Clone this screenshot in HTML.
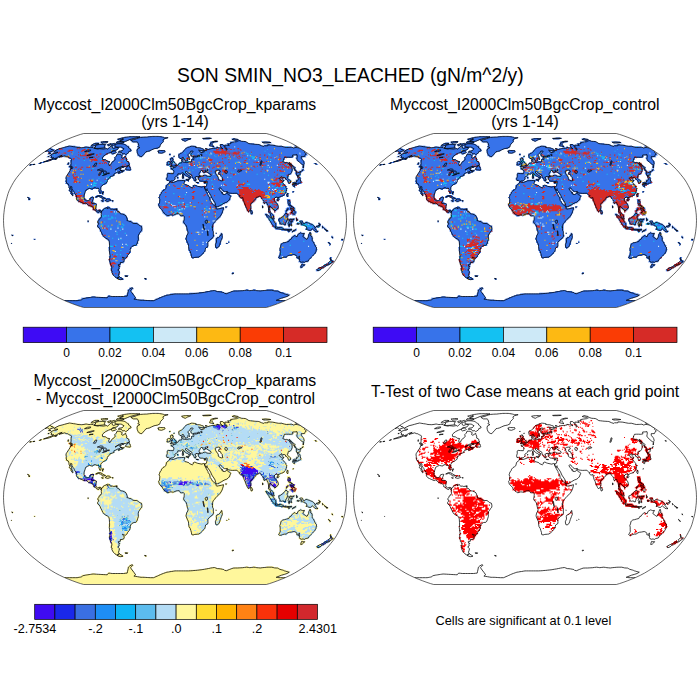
<!DOCTYPE html><html><head><meta charset="utf-8"><title>SON SMIN_NO3_LEACHED</title><style>html,body{margin:0;padding:0;background:#fff}svg{display:block}text{font-family:"Liberation Sans",Arial,Helvetica,sans-serif;fill:#000}.r{fill:none;stroke-width:1.12}</style></head><body>
<svg width="700" height="700" viewBox="0 0 700 700">
<rect width="700" height="700" fill="#fff"/>
<defs>
<path id="fr" d="M91.3 87L94.5 86.1L98.1 84.9L102.2 83.4L106.6 81.7L111.1 79.8L115.5 77.7L119.5 75.6L123.2 73.4L126.8 71.1L130.3 68.8L133.7 66.4L137 63.9L140.1 61.4L143.2 58.9L146.1 56.3L148.8 53.7L151.3 51.1L153.7 48.5L155.9 45.8L158.1 43.1L160 40.5L161.7 37.8L163.2 35.1L164.6 32.4L165.9 29.7L166.9 27L167.7 24.3L168.4 21.6L169.2 18.9L169.8 16.2L170.3 13.5L170.7 10.8L171 8.1L171.3 5.4L171.4 2.7L171.5 0L171.4 -2.7L171.3 -5.4L171 -8.1L170.7 -10.8L170.3 -13.5L169.8 -16.2L169.2 -18.9L168.4 -21.6L167.7 -24.3L166.9 -27L165.9 -29.7L164.6 -32.4L163.2 -35.1L161.7 -37.8L160 -40.5L158.1 -43.1L155.9 -45.8L153.7 -48.5L151.3 -51.1L148.8 -53.7L146.1 -56.3L143.2 -58.9L140.1 -61.4L137 -63.9L133.7 -66.4L130.3 -68.8L126.8 -71.1L123.2 -73.4L119.5 -75.6L115.5 -77.7L111.1 -79.8L106.6 -81.7L102.2 -83.4L98.1 -84.9L94.5 -86.1L91.3 -87L-91.3 -87L-94.5 -86.1L-98.1 -84.9L-102.2 -83.4L-106.6 -81.7L-111.1 -79.8L-115.5 -77.7L-119.5 -75.6L-123.2 -73.4L-126.8 -71.1L-130.3 -68.8L-133.7 -66.4L-137 -63.9L-140.1 -61.4L-143.2 -58.9L-146.1 -56.3L-148.8 -53.7L-151.3 -51.1L-153.7 -48.5L-155.9 -45.8L-158.1 -43.1L-160 -40.5L-161.7 -37.8L-163.2 -35.1L-164.6 -32.4L-165.9 -29.7L-166.9 -27L-167.7 -24.3L-168.4 -21.6L-169.2 -18.9L-169.8 -16.2L-170.3 -13.5L-170.7 -10.8L-171 -8.1L-171.3 -5.4L-171.4 -2.7L-171.5 0L-171.4 2.7L-171.3 5.4L-171 8.1L-170.7 10.8L-170.3 13.5L-169.8 16.2L-169.2 18.9L-168.4 21.6L-167.7 24.3L-166.9 27L-165.9 29.7L-164.6 32.4L-163.2 35.1L-161.7 37.8L-160 40.5L-158.1 43.1L-155.9 45.8L-153.7 48.5L-151.3 51.1L-148.8 53.7L-146.1 56.3L-143.2 58.9L-140.1 61.4L-137 63.9L-133.7 66.4L-130.3 68.8L-126.8 71.1L-123.2 73.4L-119.5 75.6L-115.5 77.7L-111.1 79.8L-106.6 81.7L-102.2 83.4L-98.1 84.9L-94.5 86.1L-91.3 87Z"/>
<clipPath id="cp"><use href="#fr"/></clipPath>
<path id="land" d="M-91.8 86.9H91.5L91 87H-91.3zM-93 86.5H92.7L91.5 86.9H-91.8zM-94.3 86.2H93.9L92.7 86.5H-93zM-95.6 85.8H95.3L93.9 86.2H-94.3zM-97 85.3H96.6L95.3 85.8H-95.6zM-98.4 84.8H98.1L96.6 85.3H-97zM-99.9 84.3H99.6L98.1 84.8H-98.4zM-101.5 83.7H101.1L99.6 84.3H-99.9zM-103.1 83.1H102.7L101.1 83.7H-101.5zM-104.7 82.5H104.3L102.7 83.1H-103.1zM-106.4 81.8H106L104.3 82.5H-104.7zM-108.1 81.1H107.7L106 81.8H-106.4zM-109.8 80.4H109.4L107.7 81.1H-108.1zM-111.5 79.6H111.1L109.4 80.4H-109.8zM-97.8 78.9H-31L-30.6 79.6H-96.4zM-20.8 78.9H104.1L102.6 79.6H-20.5zM-94.5 78.1H-38.7L-38.1 78.9H-93.1zM-19.5 78.1H105.6L104.1 78.9H-19.2zM-94.1 77.3H-39.2L-38.7 78.1H-92.9zM-17.4 77.3H108.7L107.2 78.1H-17.1zM-89.7 76.5H-39.7L-39.2 77.3H-88.5zM-16 76.5H110.9L109.5 77.3H-15.8zM-84.2 75.7H-80L-79 76.5H-83.1zM-68.4 75.7H-40.2L-39.7 76.5H-67.6zM-13.7 75.7H113.2L111.8 76.5H-13.5zM-67.5 74.8H-65L-64.3 75.7H-66.7zM-50.8 74.8H-40.7L-40.2 75.7H-50.2zM-11.3 74.8H114.5L113.2 75.7H-11.2zM-48.8 74H-41.2L-40.7 74.8H-48.2zM-8.9 74H115.9L114.5 74.8H-8.8zM-48.5 73.1H-41.6L-41.2 74H-48zM-4.7 73.1H113.7L112.5 74H-4.7zM-48.2 72.3H-42.1L-41.6 73.1H-47.6zM14.3 72.3H110.7L109.5 73.1H14.2zM-47.8 71.4H-43.4L-43 72.3H-47.3zM24.1 71.4H49.6L49 72.3H23.9zM54 71.4H109.2L108.1 72.3H53.4zM-47.4 70.6H-43.9L-43.4 71.4H-46.9zM30.6 70.6H47.4L46.9 71.4H30.3zM56.3 70.6H105.9L104.8 71.4H55.7zM-47.9 69.7H-43.4L-43 70.6H-47.4zM35.4 69.7H41.6L41.2 70.6H35zM58.7 69.7H104.3L103.3 70.6H58.1zM-47.5 68.8H-43L-42.5 69.7H-47zM71 68.8H73.7L73 69.7H70.3zM78.2 68.8H81L80.1 69.7H77.5zM91.8 68.8H99L98.1 69.7H90.9zM-46.1 67.9H-41.6L-41.2 68.8H-45.7zM-45.7 67H-42L-41.6 67.9H-45.2zM-57.3 58.5H-51.4L-51 59.5H-56.9zM-30.4 58.5H-28.4L-28.2 59.5H-30.2zM-58.8 57.6H-51.8L-51.4 58.5H-58.3zM-30.7 57.6H-28.6L-28.4 58.5H-30.4zM-60.2 56.6H-53.2L-52.8 57.6H-59.8zM-60.7 55.6H-55.6L-55.2 56.6H-60.2zM-50.5 55.6H-47.4L-47.1 56.6H-50.1zM-62.1 54.7H-56L-55.6 55.6H-61.7zM-50.8 54.7H-46.7L-46.4 55.6H-50.5zM-62.6 53.7H-55.3L-54.9 54.7H-62.1zM-63 52.7H-55.7L-55.3 53.7H-62.6zM56.7 52.7H58.8L58.4 53.7H56.4zM-63.4 51.7H-55L-54.6 52.7H-63zM57.1 51.7H59.2L58.8 52.7H56.7zM-63.7 50.7H-55.3L-55 51.7H-63.4zM-64.1 49.7H-55.6L-55.3 50.7H-63.7zM141.5 49.7H144.7L143.8 50.7H140.7zM-64.5 48.7H-56L-55.6 49.7H-64.1zM141.2 48.7H146.6L145.7 49.7H140.4zM-64.8 47.7H-55.2L-54.9 48.7H-64.5zM143.1 47.7H147.4L146.6 48.7H142.3zM-64.1 46.7H-55.5L-55.2 47.7H-63.8zM125.6 46.7H127.7L127 47.7H124.9zM143.9 46.7H149.3L148.5 47.7H143.1zM-64.5 45.7H-54.7L-54.4 46.7H-64.1zM125.1 45.7H128.4L127.7 46.7H124.5zM146.8 45.7H151.2L150.3 46.7H146zM-64.8 44.7H-55L-54.7 45.7H-64.5zM125.8 44.7H130.2L129.5 45.7H125.1zM148.7 44.7H153L152.2 45.7H147.9zM-65.1 43.7H-54.2L-53.9 44.7H-64.8zM126.4 43.7H130.8L130.2 44.7H125.8zM149.4 43.7H154.9L154.1 44.7H148.7zM-65.4 42.7H-54.4L-54.2 43.7H-65.1zM127 42.7H128.1L127.5 43.7H126.4zM151.2 42.7H156.7L156 43.7H150.5zM-65.7 41.7H-51.4L-51.1 42.7H-65.4zM125.4 41.7H129.8L129.2 42.7H124.8zM153 41.7H158.6L157.8 42.7H152.3zM-66 40.7H-50.5L-50.3 41.7H-65.7zM123.7 40.7H133.7L133.1 41.7H123.2zM154.8 40.7H159.3L158.6 41.7H154.1zM-66.3 39.6H-50.7L-50.5 40.7H-66zM124.3 39.6H134.3L133.7 40.7H123.7zM155.5 39.6H158.8L158.1 40.7H154.8zM-66.6 38.6H-49.8L-49.6 39.6H-66.3zM123.6 38.6H134.8L134.3 39.6H123.1zM155 38.6H157.2L156.6 39.6H154.4zM-65.7 37.6H-48.9L-48.7 38.6H-65.5zM17.4 37.6H18.5L18.5 38.6H17.3zM103.9 37.6H107.3L106.9 38.6H103.5zM121.9 37.6H136.5L136 38.6H121.4zM154.5 37.6H156.7L156.1 38.6H153.9zM-66 36.6H-47.9L-47.7 37.6H-65.7zM16.3 36.6H24.2L24.2 37.6H16.3zM103.2 36.6H112.2L111.8 37.6H102.8zM121.2 36.6H137L136.5 37.6H120.8zM155 36.6H157.3L156.7 37.6H154.5zM-66.2 35.6H-47L-46.8 36.6H-66zM16.4 35.6H25.5L25.4 36.6H16.3zM103.5 35.6H112.6L112.2 36.6H103.2zM121.6 35.6H137.5L137 36.6H121.2zM-65.3 34.6H-47.1L-47 35.6H-65.1zM15.3 34.6H26.7L26.6 35.6H15.3zM103.9 34.6H117.5L117.1 35.6H103.5zM119.8 34.6H139.1L138.6 35.6H119.4zM-65.5 33.6H-46.1L-46 34.6H-65.3zM15.4 33.6H27.9L27.8 34.6H15.3zM104.2 33.6H139.6L139.1 34.6H103.9zM-65.7 32.5H-45.1L-45 33.6H-65.5zM15.4 32.5H29.1L29 33.6H15.4zM104.6 32.5H141.1L140.7 33.6H104.2zM-65.9 31.5H-44.1L-44 32.5H-65.7zM14.3 31.5H29.2L29.1 32.5H14.3zM104.9 31.5H141.5L141.1 32.5H104.6zM-66.1 30.5H-44.2L-44.1 31.5H-65.9zM14.4 30.5H30.5L30.4 31.5H14.3zM105.2 30.5H141.9L141.5 31.5H104.9zM-66.3 29.5H-44.4L-44.2 30.5H-66.1zM13.3 29.5H30.5L30.5 30.5H13.2zM104.3 29.5H142.3L141.9 30.5H104zM-66.4 28.5H-44.5L-44.4 29.5H-66.3zM13.3 28.5H30.6L30.5 29.5H13.3zM104.5 28.5H142.6L142.3 29.5H104.3zM-66.6 27.5H-43.4L-43.3 28.5H-66.4zM13.3 27.5H30.7L30.6 28.5H13.3zM41.1 27.5H42.3L42.2 28.5H41zM104.8 27.5H141.8L141.5 28.5H104.5zM-66.7 26.4H-43.5L-43.4 27.5H-66.6zM13.3 26.4H33.1L33 27.5H13.3zM40 26.4H43.5L43.4 27.5H39.9zM105 26.4H142.1L141.8 27.5H104.8zM-65.7 25.4H-41.3L-41.2 26.4H-65.5zM13.4 25.4H33.1L33.1 26.4H13.3zM40.1 25.4H44.7L44.7 26.4H40zM105.2 25.4H141.2L140.9 26.4H105zM-65.8 24.4H-37.8L-37.8 25.4H-65.7zM13.4 24.4H33.2L33.1 25.4H13.4zM40.2 24.4H44.8L44.7 25.4H40.1zM105.4 24.4H141.5L141.2 25.4H105.2zM154.3 24.4H155.4L155.2 25.4H154zM-65.9 23.4H-37.9L-37.8 24.4H-65.8zM12.2 23.4H33.2L33.2 24.4H12.2zM40.2 23.4H46.1L46 24.4H40.2zM105.6 23.4H140.5L140.3 24.4H105.4zM154.5 23.4H155.7L155.4 24.4H154.3zM-164.1 22.4H-163L-162.7 23.4H-163.9zM-66 22.4H-36.8L-36.7 23.4H-65.9zM12.3 22.4H33.3L33.2 23.4H12.2zM40.3 22.4H46.1L46.1 23.4H40.2zM50.8 22.4H53.2L53.1 23.4H50.7zM105.7 22.4H139.6L139.4 23.4H105.6zM153.6 22.4H156L155.7 23.4H153.4zM-66.1 21.4H-36.9L-36.8 22.4H-66zM11.1 21.4H33.4L33.3 22.4H11.1zM40.4 21.4H46.2L46.1 22.4H40.3zM53.2 21.4H54.4L54.3 22.4H53.2zM108.2 21.4H139.8L139.6 22.4H108.1zM152.7 21.4H155.1L154.8 22.4H152.5zM-66.2 20.3H-36.9L-36.9 21.4H-66.1zM11.1 20.3H34.6L34.5 21.4H11.1zM40.4 20.3H46.3L46.2 21.4H40.4zM53.3 20.3H54.5L54.4 21.4H53.2zM111.9 20.3H138.9L138.7 21.4H111.8zM-67.5 19.3H-35.8L-35.7 20.3H-67.4zM11.2 19.3H35.8L35.7 20.3H11.1zM40.5 19.3H46.4L46.3 20.3H40.4zM113.3 19.3H137.9L137.7 20.3H113.1zM166.1 19.3H168.5L168.2 20.3H165.8zM-141.7 18.3H-139.3L-139.1 19.3H-141.5zM-68.8 18.3H-35.9L-35.8 19.3H-68.7zM10 18.3H37L37 19.3H10zM40.6 18.3H47.6L47.5 19.3H40.5zM114.6 18.3H138.1L137.9 19.3H114.5zM166.4 18.3H168.7L168.5 19.3H166.1zM-70.1 17.3H-35.9L-35.9 18.3H-70zM10 17.3H38.3L38.2 18.3H10zM40.6 17.3H47.7L47.6 18.3H40.6zM116 17.3H131.3L131.1 18.3H115.8zM132.5 17.3H138.3L138.1 18.3H132.3zM157.2 17.3H158.4L158.1 18.3H157zM-71.3 16.3H-36L-35.9 17.3H-71.2zM11.2 16.3H38.3L38.3 17.3H11.2zM41.9 16.3H47.7L47.7 17.3H41.8zM116.1 16.3H130.3L130.1 17.3H116zM132.6 16.3H137.3L137.2 17.3H132.5zM156.2 16.3H158.6L158.4 17.3H156zM-72.6 15.3H-36L-36 16.3H-72.5zM11.2 15.3H39.5L39.5 16.3H11.2zM44.3 15.3H47.8L47.7 16.3H44.2zM117.4 15.3H129.3L129.1 16.3H117.3zM132.8 15.3H137.5L137.3 16.3H132.6zM156.4 15.3H157.6L157.4 16.3H156.2zM-163.7 14.2H-161.3L-161.1 15.3H-163.5zM-72.7 14.2H-36L-36 15.3H-72.6zM11.2 14.2H39.6L39.5 15.3H11.2zM44.3 14.2H47.9L47.8 15.3H44.3zM118.8 14.2H121.1L121 15.3H118.6zM122.3 14.2H129.4L129.3 15.3H122.2zM132.9 14.2H136.5L136.3 15.3H132.8zM-73.9 13.2H-34.9L-34.9 14.2H-73.9zM12.4 13.2H38.4L38.4 14.2H12.4zM45.5 13.2H47.9L47.9 14.2H45.5zM122.4 13.2H129.5L129.4 14.2H122.3zM133.1 13.2H136.6L136.5 14.2H132.9zM-74 12.2H-34.9L-34.9 13.2H-73.9zM12.4 12.2H38.5L38.4 13.2H12.4zM40.9 12.2H42L42 13.2H40.8zM45.6 12.2H46.8L46.7 13.2H45.5zM123.7 12.2H129.7L129.5 13.2H123.6zM134.4 12.2H136.8L136.6 13.2H134.3zM-74.1 11.2H-33.8L-33.7 12.2H-74zM12.4 11.2H38.5L38.5 12.2H12.4zM113.2 11.2H114.4L114.3 12.2H113.1zM116.7 11.2H117.9L117.8 12.2H116.6zM125 11.2H126.2L126.1 12.2H124.9zM134.5 11.2H135.7L135.6 12.2H134.4zM140.4 11.2H142.8L142.7 12.2H140.3zM-75.3 10.2H-32.6L-32.6 11.2H-75.3zM12.5 10.2H38.5L38.5 11.2H12.4zM112.1 10.2H115.6L115.5 11.2H112zM116.8 10.2H120.4L120.3 11.2H116.7zM139.4 10.2H144.1L144 11.2H139.3zM151.2 10.2H153.6L153.5 11.2H151.1zM-75.4 9.2H-32.6L-32.6 10.2H-75.3zM11.3 9.2H38.6L38.5 10.2H11.3zM106.2 9.2H116.9L116.8 10.2H106.2zM118.1 9.2H121.7L121.6 10.2H118zM132.3 9.2H137.1L137 10.2H132.2zM138.3 9.2H141.8L141.7 10.2H138.2zM150.1 9.2H152.5L152.4 10.2H150zM-75.4 8.1H-32.7L-32.6 9.2H-75.4zM11.3 8.1H38.6L38.6 9.2H11.3zM100.4 8.1H117L116.9 9.2H100.3zM120.5 8.1H121.7L121.7 9.2H120.5zM130 8.1H141.9L141.8 9.2H130zM149.1 8.1H151.4L151.3 9.2H149zM-76.6 7.1H-32.7L-32.7 8.1H-76.6zM11.3 7.1H38.6L38.6 8.1H11.3zM99.2 7.1H108.7L108.7 8.1H99.2zM131.3 7.1H140.8L140.7 8.1H131.2zM146.8 7.1H150.3L150.2 8.1H146.7zM-77.9 6.1H-32.7L-32.7 7.1H-77.8zM11.3 6.1H38.6L38.6 7.1H11.3zM98.1 6.1H107.6L107.5 7.1H98zM113.5 6.1H114.7L114.7 7.1H113.5zM131.4 6.1H144.5L144.4 7.1H131.3zM146.8 6.1H149.2L149.1 7.1H146.8zM-77.9 5.1H-32.7L-32.7 6.1H-77.9zM10.1 5.1H38.7L38.6 6.1H10.1zM96.9 5.1H101.7L101.7 6.1H96.9zM113.6 5.1H114.8L114.7 6.1H113.5zM116 5.1H117.2L117.1 6.1H115.9zM129.1 5.1H139.8L139.7 6.1H129zM141 5.1H145.7L145.6 6.1H140.9zM146.9 5.1H148.1L148 6.1H146.8zM-77.9 4.1H-35.1L-35.1 5.1H-77.9zM10.1 4.1H38.7L38.7 5.1H10.1zM97 4.1H101.7L101.7 5.1H96.9zM108.9 4.1H111.3L111.2 5.1H108.8zM112.4 4.1H117.2L117.2 5.1H112.4zM125.5 4.1H138.6L138.6 5.1H125.5zM143.4 4.1H145.8L145.7 5.1H143.3zM-76.8 3.1H-36.3L-36.3 4.1H-76.7zM8.9 3.1H38.7L38.7 4.1H8.9zM95.8 3.1H101.8L101.7 4.1H95.8zM104.1 3.1H111.3L111.3 4.1H104.1zM112.5 3.1H117.2L117.2 4.1H112.4zM120.8 3.1H137.5L137.4 4.1H120.8zM143.4 3.1H145.8L145.8 4.1H143.4zM-78 2H-37.5L-37.5 3.1H-78zM7.7 2H39.9L39.9 3.1H7.7zM95.8 2H101.8L101.8 3.1H95.8zM104.2 2H111.3L111.3 3.1H104.1zM112.5 2H117.3L117.2 3.1H112.5zM122 2H124.4L124.4 3.1H122zM125.6 2H135.1L135.1 3.1H125.6zM143.5 2H144.7L144.6 3.1H143.4zM-87.5 1H-86.3L-86.3 2H-87.5zM-78 1H-42.3L-42.3 2H-78zM7.7 1H41.1L41.1 2H7.7zM94.7 1H100.6L100.6 2H94.7zM104.2 1H112.5L112.5 2H104.2zM113.7 1H118.5L118.5 2H113.7zM124.4 1H128L128 2H124.4zM130.4 1H132.8L132.7 2H130.4zM-87.5 0H-86.3L-86.3 1H-87.5zM-78 0H-43.5L-43.5 1H-78zM7.7 0H41.1L41.1 1H7.7zM94.7 0H99.4L99.4 1H94.7zM103 0H112.5L112.5 1H103zM113.7 0H118.5L118.5 1H113.7zM120.9 0H122.1L122.1 1H120.9zM124.5 0H128L128 1H124.4zM-76.8 -1H-47L-47 0H-76.8zM8.9 -1H42.3L42.3 0H8.9zM93.5 -1H99.4L99.4 0H93.5zM103 -1H119.7L119.7 0H103zM120.9 -1H123.2L123.3 0H120.9zM-76.8 -2H-47L-47 -1H-76.8zM8.9 -2H43.5L43.5 -1H8.9zM93.5 -2H99.4L99.4 -1H93.5zM103 -2H119.7L119.7 -1H103zM120.8 -2H123.2L123.2 -1H120.9zM-75.6 -3.1H-47L-47 -2H-75.6zM8.9 -3.1H44.6L44.6 -2H8.9zM92.2 -3.1H99.4L99.4 -2H92.3zM104.1 -3.1H112.5L112.5 -2H104.2zM120.8 -3.1H122L122 -2H120.8zM-74.4 -4.1H-48.2L-48.2 -3.1H-74.4zM8.9 -4.1H45.8L45.8 -3.1H8.9zM91 -4.1H99.4L99.4 -3.1H91.1zM106.5 -4.1H113.6L113.7 -3.1H106.5zM-74.3 -5.1H-48.2L-48.2 -4.1H-74.4zM-8.9 -5.1H-5.4L-5.4 -4.1H-8.9zM-3 -5.1H-1.8L-1.8 -4.1H-3zM5.4 -5.1H45.8L45.8 -4.1H5.4zM91 -5.1H99.3L99.4 -4.1H91zM107.6 -5.1H113.6L113.6 -4.1H107.7zM-74.3 -6.1H-49.3L-49.4 -5.1H-74.3zM-10.1 -6.1H0.6L0.6 -5.1H-10.1zM4.2 -6.1H47L47 -5.1H4.2zM89.8 -6.1H93.3L93.4 -5.1H89.8zM94.5 -6.1H99.3L99.3 -5.1H94.6zM108.8 -6.1H114.7L114.8 -5.1H108.8zM117.1 -6.1H120.7L120.7 -5.1H117.2zM-74.3 -7.1H-50.5L-50.5 -6.1H-74.3zM-11.3 -7.1H46.9L47 -6.1H-11.3zM75.5 -7.1H77.8L77.9 -6.1H75.5zM89.7 -7.1H92.1L92.1 -6.1H89.8zM94.5 -7.1H98L98.1 -6.1H94.5zM108.7 -7.1H113.5L113.5 -6.1H108.8zM114.7 -7.1H120.6L120.7 -6.1H114.7zM-77.8 -8.1H-75.4L-75.5 -7.1H-77.8zM-74.2 -8.1H-54L-54.1 -7.1H-74.3zM-12.5 -8.1H48.1L48.1 -7.1H-12.5zM75.4 -8.1H77.8L77.8 -7.1H75.5zM93.2 -8.1H96.8L96.8 -7.1H93.3zM109.9 -8.1H112.2L112.3 -7.1H109.9zM114.6 -8.1H121.7L121.8 -7.1H114.7zM-78.9 -9.2H-55.2L-55.2 -8.1H-79zM-12.5 -9.2H48.1L48.1 -8.1H-12.5zM73 -9.2H74.2L74.2 -8.1H73zM75.4 -9.2H77.7L77.8 -8.1H75.4zM93.2 -9.2H95.5L95.6 -8.1H93.2zM99.1 -9.2H100.3L100.4 -8.1H99.2zM109.8 -9.2H112.2L112.2 -8.1H109.9zM115.7 -9.2H121.7L121.7 -8.1H115.8zM-80.1 -10.2H-56.3L-56.4 -9.2H-80.1zM-13.6 -10.2H48L48.1 -9.2H-13.6zM71.8 -10.2H77.7L77.7 -9.2H71.8zM93.1 -10.2H95.5L95.5 -9.2H93.2zM99 -10.2H101.4L101.5 -9.2H99.1zM109.7 -10.2H113.3L113.3 -9.2H109.8zM115.6 -10.2H120.4L120.5 -9.2H115.7zM-82.4 -11.2H-77.6L-77.7 -10.2H-82.4zM-76.4 -11.2H-74.1L-74.1 -10.2H-76.5zM-72.9 -11.2H-57.5L-57.5 -10.2H-72.9zM-13.6 -11.2H49.2L49.2 -10.2H-13.6zM71.7 -11.2H76.4L76.5 -10.2H71.8zM93 -11.2H95.4L95.5 -10.2H93.1zM97.8 -11.2H102.5L102.6 -10.2H97.8zM110.8 -11.2H120.3L120.4 -10.2H110.9zM-82.3 -12.2H-78.7L-78.8 -11.2H-82.4zM-71.6 -12.2H-57.4L-57.5 -11.2H-71.7zM-14.8 -12.2H49.1L49.2 -11.2H-14.8zM71.6 -12.2H76.4L76.4 -11.2H71.7zM93 -12.2H95.3L95.4 -11.2H93zM96.5 -12.2H103.6L103.7 -11.2H96.6zM110.7 -12.2H120.2L120.3 -11.2H110.8zM-82.2 -13.2H-78.7L-78.7 -12.2H-82.3zM-70.4 -13.2H-64.5L-64.5 -12.2H-70.5zM-16 -13.2H42L42 -12.2H-16zM45.5 -13.2H49.1L49.1 -12.2H45.6zM50.3 -13.2H51.5L51.5 -12.2H50.3zM70.4 -13.2H76.3L76.4 -12.2H70.5zM86.9 -13.2H88.1L88.2 -12.2H87zM92.9 -13.2H103.5L103.6 -12.2H93zM111.8 -13.2H120.1L120.2 -12.2H111.9zM-84.5 -14.2H-78.6L-78.7 -13.2H-84.6zM-68 -14.2H-65.6L-65.7 -13.2H-68zM-16 -14.2H44.3L44.4 -13.2H-16zM50.2 -14.2H52.6L52.6 -13.2H50.3zM70.3 -14.2H76.2L76.3 -13.2H70.4zM86.9 -14.2H88L88.1 -13.2H86.9zM92.8 -14.2H103.4L103.5 -13.2H92.9zM114 -14.2H118.8L118.9 -13.2H114.2zM-86.8 -15.3H-78.5L-78.6 -14.2H-86.9zM-17.1 -15.3H46.6L46.7 -14.2H-17.1zM70.2 -15.3H76.1L76.2 -14.2H70.3zM86.8 -15.3H87.9L88 -14.2H86.9zM92.7 -15.3H103.3L103.4 -14.2H92.8zM112.7 -15.3H117.4L117.6 -14.2H112.9zM-87.8 -16.3H-78.4L-78.5 -15.3H-87.9zM-17.1 -16.3H47.7L47.8 -15.3H-17.1zM69 -16.3H76L76.1 -15.3H69.1zM91.4 -16.3H103.2L103.3 -15.3H91.5zM112.6 -16.3H116.1L116.3 -15.3H112.7zM-92.4 -17.3H-78.3L-78.4 -16.3H-92.5zM-17.1 -17.3H38.3L38.3 -16.3H-17.1zM39.4 -17.3H50L50.1 -16.3H39.5zM68.9 -17.3H77.1L77.2 -16.3H69zM88.9 -17.3H90.1L90.2 -16.3H89zM91.2 -17.3H103L103.2 -16.3H91.4zM112.4 -17.3H116L116.1 -16.3H112.6zM-94.6 -18.3H-80.5L-80.6 -17.3H-94.8zM-15.9 -18.3H37L37.1 -17.3H-15.9zM39.4 -18.3H52.3L52.4 -17.3H39.4zM68.8 -18.3H78.2L78.3 -17.3H68.9zM87.6 -18.3H101.7L101.8 -17.3H87.7zM112.3 -18.3H115.8L116 -17.3H112.4zM-96.8 -19.3H-81.6L-81.7 -18.3H-97zM-73.4 -19.3H-71L-71.1 -18.3H-73.5zM-68.7 -19.3H-66.3L-66.4 -18.3H-68.8zM-62.8 -19.3H-61.6L-61.7 -18.3H-62.9zM-15.8 -19.3H37L37 -18.3H-15.9zM38.2 -19.3H53.4L53.5 -18.3H38.2zM68.7 -19.3H79.2L79.4 -18.3H68.8zM88.6 -19.3H101.5L101.7 -18.3H88.8zM112.1 -19.3H115.6L115.8 -18.3H112.3zM-97.9 -20.3H-81.5L-81.6 -19.3H-98zM-74.4 -20.3H-61.5L-61.6 -19.3H-74.5zM-15.8 -20.3H35.7L35.8 -19.3H-15.8zM38.1 -20.3H54.5L54.6 -19.3H38.2zM67.4 -20.3H80.3L80.4 -19.3H67.5zM87.3 -20.3H100.2L100.4 -19.3H87.5zM101.4 -20.3H103.7L103.9 -19.3H101.5zM111.9 -20.3H115.4L115.6 -19.3H112.1zM-146.9 -21.4H-144.5L-144.7 -20.3H-147.1zM-98.9 -21.4H-88.3L-88.5 -20.3H-99zM-86 -21.4H-81.3L-81.5 -20.3H-86.1zM-73.1 -21.4H-70.8L-70.9 -20.3H-73.3zM-69.6 -21.4H-63.8L-63.9 -20.3H-69.7zM-15.8 -21.4H35.7L35.7 -20.3H-15.8zM36.9 -21.4H55.6L55.7 -20.3H36.9zM67.3 -21.4H81.3L81.5 -20.3H67.4zM87.2 -21.4H100.1L100.2 -20.3H87.3zM101.2 -21.4H104.7L104.9 -20.3H101.4zM111.8 -21.4H115.3L115.4 -20.3H111.9zM-146.6 -22.4H-144.3L-144.5 -21.4H-146.9zM-98.7 -22.4H-89.4L-89.5 -21.4H-98.9zM-85.9 -22.4H-81.2L-81.3 -21.4H-86zM-73 -22.4H-64.8L-64.9 -21.4H-73.1zM-15.8 -22.4H35.6L35.7 -21.4H-15.8zM36.8 -22.4H55.5L55.6 -21.4H36.9zM66 -22.4H81.2L81.3 -21.4H66.1zM85.9 -22.4H99.9L100.1 -21.4H86zM102.2 -22.4H104.6L104.7 -21.4H102.4zM-147.5 -23.4H-145.2L-145.5 -22.4H-147.8zM-98.6 -23.4H-90.4L-90.5 -22.4H-98.7zM-84.6 -23.4H-81.1L-81.2 -22.4H-84.7zM-79.9 -23.4H-77.6L-77.7 -22.4H-80zM-75.2 -23.4H-69.4L-69.5 -22.4H-75.4zM-16.9 -23.4H55.4L55.5 -22.4H-16.9zM64.7 -23.4H83.4L83.5 -22.4H64.8zM85.7 -23.4H105.6L105.7 -22.4H85.9zM-99.6 -24.4H-90.2L-90.4 -23.4H-99.7zM-83.3 -24.4H-82.1L-82.2 -23.4H-83.4zM-79.8 -24.4H-71.6L-71.7 -23.4H-79.9zM-15.7 -24.4H34.3L34.4 -23.4H-15.7zM35.5 -24.4H56.5L56.6 -23.4H35.6zM63.5 -24.4H107.7L107.9 -23.4H63.6zM111.2 -24.4H113.5L113.7 -23.4H111.4zM-102.9 -25.4H-101.7L-101.9 -24.4H-103zM-99.4 -25.4H-90.1L-90.2 -24.4H-99.6zM-78.5 -25.4H-72.6L-72.8 -24.4H-78.6zM-15.7 -25.4H34.3L34.3 -24.4H-15.7zM35.5 -25.4H56.4L56.5 -24.4H35.5zM63.3 -25.4H109.8L110 -24.4H63.5zM111 -25.4H113.3L113.5 -24.4H111.2zM-103.8 -26.4H-101.5L-101.7 -25.4H-104zM-100.3 -26.4H-89.9L-90.1 -25.4H-100.5zM-72.5 -26.4H-71.3L-71.5 -25.4H-72.6zM-15.7 -26.4H33.1L33.1 -25.4H-15.7zM34.2 -26.4H55.1L55.2 -25.4H34.3zM62.1 -26.4H109.6L109.8 -25.4H62.2zM110.8 -26.4H113.1L113.3 -25.4H111zM-104.8 -27.5H-89.7L-89.9 -26.4H-105zM-75.8 -27.5H-71.2L-71.3 -26.4H-76zM-14.5 -27.5H33L33.1 -26.4H-14.5zM34.2 -27.5H48L48.1 -26.4H34.2zM50.4 -27.5H110.6L110.8 -26.4H50.5zM111.7 -27.5H114L114.3 -26.4H111.9zM-104.5 -28.5H-102.2L-102.5 -27.5H-104.8zM-101.1 -28.5H-89.5L-89.7 -27.5H-101.3zM-75.7 -28.5H-71L-71.2 -27.5H-75.8zM-14.4 -28.5H47.9L48 -27.5H-14.5zM51.4 -28.5H111.5L111.7 -27.5H51.5zM117.2 -28.5H118.4L118.7 -27.5H117.5zM-105.4 -29.5H-89.3L-89.5 -28.5H-105.7zM-76.6 -29.5H-70.9L-71 -28.5H-76.8zM-13.3 -29.5H31.7L31.8 -28.5H-13.3zM32.8 -29.5H46.7L46.8 -28.5H32.9zM47.8 -29.5H111.2L111.5 -28.5H47.9zM117 -29.5H119.3L119.5 -28.5H117.2zM-106.3 -30.5H-87.9L-88.1 -29.5H-106.6zM-76.4 -30.5H-73L-73.2 -29.5H-76.6zM-13.2 -30.5H45.4L45.5 -29.5H-13.3zM46.5 -30.5H112.1L112.3 -29.5H46.7zM-106 -31.5H-86.5L-86.8 -30.5H-106.3zM-84.2 -31.5H-81.9L-82.2 -30.5H-84.5zM-76.2 -31.5H-73.9L-74.1 -30.5H-76.4zM-12 -31.5H45.3L45.4 -30.5H-12.1zM46.4 -31.5H111.7L112.1 -30.5H46.5zM-105.7 -32.5H-73.7L-73.9 -31.5H-106zM-9.7 -32.5H112.6L112.9 -31.5H-9.7zM-106.5 -33.6H-73.5L-73.7 -32.5H-106.8zM-9.7 -33.6H111.1L111.4 -32.5H-9.7zM119 -33.6H120.2L120.6 -32.5H119.4zM-106.2 -34.6H-73.2L-73.5 -33.6H-106.5zM-9.7 -34.6H15.3L15.4 -33.6H-9.7zM17.6 -34.6H111.8L112.2 -33.6H17.7zM117.5 -34.6H119.8L120.2 -33.6H117.9zM-106.9 -35.6H-71.9L-72.1 -34.6H-107.3zM-9.6 -35.6H14.1L14.2 -34.6H-9.7zM17.5 -35.6H22.1L22.1 -34.6H17.6zM31.1 -35.6H110.3L110.7 -34.6H31.2zM117.1 -35.6H121.6L122.1 -34.6H117.5zM-107.7 -36.6H-69.3L-69.6 -35.6H-108.1zM-8.5 -36.6H11.8L11.9 -35.6H-8.5zM31 -36.6H109.9L110.3 -35.6H31.1zM116.7 -36.6H123.5L123.9 -35.6H117.1zM-109.5 -37.6H-68L-68.2 -36.6H-109.9zM-7.3 -37.6H9.5L9.6 -36.6H-7.3zM21.9 -37.6H24.2L24.2 -36.6H22zM28.6 -37.6H108.4L108.8 -36.6H28.8zM112.9 -37.6H115.1L115.6 -36.6H113.3zM117.4 -37.6H126.4L126.8 -36.6H117.8zM-109.1 -38.6H-67.7L-68 -37.6H-109.5zM-6.2 -38.6H9.5L9.5 -37.6H-6.2zM20.7 -38.6H24.1L24.2 -37.6H20.8zM28.5 -38.6H108L108.4 -37.6H28.6zM112.5 -38.6H115.8L116.3 -37.6H112.9zM116.9 -38.6H127L127.5 -37.6H117.4zM-109.8 -39.6H-67.4L-67.7 -38.6H-110.2zM-6.1 -39.6H-1.7L-1.7 -38.6H-6.2zM-0.6 -39.6H10.6L10.6 -38.6H-0.6zM12.8 -39.6H13.9L14 -38.6H12.9zM19.5 -39.6H20.6L20.7 -38.6H19.6zM24 -39.6H108.7L109.1 -38.6H24.1zM112 -39.6H116.5L116.9 -38.6H112.5zM120.9 -39.6H126.5L127 -38.6H121.4zM-109.3 -40.7H-67.1L-67.4 -39.6H-109.8zM-8.3 -40.7H-0.6L-0.6 -39.6H-8.4zM1.7 -40.7H13.9L13.9 -39.6H1.7zM18.3 -40.7H21.6L21.7 -39.6H18.4zM23.9 -40.7H109.3L109.8 -39.6H24zM111.5 -40.7H116L116.5 -39.6H112zM120.4 -40.7H126L126.5 -39.6H120.9zM-108.8 -41.7H-65.7L-66 -40.7H-109.3zM-9.4 -41.7H0.6L0.6 -40.7H-9.4zM10.5 -41.7H14.9L15 -40.7H10.5zM18.2 -41.7H21.5L21.6 -40.7H18.3zM22.7 -41.7H44.8L44.9 -40.7H22.8zM47 -41.7H105.5L106 -40.7H47.2zM106.6 -41.7H107.7L108.2 -40.7H107.1zM109.9 -41.7H114.4L114.9 -40.7H110.4zM122.1 -41.7H125.4L126 -40.7H122.6zM-109.4 -42.7H-64.3L-64.6 -41.7H-109.9zM-9.3 -42.7H0.5L0.6 -41.7H-9.4zM1.6 -42.7H3.8L3.9 -41.7H1.7zM7.1 -42.7H9.3L9.4 -41.7H7.2zM13.7 -42.7H15.9L16 -41.7H13.8zM17 -42.7H21.4L21.5 -41.7H17.1zM22.5 -42.7H43.4L43.6 -41.7H22.7zM46.7 -42.7H108.3L108.8 -41.7H47zM109.4 -42.7H112.7L113.3 -41.7H109.9zM122.6 -42.7H125.9L126.5 -41.7H123.2zM-108.9 -43.7H-64L-64.3 -42.7H-109.4zM-8.2 -43.7H0.5L0.5 -42.7H-8.2zM1.6 -43.7H3.8L3.8 -42.7H1.6zM7.1 -43.7H9.3L9.3 -42.7H7.1zM12.6 -43.7H21.3L21.4 -42.7H12.6zM22.4 -43.7H43.2L43.4 -42.7H22.5zM46.5 -43.7H113.3L113.8 -42.7H46.7zM122.1 -43.7H125.3L125.9 -42.7H122.6zM-108.4 -44.7H-61.5L-61.8 -43.7H-108.9zM-8.2 -44.7H2.7L2.7 -43.7H-8.2zM7.1 -44.7H9.3L9.3 -43.7H7.1zM10.3 -44.7H15.8L15.9 -43.7H10.4zM16.9 -44.7H43L43.2 -43.7H17zM45.2 -44.7H113.8L114.4 -43.7H45.4zM121.4 -44.7H123.6L124.2 -43.7H122.1zM-107.8 -45.7H-60.1L-60.4 -44.7H-108.4zM-8.1 -45.7H3.8L3.8 -44.7H-8.2zM7 -45.7H14.6L14.7 -44.7H7.1zM15.7 -45.7H25.5L25.6 -44.7H15.8zM27.6 -45.7H32L32.1 -44.7H27.8zM35.2 -45.7H42.8L43 -44.7H35.4zM45 -45.7H113.2L113.8 -44.7H45.2zM120.8 -45.7H125.1L125.8 -44.7H121.4zM-107.2 -46.7H-59.8L-60.1 -45.7H-107.8zM-8.1 -46.7H5.9L6 -45.7H-8.1zM7 -46.7H12.4L12.5 -45.7H7zM13.5 -46.7H24.2L24.4 -45.7H13.5zM33.9 -46.7H41.5L41.7 -45.7H34.1zM42.6 -46.7H115.9L116.5 -45.7H42.8zM120.2 -46.7H125.6L126.2 -45.7H120.8zM-106.6 -47.7H-58.4L-58.7 -46.7H-107.2zM-57.3 -47.7H-54.1L-54.4 -46.7H-57.7zM-8 -47.7H25.2L25.3 -46.7H-8.1zM28.4 -47.7H29.5L29.6 -46.7H28.6zM32.7 -47.7H41.3L41.5 -46.7H32.9zM43.4 -47.7H116.3L116.9 -46.7H43.6zM119.5 -47.7H124.9L125.6 -46.7H120.2zM-106.1 -48.7H-51.7L-52 -47.7H-106.6zM-1.6 -48.7H11.2L11.3 -47.7H-1.6zM12.3 -48.7H26.1L26.3 -47.7H12.3zM27.2 -48.7H41L41.3 -47.7H27.3zM43.2 -48.7H116.7L117.4 -47.7H43.4zM119.9 -48.7H126.3L127 -47.7H120.6zM-105.4 -49.7H-50.3L-50.6 -48.7H-106.1zM-1.6 -49.7H26L26.1 -48.7H-1.6zM27 -49.7H41.9L42.1 -48.7H27.2zM44 -49.7H117.1L117.8 -48.7H44.2zM120.3 -49.7H121.3L122 -48.7H121zM123.5 -49.7H127.7L128.4 -48.7H124.2zM-104.8 -50.7H-50L-50.3 -49.7H-105.4zM-49 -50.7H-43.7L-44 -49.7H-49.3zM-2.6 -50.7H117.5L118.2 -49.7H-2.6zM118.5 -50.7H121.7L122.4 -49.7H119.2zM125.9 -50.7H129.1L129.8 -49.7H126.6zM-105.2 -51.7H-53.9L-54.3 -50.7H-105.9zM-49.7 -51.7H-43.5L-43.7 -50.7H-50zM-4.7 -51.7H117.8L118.5 -50.7H-4.7zM118.9 -51.7H119.9L120.6 -50.7H119.6zM126.2 -51.7H128.3L129.1 -50.7H127zM-104.6 -52.7H-53.6L-53.9 -51.7H-105.2zM-49.4 -52.7H-44.2L-44.5 -51.7H-49.7zM-4.7 -52.7H117.1L117.8 -51.7H-4.7zM118.1 -52.7H120.2L121 -51.7H118.9zM127.5 -52.7H128.5L129.3 -51.7H128.3zM-106 -53.7H-50.2L-50.5 -52.7H-106.7zM-49.1 -53.7H-43.9L-44.2 -52.7H-49.4zM-4.7 -53.7H-3.6L-3.6 -52.7H-4.7zM-1.6 -53.7H116.3L117.1 -52.7H-1.6zM117.4 -53.7H120.5L121.2 -52.7H118.1zM126.7 -53.7H128.7L129.6 -52.7H127.5zM-106.3 -54.7H-44.7L-45 -53.7H-107zM-5.6 -54.7H118.6L119.4 -53.7H-5.7zM126.8 -54.7H128.9L129.8 -53.7H127.7zM-145.3 -55.6H-143.3L-144.3 -54.7H-146.4zM-104.5 -55.6H-45.4L-45.7 -54.7H-105.3zM-8.7 -55.6H-5.6L-5.6 -54.7H-8.7zM-4.6 -55.6H117.8L118.6 -54.7H-4.6zM127 -55.6H129L129.9 -54.7H127.9zM-144.3 -56.6H-139.2L-140.2 -55.6H-145.3zM-107.8 -56.6H-105.8L-106.6 -55.6H-108.6zM-104.8 -56.6H-65.3L-65.8 -55.6H-105.6zM-64.3 -56.6H-45.1L-45.4 -55.6H-64.8zM-8.6 -56.6H1.5L1.5 -55.6H-8.7zM2.5 -56.6H116.9L117.8 -55.6H2.5zM126.1 -56.6H129.1L130 -55.6H127zM140.2 -56.6H142.3L143.3 -55.6H141.3zM-136.2 -57.6H-133.2L-134.2 -56.6H-137.2zM-107 -57.6H-105L-105.8 -56.6H-107.8zM-104 -57.6H-65.8L-66.3 -56.6H-104.8zM-63.8 -57.6H-44.7L-45.1 -56.6H-64.3zM-8.5 -57.6H1.5L1.5 -56.6H-8.6zM3.5 -57.6H116.1L116.9 -56.6H3.5zM125.1 -57.6H129.1L130.1 -56.6H126.1zM138.2 -57.6H141.2L142.3 -56.6H139.2zM-134.1 -58.5H-130.1L-131.2 -57.6H-135.2zM-106.2 -58.5H-105.2L-106 -57.6H-107zM-104.2 -58.5H-65.3L-65.8 -57.6H-105zM-63.3 -58.5H-45.4L-45.7 -57.6H-63.8zM-8.5 -58.5H0.5L0.5 -57.6H-8.5zM4.5 -58.5H112.2L113.1 -57.6H4.5zM113.2 -58.5H114.2L115.1 -57.6H114.1zM124.2 -58.5H129.1L130.1 -57.6H125.1zM-131.1 -59.5H-126.2L-127.2 -58.5H-132.1zM-104.4 -59.5H-64.8L-65.3 -58.5H-105.2zM-62.8 -59.5H-46L-46.4 -58.5H-63.3zM-7.4 -59.5H-0.5L-0.5 -58.5H-7.5zM6.4 -59.5H8.4L8.5 -58.5H6.5zM9.4 -59.5H108.3L109.2 -58.5H9.5zM122.2 -59.5H129.1L130.1 -58.5H123.2zM-128.1 -60.5H-123.2L-124.2 -59.5H-129.1zM-104.5 -60.5H-67.2L-67.8 -59.5H-105.4zM-61.3 -60.5H-47.6L-48 -59.5H-61.8zM-4.4 -60.5H-1.5L-1.5 -59.5H-4.5zM6.4 -60.5H8.3L8.4 -59.5H6.4zM9.3 -60.5H13.2L13.4 -59.5H9.4zM16.2 -60.5H108.4L109.3 -59.5H16.3zM121.2 -60.5H128.1L129.1 -59.5H122.2zM-126 -61.4H-118.3L-119.2 -60.5H-127.1zM-103.7 -61.4H-68.6L-69.2 -60.5H-104.5zM-60.8 -61.4H-47.2L-47.6 -60.5H-61.3zM-5.4 -61.4H-1.5L-1.5 -60.5H-5.4zM6.3 -61.4H8.3L8.3 -60.5H6.4zM9.2 -61.4H13.1L13.2 -60.5H9.3zM14.1 -61.4H15.1L15.2 -60.5H14.2zM16.1 -61.4H109.5L110.4 -60.5H16.2zM121.2 -61.4H127L128.1 -60.5H122.2zM-123 -62.4H-117.3L-118.3 -61.4H-124.1zM-105.7 -62.4H-71.9L-72.5 -61.4H-106.6zM-60.3 -62.4H-47.8L-48.2 -61.4H-60.8zM-5.3 -62.4H-1.4L-1.5 -61.4H-5.4zM4.3 -62.4H15L15.1 -61.4H4.4zM16.9 -62.4H109.5L110.5 -61.4H17zM120.2 -62.4H126.9L128 -61.4H121.2zM-124.9 -63.3H-115.3L-116.3 -62.4H-125.9zM-106.7 -63.3H-71.3L-71.9 -62.4H-107.6zM-60.8 -63.3H-48.3L-48.7 -62.4H-61.3zM-4.3 -63.3H-1.4L-1.4 -62.4H-4.3zM3.3 -63.3H14.8L15 -62.4H3.4zM17.7 -63.3H117.2L118.2 -62.4H17.9zM120.1 -63.3H126.8L127.9 -62.4H121.1zM-127.5 -64.2H-125.6L-126.8 -63.3H-128.7zM-123.8 -64.2H-111.4L-112.4 -63.3H-124.9zM-110.5 -64.2H-70.6L-71.3 -63.3H-111.5zM-59.3 -64.2H-52.6L-53.1 -63.3H-59.8zM-50.7 -64.2H-48.8L-49.3 -63.3H-51.2zM-35.6 -64.2H-32.7L-33 -63.3H-35.9zM-1.4 -64.2H-0.5L-0.5 -63.3H-1.4zM3.3 -64.2H14.7L14.8 -63.3H3.3zM16.6 -64.2H118.1L119.1 -63.3H16.7zM120.9 -64.2H130.4L131.6 -63.3H122zM-125.5 -65.1H-70L-70.6 -64.2H-126.6zM-58.7 -65.1H-52.2L-52.6 -64.2H-59.3zM-49.3 -65.1H-48.4L-48.8 -64.2H-49.8zM-37.1 -65.1H-31.5L-31.8 -64.2H-37.5zM-1.4 -65.1H-0.5L-0.5 -64.2H-1.4zM3.3 -65.1H13.6L13.8 -64.2H3.3zM15.5 -65.1H117.9L119 -64.2H15.6zM120.8 -65.1H130.2L131.3 -64.2H121.9zM-124.3 -66.1H-68.4L-69.1 -65.1H-125.5zM-58.2 -66.1H-51.7L-52.2 -65.1H-58.7zM-49.8 -66.1H-47.9L-48.4 -65.1H-50.3zM-37.7 -66.1H-31.2L-31.5 -65.1H-38.1zM-6.1 -66.1H-4.2L-4.2 -65.1H-6.1zM3.3 -66.1H13.5L13.6 -65.1H3.3zM15.4 -66.1H131.7L133 -65.1H15.5zM-126.8 -67H-124L-125.2 -66.1H-128zM-123.1 -67H-66.9L-67.5 -66.1H-124.3zM-63.2 -67H-60.4L-61 -66.1H-63.8zM-57.6 -67H-54L-54.5 -66.1H-58.2zM-53 -67H-47.5L-47.9 -66.1H-53.5zM-37.4 -67H-30L-30.3 -66.1H-37.7zM-6 -67H-4.2L-4.2 -66.1H-6.1zM3.2 -67H14.3L14.4 -66.1H3.3zM15.2 -67H131.4L132.7 -66.1H15.4zM-125.6 -67.9H-122.9L-124 -67H-126.8zM-121 -67.9H-58.9L-59.5 -67H-122.2zM-57.1 -67.9H-56.2L-56.7 -67H-57.6zM-54.4 -67.9H-46.1L-46.6 -67H-54.9zM-37.9 -67.9H-29.7L-30 -67H-38.3zM-16.9 -67.9H-11.4L-11.5 -67H-17.1zM5 -67.9H130.2L131.4 -67H5.1zM-130.3 -68.8H-129.8L-131.1 -67.9H-131.5zM-126.2 -68.8H-123.5L-124.7 -67.9H-127.4zM-121.7 -68.8H-57.4L-58 -67.9H-122.9zM-56.5 -68.8H-45.7L-46.1 -67.9H-57.1zM-38.4 -68.8H-27.6L-27.9 -67.9H-38.8zM-16.7 -68.8H-9.5L-9.6 -67.9H-16.9zM6.8 -68.8H15.8L16 -67.9H6.9zM16.7 -68.8H129.8L131.1 -67.9H16.9zM-129 -69.7H-121.3L-122.6 -68.8H-130.3zM-120.4 -69.7H-58.7L-59.2 -68.8H-121.7zM-56 -69.7H-43.4L-43.9 -68.8H-56.5zM-38.1 -69.7H-24.6L-24.9 -68.8H-38.4zM-17.5 -69.7H-9.4L-9.5 -68.8H-17.6zM7.6 -69.7H25.5L25.8 -68.8H7.7zM26.4 -69.7H128.5L129.8 -68.8H26.7zM-127.6 -70.6H-120.1L-121.3 -69.7H-129zM-119.2 -70.6H-58.1L-58.7 -69.7H-120.4zM-53.6 -70.6H-43L-43.4 -69.7H-54.2zM-38.6 -70.6H-23.5L-23.7 -69.7H-39zM-16.4 -70.6H-10.2L-10.3 -69.7H-16.6zM8.4 -70.6H127.2L128.5 -69.7H8.5zM-126.3 -71.4H-119.7L-121 -70.6H-127.6zM-118 -71.4H-56.6L-57.2 -70.6H-119.2zM-52.2 -71.4H-43.4L-43.9 -70.6H-52.7zM-38.2 -71.4H-21.5L-21.7 -70.6H-38.6zM9.2 -71.4H29.4L29.7 -70.6H9.3zM30.3 -71.4H125.9L127.2 -70.6H30.6zM-125 -72.3H-121.9L-123.3 -71.4H-126.3zM-115.9 -72.3H-56L-56.6 -71.4H-117.1zM-52.5 -72.3H-43.8L-44.3 -71.4H-53.1zM-37.8 -72.3H-16.9L-17.1 -71.4H-38.2zM10 -72.3H28.2L28.5 -71.4H10.1zM29.9 -72.3H32.5L32.9 -71.4H30.3zM33.4 -72.3H124.5L125.9 -71.4H33.8zM-123.6 -73.1H-123.2L-124.5 -72.3H-125zM-112.9 -73.1H-69.1L-69.9 -72.3H-114.1zM-66.5 -73.1H-55.4L-56 -72.3H-67.3zM-53.7 -73.1H-45.1L-45.6 -72.3H-54.2zM-36.5 -73.1H-15.9L-16.1 -72.3H-36.9zM10.7 -73.1H26.2L26.5 -72.3H10.8zM38.2 -73.1H123.2L124.5 -72.3H38.6zM-109.9 -74H-94.7L-95.7 -73.1H-111.2zM-90.4 -74H-85.3L-86.3 -73.1H-91.4zM-84.5 -74H-81.1L-82 -73.1H-85.4zM-80.2 -74H-69.2L-70 -73.1H-81.1zM-64.9 -74H-61.5L-62.2 -73.1H-65.7zM-60.7 -74H-45.4L-45.9 -73.1H-61.4zM-37.8 -74H-14.9L-15 -73.1H-38.2zM12.3 -74H21.6L21.9 -73.1H12.4zM36.9 -74H39.5L39.9 -73.1H37.3zM41.2 -74H42.9L43.4 -73.1H41.6zM45.4 -74H115.9L117.2 -73.1H45.9zM118.4 -74H120.1L121.5 -73.1H119.8zM-107 -74.8H-99.4L-100.6 -74H-108.2zM-84.3 -74.8H-81L-81.9 -74H-85.3zM-80.1 -74.8H-69.2L-70 -74H-81.1zM-66.7 -74.8H-65.9L-66.6 -74H-67.5zM-64.2 -74.8H-61.7L-62.4 -74H-64.9zM-60.8 -74.8H-45.7L-46.3 -74H-61.5zM-37.3 -74.8H-14.7L-14.9 -74H-37.8zM14.7 -74.8H20.6L20.8 -74H14.9zM34 -74.8H39L39.5 -74H34.4zM44.9 -74.8H107L108.2 -74H45.4zM119.6 -74.8H120.4L121.8 -74H121zM-83.3 -75.7H-69.2L-70.1 -74.8H-84.3zM-67.6 -75.7H-64.3L-65 -74.8H-68.4zM-63.4 -75.7H-47.7L-48.2 -74.8H-64.2zM-36.9 -75.7H-14.5L-14.7 -74.8H-37.3zM33.6 -75.7H37.7L38.2 -74.8H34zM44.4 -75.7H85.8L86.8 -74.8H44.9zM88.3 -75.7H99.9L101.1 -74.8H89.4zM118.1 -75.7H119L120.4 -74.8H119.6zM-82.3 -76.5H-68.4L-69.2 -75.7H-83.3zM-67.6 -76.5H-48.7L-49.3 -75.7H-68.4zM-37.3 -76.5H-13.5L-13.7 -75.7H-37.7zM34 -76.5H37.3L37.7 -75.7H34.4zM44.6 -76.5H47.9L48.5 -75.7H45.2zM52 -76.5H83.9L85 -75.7H52.6zM91.3 -76.5H94.6L95.8 -75.7H92.4zM-81.2 -77.3H-75.6L-76.6 -76.5H-82.3zM-73.1 -77.3H-71.5L-72.5 -76.5H-74.1zM-65.1 -77.3H-50.5L-51.2 -76.5H-65.9zM-36.8 -77.3H-13.3L-13.5 -76.5H-37.3zM34.3 -77.3H37.6L38.1 -76.5H34.8zM51.3 -77.3H78.8L79.8 -76.5H52zM-79.3 -78.1H-75.3L-76.4 -77.3H-80.4zM-73.7 -78.1H-67.4L-68.3 -77.3H-74.8zM-58.6 -78.1H-50.6L-51.3 -77.3H-59.4zM-37.9 -78.1H-12.4L-12.5 -77.3H-38.4zM34.7 -78.1H38.7L39.2 -77.3H35.2zM54.6 -78.1H72.9L73.9 -77.3H55.4zM87.3 -78.1H96.1L97.4 -77.3H88.5zM-74.2 -78.9H-66.4L-67.4 -78.1H-75.3zM-58.5 -78.9H-49.9L-50.6 -78.1H-59.4zM-42.8 -78.9H-11.4L-11.6 -78.1H-43.4zM35 -78.9H42L42.6 -78.1H35.5zM54.6 -78.9H71.1L72.1 -78.1H55.4zM86 -78.9H94.7L96.1 -78.1H87.3zM-71.6 -79.6H-66.2L-67.2 -78.9H-72.7zM-56.9 -79.6H-47.6L-48.3 -78.9H-57.7zM-43.7 -79.6H-11.2L-11.4 -78.9H-44.4zM8.9 -79.6H11.2L11.4 -78.9H9zM36.8 -79.6H43L43.6 -78.9H37.3zM59.2 -79.6H70.1L71.1 -78.9H60.1zM-56 -80.4H-55.3L-56.1 -79.6H-56.9zM-54.5 -80.4H-46.1L-46.8 -79.6H-55.3zM-44.6 -80.4H-11.1L-11.2 -79.6H-45.3zM7.2 -80.4H12.6L12.8 -79.6H7.4zM59.1 -80.4H65.2L66.2 -79.6H60zM-57.4 -81.1H-43.9L-44.6 -80.4H-58.3zM-43.1 -81.1H-10.9L-11.1 -80.4H-43.8zM6.4 -81.1H15.4L15.6 -80.4H6.5zM56.7 -81.1H63.4L64.4 -80.4H57.5zM-57.2 -81.8H-41.7L-42.4 -81.1H-58.2zM-40.3 -81.8H-10L-10.1 -81.1H-40.9zM6.3 -81.8H15.9L16.1 -81.1H6.4zM27.7 -81.8H34.3L34.9 -81.1H28.1zM55.8 -81.8H62.4L63.4 -81.1H56.7zM-55.6 -82.5H-38.9L-39.5 -81.8H-56.5zM-38.2 -82.5H-7.6L-7.8 -81.8H-38.8zM8.4 -82.5H16.4L16.6 -81.8H8.5zM27.3 -82.5H36.7L37.3 -81.8H27.7zM57.1 -82.5H59.3L60.2 -81.8H58zM-53.3 -83.1H-6.8L-6.9 -82.5H-54.2zM30.4 -83.1H34.7L35.3 -82.5H30.9zM-50.4 -83.7H-34.9L-35.4 -83.1H-51.2zM-34.2 -83.7H-10.9L-11.1 -83.1H-34.7zM-45.4 -84.3H-34.3L-34.9 -83.7H-46.2zM-26.7 -84.3H-12.8L-13 -83.7H-27.1z"/>
<path id="coast" d="M-120.8 -69.3L-115.9 -71.8L-112.9 -72.5L-110.4 -73.2L-107.9 -73.9L-105.5 -74.5L-104.3 -74.3L-103.1 -74.1L-101.4 -73.8L-99.7 -73.6L-98.4 -73.3L-97 -73L-95.1 -72.9L-93.2 -72.8L-91 -73.1L-88.9 -73.5L-87.5 -73.2L-86.1 -72.9L-84.6 -73.1L-83 -73.2L-81.6 -72.6L-80.1 -72L-78.7 -71.7L-77.2 -71.4L-75.4 -71.8L-73.6 -71.6L-71.6 -71.4L-69.9 -71.7L-68.3 -72L-67.6 -71.1L-65.8 -72.9L-63.9 -74.7L-62.6 -73.8L-62.8 -72.8L-61.3 -72L-59.2 -72.9L-58.3 -73.2L-56.5 -72.9L-57.1 -71.6L-58.1 -70.6L-60.3 -70L-61.8 -70L-64 -68.3L-66.5 -67.3L-69.4 -65.9L-71.9 -63.9L-72.7 -62.7L-72.3 -60.9L-71 -60.8L-69.7 -60.7L-68.6 -60L-67.5 -59.2L-65.4 -59L-66.3 -56.8L-65.9 -55.1L-64.6 -55.3L-63.4 -57.9L-60.7 -59.9L-59.7 -61.4L-60.4 -62.7L-58.7 -64.4L-58 -66.3L-56.5 -66.2L-55.1 -66.2L-53.9 -65.5L-52.8 -64.9L-53.4 -62.9L-52.2 -62.2L-49.3 -64.2L-49.3 -63.4L-48.3 -61.4L-48.3 -59.4L-46.3 -58.4L-46.1 -56.8L-45.4 -55.8L-46.7 -55.2L-49.5 -53.9L-51.2 -54L-52.8 -54L-55.6 -53.2L-58.3 -51.6L-60 -50.4L-56.8 -52.2L-55.3 -52.4L-53.7 -52.7L-54.1 -51.6L-55.3 -51.6L-54.8 -50.6L-54.3 -49.7L-52.3 -49.3L-50.8 -50.1L-52 -48.8L-54.4 -48L-56.4 -46.9L-56.8 -47.6L-55 -48.8L-57.2 -48.5L-59.3 -47.4L-60.8 -46.7L-61.4 -45.6L-60.9 -45.1L-62.3 -44.6L-64.8 -43.8L-65.3 -42.6L-66.8 -41.5L-67.7 -39.9L-67.9 -38.3L-69.8 -36.9L-72 -35.6L-73.6 -34.3L-74.3 -32.9L-74.1 -30.2L-73.9 -28.6L-74.5 -27.2L-75.2 -27.3L-75.7 -28.9L-76.2 -30.2L-75.9 -31.3L-76.8 -32.4L-78.3 -32.1L-79.5 -32.8L-81.3 -32.7L-82.1 -31.5L-83.4 -31.6L-85.6 -32.1L-87.1 -31.5L-89.3 -30.2L-90 -28L-90.9 -25.4L-91 -23.2L-90.4 -21L-89.1 -20.2L-88.2 -19.6L-86.3 -20.1L-85.3 -20.5L-84.5 -22.7L-82.6 -23.2L-81.2 -23.1L-82 -21L-82.6 -19.4L-83.6 -17.3L-82.9 -17L-81 -17.2L-79.2 -16.8L-78.5 -16.2L-79 -14L-79.3 -11.9L-78.6 -10.4L-77.4 -9.6L-75.9 -10L-75 -10.2L-73.6 -9.4L-73.5 -9.3L-74 -7.8L-74.6 -8.8L-75.5 -9.5L-76.3 -7.9L-77.4 -8.2L-78.8 -9L-79.7 -10.2L-81.3 -10.8L-81.3 -11.9L-82.7 -14L-84.6 -14.5L-86.4 -15.1L-88.1 -16.7L-89.3 -17.5L-90.9 -16.9L-93.2 -17.9L-95.4 -18.9L-97.1 -19.7L-98.7 -21.6L-98.2 -23.5L-99 -25.4L-100.5 -27.3L-101.1 -28.9L-102.1 -30.2L-103.1 -31.8L-103.1 -33.7L-104.3 -34.2L-104.5 -34L-104.3 -32.1L-103.5 -30.2L-103.1 -28L-102.4 -26.1L-101.9 -25L-102.4 -24.7L-103.9 -26.8L-103.8 -28.3L-105.3 -29.3L-105.8 -30.2L-105 -31L-105.8 -32.7L-106.1 -34.3L-106.2 -35.3L-106.9 -36.7L-108.4 -37.2L-108.8 -39.5L-108.7 -40.8L-109 -42.6L-108.9 -43.7L-107.9 -45.3L-106.2 -47.9L-105 -49.8L-104.2 -52.1L-102.9 -52L-102 -52.7L-102.5 -53.7L-104.3 -54.8L-103.9 -56.3L-103.9 -58.4L-103.8 -59.4L-103.5 -61.4L-104.5 -62.4L-105.6 -62.5L-106.7 -63.6L-107.7 -63.8L-108.8 -63.9L-110.2 -64.7L-113 -63.9L-116 -63.2L-112.8 -65.1L-115.5 -64.4L-118.5 -62.7L-122.1 -61.2L-125.6 -59.7L-128.9 -58.9L-131.5 -58.5L-127.8 -59.9L-125.6 -60.7L-123.4 -61.4L-121.2 -62.7L-123.1 -62.7L-124.1 -63.2L-123 -64.1L-124.4 -64.9L-123.9 -65.9L-121.9 -66.8L-120.3 -67.1L-118.7 -67.3L-117.1 -68.3L-119 -68.3L-120.8 -68.6ZM-38.2 -82.1L-36.2 -82.6L-34.3 -83.1L-32.9 -83.2L-31.4 -83.3L-29.9 -83.4L-28.4 -83.4L-26.9 -83.6L-25.3 -83.8L-23.8 -83.9L-22.3 -84.1L-20.9 -84.1L-19.5 -84.1L-18.2 -84.1L-16.8 -84.1L-15.3 -83.9L-13.9 -83.7L-12.5 -83.4L-11.4 -83.1L-10.4 -82.8L-8.7 -82.8L-6.9 -82.8L-8.8 -82.3L-10.7 -81.7L-12.1 -80.6L-11.6 -79L-12.8 -77.7L-14.5 -76L-14.8 -74.7L-15 -73.7L-17.3 -72.5L-19.1 -72.1L-21 -71.7L-23.4 -70.6L-25.8 -69.5L-27.4 -69.1L-29 -68.8L-30.1 -67.3L-31.9 -65.4L-33.1 -63.9L-34.2 -63.9L-36.2 -64.9L-37.1 -66.4L-37.7 -67.8L-38 -69.7L-37.5 -71.6L-35.1 -72.9L-36.1 -73.4L-37.1 -73.8L-36.1 -75.2L-36.7 -76.5L-36.9 -77.7L-37.9 -78.6L-39.8 -78.6L-41.7 -78.6L-42.9 -79.4L-44.1 -80.2L-42.5 -80.6L-40.9 -81L-38.5 -81.7ZM-52.9 -76.6L-51.5 -76.3L-50.1 -76L-49.3 -75.4L-48.4 -74.7L-47.4 -74.1L-46.4 -73.6L-46.4 -72.5L-45.2 -71.6L-43.9 -70.6L-44 -69.7L-46.3 -68.8L-46.4 -67.8L-48.3 -66.4L-49.3 -65.9L-50.2 -66.8L-52.6 -66.6L-52.9 -67.3L-53.8 -68.3L-55.2 -68.2L-56.5 -68.1L-56.2 -69.2L-54.6 -69.5L-53 -69.7L-51.4 -71.1L-51 -71.8L-52.6 -72.5L-53.4 -73.4L-54.8 -73.4L-56.1 -73.4L-58.2 -73.4L-59.9 -73.8L-60.1 -75.2L-58.1 -76.6L-56.8 -76.7L-55.5 -76.7L-54.2 -76.7ZM-50.3 -78.8L-47.8 -79.8L-45.1 -81L-43.1 -81.5L-41.1 -82.1L-38.8 -82.6L-36.6 -83.1L-35 -83.6L-36.5 -83.7L-37.9 -83.8L-39.4 -83.8L-40.8 -83.8L-42.2 -83.8L-43.6 -83.8L-45 -83.8L-46.8 -83.6L-48.6 -83.3L-50.4 -83.1L-53 -82.4L-52.2 -82.1L-51.5 -81.7L-52.2 -80.6L-54.9 -79.8L-55.2 -79L-53.6 -78.9L-51.9 -78.9ZM-50.9 -78.2L-52.9 -77.4L-54.8 -77.4L-56.7 -77.5L-58.6 -77.5L-57.9 -78.8L-56.6 -78.8L-55.3 -78.8L-53.9 -78.6L-52.4 -78.4ZM-57.3 -81.4L-56.4 -80.9L-55.4 -80.4L-53.8 -80.8L-52.2 -81.1L-52.9 -81.8L-53.6 -82.4L-55.4 -81.9ZM-72.7 -72.5L-71.3 -72.7L-69.9 -72.9L-70.7 -74.3L-69.4 -75.9L-71 -75.9L-72.5 -76L-73.9 -76.1L-75.3 -76.2L-78.2 -75.4L-79.7 -74.7L-79.4 -73.4L-81 -72.5L-79.9 -72.3L-78.7 -72L-76.9 -72.1L-75.1 -72.2ZM-83.8 -75.2L-83.3 -74.5L-81.4 -74.7L-78.5 -76L-76.1 -76.9L-77.1 -77.1L-78.7 -77.1L-80.3 -77.1ZM-73.9 -78.6L-73.5 -78L-73 -77.3L-70.8 -77.5L-68.6 -77.7L-67 -78.6L-68 -78.8L-69 -79L-70.6 -78.9L-72.3 -78.7ZM-67.3 -76L-66.6 -74.7L-64.4 -75.6L-63.8 -76.9L-65.5 -76.5ZM-62.6 -76.7L-63.5 -75.2L-61.5 -75.2L-59.3 -76.5L-60.3 -77.1ZM-62.3 -69.2L-60.4 -69.4L-59.5 -68.8L-58.7 -68.1L-59.5 -67.3L-61.1 -67L-62.6 -66.6L-63.8 -67.6ZM-49.8 -51.2L-48.5 -50.9L-47.2 -50.6L-44.8 -50.3L-44.3 -51.2L-44.7 -52.2L-44.8 -53.2L-45.9 -53.7L-45.8 -55.3L-46.8 -54.8L-48.1 -53.2ZM-105.6 -54.5L-103.6 -53.9L-103.2 -52.2L-104.3 -52.4L-104.9 -53.4ZM-120.4 -61.3L-118.9 -61.1L-117.6 -62.2ZM-79.3 -23.5L-76.8 -24.8L-74.5 -24.8L-71.9 -23.2L-70.1 -22.2L-69.4 -21.8L-71 -21.6L-72.5 -21.5L-72.9 -22.3L-74.6 -23.4L-76.4 -24.1L-78.4 -23.5ZM-69.8 -19.8L-67.9 -21.5L-65.5 -21.4L-64.2 -20.1L-65.7 -19.6L-67.2 -19.1ZM-73.5 -19.8L-71.6 -19.5L-72.3 -19.2ZM-63 -20L-61.7 -19.7L-62.5 -19.3ZM-73.5 -9.3L-72.1 -10L-71.6 -11.4L-70.6 -11.9L-69.1 -12.4L-67.7 -13.4L-67.8 -11.9L-66.3 -12.4L-66.1 -13.2L-64.9 -12.1L-64.5 -11.3L-62.6 -11.4L-61.2 -11L-58.8 -11.5L-58.6 -10.8L-57.7 -9.3L-56 -8.6L-54.7 -6.8L-52.3 -6.4L-50 -5.4L-49 -4.6L-48.1 -2.2L-47.6 -0.5L-48.1 0L-46.2 0.5L-45.7 1.1L-43.8 1.1L-42.4 2.7L-40 3L-38.1 3L-36.6 4L-35.2 5.2L-33.6 5.7L-33.1 7.8L-33.2 9.7L-34.6 11.3L-35.5 12.9L-36.4 14L-36.8 16.2L-36.6 18.9L-37.4 21.4L-38.2 23.7L-39.1 24.8L-41.4 25L-43.2 26.1L-44.4 27.5L-44.8 29.1L-44.8 30.7L-45.7 32.9L-47.2 34.7L-48.2 36.7L-49.4 37.7L-50.8 37.5L-52.6 36.7L-52.6 37.2L-51.4 38.3L-50.7 39.4L-51.1 41.2L-53 42L-54.7 42L-54.6 43.7L-56.8 44.2L-56.3 45.8L-55.1 45.8L-56 46.9L-55.9 48.5L-57.3 49.5L-55.5 51.1L-56 53.2L-56.6 54.8L-55.6 56.1L-57.1 56.6L-57 57.7L-58.4 57.4L-60.1 56.3L-61.6 54.8L-63.1 52.2L-62.8 50.6L-63.9 50.1L-63.1 47.4L-63.4 45.3L-64.5 44.2L-64.7 42.6L-65.4 40.1L-65.3 38.3L-64.9 35.6L-65.4 32.4L-65.7 30.2L-65.4 27.5L-65.5 24.8L-65.7 21.6L-66.1 19.7L-67.2 18.7L-69.2 17.6L-70.9 16.5L-72.1 14.9L-73.1 12.9L-74.2 10.8L-75 8.8L-75.9 7.3L-77.2 6.5L-77.4 4.9L-76.4 3.7L-76.2 2.7L-77.1 2.4L-77.1 1.1L-76.3 0L-76.2 -0.9L-75.1 -1.5L-74.8 -2.7L-73.8 -3L-73.5 -4.2L-73.7 -5.9L-73.6 -7.6L-74 -7.8ZM-55.6 56.4L-53.8 57.5L-52 58.6L-52.9 59L-54.8 59.2L-57.1 58.4L-57.8 57.9L-56.8 57.4ZM-49.9 55.3L-47.4 55.3L-47.6 56L-49.7 55.8ZM-5.3 -38.6L-3.5 -38.3L-1.8 -38L0 -38.6L2.7 -39.7L4.5 -39.8L6.2 -39.9L8.9 -40.1L9.8 -39.9L9.4 -38.3L9 -36.9L10.1 -35.8L11.8 -35.5L13.8 -34.8L14.6 -33.8L17.4 -32.7L18.2 -33.4L18.3 -34.8L19.9 -35.5L21.3 -34.7L22.7 -34.2L25.1 -33.7L26.9 -33.3L28.2 -34L29.4 -33.7L29.7 -32.3L30.3 -30.7L31.4 -28.6L33 -25.9L33.2 -24.8L34.5 -23.2L34.9 -21.6L35.2 -20L36.5 -18.3L37.2 -16.7L38.7 -15.6L40.2 -14L41 -13.5L41 -12.4L41.7 -11.3L43.6 -11.7L46.4 -12.2L48.5 -12.8L48.3 -11.3L47.5 -8.6L46.6 -6.5L45.2 -4.3L43.8 -2.7L41.9 -1.1L40.5 0.5L39.5 1.9L38.4 2.9L37.6 4.9L37.1 6.5L37.5 8.1L37.5 9.7L38.4 11.3L38.3 13.5L38.5 15.6L37.7 17.5L35.7 18.7L34.2 20.3L32.8 21.6L32.9 23.7L33 25.9L30.6 27.5L30.3 29.1L29.9 30.7L28.4 32.4L27.3 33.8L25.5 35.4L23.9 36.5L22.5 36.7L19.8 36.9L18 37.5L16.6 36.9L16.5 35.1L15.8 32.9L15.2 30.9L14 29.1L13.5 25.9L13.5 24.3L12.5 22.1L11.3 19.4L11.1 17.8L11.8 15.1L12.8 13.5L13.1 11.9L12.3 9.7L11.7 6.7L11.4 5.4L10.5 4.1L9 2.7L8.6 1.1L9.1 -0.5L9.2 -2.2L9.3 -3.8L8.4 -4.9L6.7 -4.7L5.7 -4.6L4.8 -5.9L4.3 -6.8L2.4 -6.8L1 -6.5L-1 -5.6L-1.9 -5.2L-2.9 -5.5L-4.3 -5.6L-5.7 -5.2L-7.1 -4.7L-8.6 -5.4L-10 -6.8L-10.9 -7.4L-12.3 -9.2L-12.6 -10.2L-13.7 -11.3L-14.2 -11.9L-15.8 -13.4L-15.9 -14.6L-16.5 -15.9L-15.5 -17.3L-15.3 -19.4L-15.2 -21L-15.9 -22.7L-15.4 -24.3L-14.9 -25.6L-13.8 -27L-13.4 -28.3L-12 -29.9L-10.6 -30.7L-9.2 -31.8L-8.8 -33.4L-8.4 -35.1L-6.8 -36.4L-5.8 -37.2ZM46.7 12.9L47 14.8L47.4 16.7L46.5 18.9L45.3 22.1L44.7 24L44.1 25.9L42.1 27.5L40.8 27L40.3 24.3L41.5 21.6L41.3 18.9L41.9 17.5L43.6 16.9L45.1 15.6ZM-8 -39.9L-8.4 -41.7L-7.7 -44.2L-7.9 -46.3L-6.9 -47.1L-4.3 -46.9L-1.7 -46.8L-1.3 -47.9L-1 -49.5L-2.1 -50.9L-3.8 -51.5L-3.9 -52.2L-2.5 -52.5L-1.3 -52.4L-1.5 -53.4L-0.8 -53.1L0.2 -53.2L1.2 -53.9L1.4 -54.8L2.9 -55.3L3.7 -56.3L4 -57.2L5.6 -57.5L6.8 -57.7L6.9 -58.9L6.4 -60.4L6.4 -60.9L8.2 -61.6L8.1 -60.4L7.9 -59.4L7.8 -58.7L8.8 -58.2L10 -58.3L11.4 -57.9L13.2 -58.4L14.8 -58.6L15.8 -58.3L16.7 -59.1L16.5 -60.7L17.1 -61.5L18.4 -60.9L19 -61.2L18.8 -62.2L18 -63.1L19.5 -63.4L21.4 -63.5L22.8 -63.9L21.6 -64.4L19.7 -64.3L17.5 -63.8L16.3 -64.4L15.9 -65.7L15.9 -66.8L17.5 -68.3L18.3 -68.9L17.4 -69.5L15.8 -69.4L15.5 -68.3L14 -67L13.1 -65.9L13 -64.6L14.1 -63.9L14.5 -63.6L13.8 -62.9L12.9 -61.9L13 -60.4L12.5 -60L11.3 -59.4L10.3 -59.3L10.1 -60.1L9.2 -61.4L8.6 -62.7L8 -63.4L7.3 -62.9L6.2 -62L5 -62L4.2 -62.9L3.8 -64.4L3.7 -65.9L5.2 -66.8L6.6 -67.5L7.6 -68.3L9 -69.7L9.9 -71.1L10.8 -72L12.4 -72.9L14.4 -73.5L16.2 -74.3L17.6 -74.3L19.3 -74.1L21.1 -73.7L20.6 -73.1L22.8 -72.8L24.9 -72.7L26.4 -72.1L28 -71.6L29.3 -70.6L29.3 -70L27.2 -69.8L25.9 -70L24.6 -70.2L23.5 -70.4L24.8 -69.2L25.3 -68.3L27.4 -67.8L27.6 -68.6L29.1 -68.4L29.1 -69.4L30 -70.1L31.4 -69.9L31 -71.6L30.3 -72L32.2 -71.7L32.9 -70.6L33.8 -71.2L35.4 -71.6L36.9 -72L38.3 -72.1L39.7 -72.1L40.8 -72.3L41.9 -72.5L41.9 -73.2L43.2 -72.9L44.6 -72.7L46.5 -72.3L47.9 -71.7L46.1 -72.9L45.2 -74.5L45.5 -76L47.6 -75.9L48.9 -74.7L49.9 -72.9L51.1 -71.6L51.3 -70.2L52.1 -71.1L51.6 -72.5L49.7 -74.3L49.9 -75.4L52 -75.3L54.3 -75L52.7 -76.5L54.4 -76.7L56 -76.9L55.6 -77.9L57 -78.2L58.3 -78.4L60 -78.6L61.6 -78.8L62.5 -79.2L63.3 -79.6L64.1 -80L66.8 -79.2L68.5 -79.1L70.2 -79L71.9 -78.2L73.8 -76.9L75.6 -76.7L77.3 -76.5L79.1 -76.3L80.9 -76.2L82.3 -76.1L83.8 -76L86.7 -74.7L88.8 -74.1L89.4 -74.7L91.1 -74.7L92.8 -74.7L92.9 -75.6L95.1 -75.5L97.2 -75.4L99 -75.1L100.8 -74.7L103.6 -74.2L104.9 -74.2L106.2 -74.3L109.5 -73.4L111.4 -73L113.1 -73.1L114.7 -73.1L115.8 -73.2L116.9 -73.3L118.5 -72.5L119.7 -72.8L120.9 -73.1L122.9 -72.8L124.8 -72.4L127.5 -70.7L130 -68.9L129.5 -68.3L131.4 -66.4L130.1 -65.7L129.8 -64.8L129.4 -63.9L127.8 -63.9L126.3 -63.9L126.2 -62.4L126.6 -61.7L128 -60.1L128.7 -58.9L129.2 -57L128.7 -56.3L128.7 -54.8L126.1 -56.8L122.7 -59.9L121.8 -61.4L122.1 -62.9L122.3 -64.4L122 -65.9L120.9 -65.7L119.8 -65.6L117.6 -65.5L117.9 -63.6L116.8 -63.4L115.7 -63.2L113.6 -63.3L111.6 -63.3L109.5 -63.2L108.9 -61.9L108.4 -60.4L107.8 -58.9L110.3 -57.9L111.7 -58.1L114 -57L114.9 -55.3L117 -52.7L117.2 -50.1L116.5 -47.9L115 -46.1L113.6 -46.3L113.2 -45.6L113.1 -44.5L112.4 -43.1L112.3 -42.4L113.8 -41.3L115.2 -39.9L115.9 -38.3L115 -37.7L113.9 -37.1L113.2 -38.3L112.9 -39.7L111.8 -40.8L110.8 -41L110.3 -42.6L109.2 -43L107.7 -42.8L107.1 -42L106.6 -43.9L105.2 -42.6L104 -42.1L105.2 -40.8L106.2 -40.1L107.5 -40.6L109.1 -40.1L108 -39.4L107.2 -38.1L108.5 -36.7L109.7 -35.1L110.9 -34L111 -32.9L111.6 -32.3L111.6 -30.7L111.2 -29.1L110.7 -27.5L109.5 -26.4L108.7 -25.1L106.7 -24.3L105.6 -24.1L104.1 -23.2L103 -22.9L102.9 -21.9L102.4 -23.2L101.2 -23.4L100 -22.7L99.2 -21.4L99.2 -20.3L100.1 -18.9L101.5 -17.5L102.9 -15.6L103.4 -13.5L103.2 -12.4L101.9 -11.3L101.2 -10.5L99.7 -9.4L99.4 -10.8L98.1 -11.3L96.8 -12.9L95.5 -13.7L95 -14.6L94.6 -13.5L94.1 -11.7L94.7 -10L95.5 -8.1L96.5 -7.3L97.8 -5.9L98.4 -4.9L98.6 -3L99.3 -1.5L98.6 -1.4L97.1 -2.5L96.5 -3.2L95.6 -4.9L95.4 -6.5L94.6 -7.9L93.4 -8.6L93.5 -10.2L93.5 -12.4L93.1 -14.6L92.1 -16.7L91.7 -18.1L90.4 -17.8L89.8 -17L88.8 -17.3L88.8 -19.2L87.9 -20.8L86.4 -22.4L85.6 -24.1L84.3 -24.3L83 -23.5L81.2 -23.2L80.9 -21.6L79.6 -20.8L78.4 -19.4L77.4 -17.9L75.8 -17L75.7 -15.1L76 -13.5L75.6 -11.3L75 -10L74.2 -9.5L73.6 -8.6L72.4 -10.2L71.5 -12.4L70.7 -14L70.1 -16.2L69.2 -17.8L68.5 -20L68.1 -21.6L67.7 -23.2L67.3 -22.7L65.9 -22.4L64.3 -23.9L65.2 -24.8L63.7 -25.4L62.5 -26.4L61.8 -27.3L59.8 -27.2L57.5 -27.1L55.6 -27.3L53.2 -27.6L52.4 -29.1L50.8 -28.8L49.4 -28.9L47.9 -29.9L46.6 -31.3L45.7 -32.6L44.6 -32.7L44 -31.8L44.7 -30.4L45.6 -29.5L46.4 -28.4L47.1 -27L47.4 -28L47.8 -27L47.8 -26.2L49.2 -26L50.6 -26.2L51.8 -27.7L52.1 -28.4L52.4 -26.8L53.4 -25.7L54.6 -25.4L55.7 -24.3L55 -22.4L54.2 -20.5L53.1 -19.4L51.7 -18.3L49.4 -17.5L46.7 -15.9L44.4 -14.6L42.6 -13.8L41.1 -13.7L40.6 -15.1L40.2 -17.3L39 -19.4L37.4 -21.6L36.4 -23.5L35.5 -25.7L34.3 -27.5L32.7 -29.7L31.9 -31.1L32.1 -31.8L31.6 -30.2L31.5 -30L30.5 -31.1L29.8 -32.3L29.5 -33.7L31 -33.8L31.5 -34.5L31.7 -35.6L32.2 -37.8L32.1 -39.4L31.2 -39.5L30 -38.9L28.6 -39.1L27.2 -39.4L25.9 -39.3L24.5 -39.9L23.4 -41.5L23.3 -42.6L23 -43.3L24.1 -43.6L25.4 -43.7L25.3 -44.3L27.5 -44.4L29.1 -45.3L30.4 -45.3L31.8 -44.5L33.6 -44.2L35.4 -44.2L36.2 -44.8L36 -45.8L34.5 -46.9L33 -47.7L32 -48.5L31.5 -48.8L32.3 -49.5L32.9 -50.8L31.6 -50.6L30 -50.1L29.7 -49.3L31.1 -48.8L30.2 -48.4L28.9 -47.8L27.7 -48.9L28.4 -49.6L27.1 -49.8L26.1 -50.1L25.4 -49L24.7 -47.9L24.1 -46.7L24.1 -45.8L24.6 -44.7L25.3 -44.5L24 -44.2L23.1 -43.5L22.7 -44L21 -44L20.6 -43.3L20 -43.6L20.1 -42.4L21.3 -41L20.6 -40.9L20.5 -39.4L19.6 -39.6L19.1 -40.5L18.8 -41.3L18.1 -42.4L17.1 -43.7L17 -45.1L16 -45.8L14.7 -46.6L13.3 -47.4L12.4 -48.7L11.7 -49.1L10.5 -48.8L10.5 -47.7L11.7 -46.9L12.6 -45.6L13.9 -45.1L16.2 -43.3L15.8 -43.1L14.9 -43.7L14.6 -42.6L15.1 -42.1L14.6 -41.5L13.9 -41L14.1 -42L13.8 -43.1L12.7 -43.9L11.3 -44.5L10.2 -45.5L9.1 -46.3L8.6 -47.4L7.5 -47.8L6.4 -47.2L5.2 -46.4L3.9 -46.8L2.8 -46.6L2.8 -45.5L1.7 -44.5L0.4 -43.8L-0.3 -42.6L0.1 -41.8L-0.6 -40.8L-1.8 -39.7L-4 -39.6L-4.9 -38.9L-5.6 -39.6L-6.4 -40.1ZM-124.8 -72.4L-124.4 -71.7L-124 -71.1L-122.9 -70.9L-121.9 -70.6L-121.4 -69.8L-125.5 -68.3L-126.3 -69L-127.5 -69.7L-130 -68.9L-127.5 -70.7ZM-4.7 -53.7L-2.9 -54L-1.2 -54.5L1.1 -55L1.4 -56.5L0.2 -56.8L0 -57.6L-1 -58.5L-1.6 -59.7L-2.4 -59.9L-1.6 -61.4L-2.7 -61.6L-2.3 -62.5L-3.9 -62.5L-4.5 -61.4L-4.3 -59.9L-3.8 -59.4L-4 -58.7L-2.8 -58.8L-2.4 -57.9L-2.4 -57.3L-3.6 -57.2L-3.4 -56.3L-4.2 -55.6L-2.6 -55.2L-3.7 -54.8ZM-8.2 -55.6L-6.7 -55.5L-5.1 -56L-4.8 -57.4L-4.5 -58.4L-5.2 -59.1L-6.5 -59.1L-8 -58.1L-7.7 -57ZM-17.3 -69.2L-15.7 -70.1L-14.3 -70L-12.9 -69.9L-11.7 -69.9L-10.5 -70L-9.9 -68.8L-11.3 -68L-13.6 -67.2L-15.8 -67.6L-16.6 -67.8L-16 -68.6ZM6.6 -81.4L7.7 -81.5L8.9 -81.7L10.3 -81.8L11.8 -81.9L13.2 -81.9L14.5 -81.9L15.9 -81.9L14.4 -81L12.7 -80.6L11.4 -79.8L10.3 -79.2L8.6 -79.8L6.9 -80.8ZM34.6 -74.7L36.1 -74.4L37.7 -74L39 -74L37.2 -75.6L36.8 -76.9L37.5 -77.5L38.2 -78.2L39.8 -78.6L41.4 -79L42.7 -79.2L41.6 -79.3L40.4 -79.4L39.1 -79.1L37.7 -78.8L36.8 -78.4L35.8 -78L35.4 -76.5L34.7 -75.3ZM57.2 -81L58.1 -81.4L59 -81.9L61.1 -81.4L63.2 -81L62.4 -80.2L61 -80.3L59.7 -80.4ZM87.2 -78.2L88.8 -78.4L90.4 -78.6L92.2 -78.4L94 -78.2L95.8 -78L94.5 -77.8L93.3 -77.6L91.8 -77.5L90.4 -77.5L88.9 -77.5ZM120.4 -49.5L121 -50.3L119.4 -51.6L120.2 -52.9L117.1 -55.3L115.9 -56.8L114.3 -58.2L114.4 -57.4L116 -55.3L118.3 -52.7ZM122 -44.7L122.8 -45.1L124.5 -45.3L125.5 -46.7L124.5 -47.7L122.7 -48.4L120.9 -49L121.9 -46.9L121.1 -46.6ZM123.4 -44.5L125 -42.6L125.3 -40.5L126.1 -38.5L125.6 -37.8L124.8 -37.4L123.2 -37.3L122.7 -36.1L121.5 -37.3L119.8 -37L118.1 -36.7L117.9 -37.2L118.9 -38.3L121.4 -38.4L121.7 -40.2L122.4 -39.7L123.1 -40.3L123.4 -41.5L122.9 -43.1L122.4 -44.4ZM117.5 -36.1L118.9 -36.4L119.7 -34L119.1 -33.6L118.2 -34.7L117.5 -35.6ZM119.5 -36.7L121.3 -36.9L121.3 -35.9L120.5 -35.4ZM112.1 -27.2L113 -27L113 -25L112.7 -23.7L111.8 -24.8ZM101.9 -20.7L103.4 -21.7L103.9 -21.1L103.2 -19.7L102 -20.1ZM75.7 -10.5L77.1 -9.2L77.7 -7.6L77 -6.6L76.2 -6.5L75.7 -8.6ZM113.1 -20L114.7 -19.8L115.1 -17.8L114.5 -16.7L115.2 -15.3L117.3 -14L117.3 -13.5L115.8 -14.6L114.3 -14.8L113.8 -15.6L113 -17.3ZM116 -7.6L117.3 -9.2L119.1 -10.5L120.2 -8.6L120 -7L119.4 -6.1L117.9 -6.8L117.3 -8.1ZM118.3 -13.4L119.1 -11.9L118.5 -11L117.9 -12.1ZM115.5 -12.7L116.7 -12.4L117.2 -10.8L116.7 -9.9L116.1 -10.6L115.7 -11.3ZM111.4 -9.1L113.3 -11.5L113 -12.2L111.2 -9.6ZM103.8 -1.6L105.1 -1.9L106 -2.7L107.6 -3.5L108.5 -4.9L109.9 -5.9L111 -7.6L111.9 -6.5L113.4 -5.6L112.3 -4.6L112.1 -3.2L112.4 -2.2L113.4 -1.1L112.2 -0.9L111.9 0.9L111 1.6L110.6 3.2L110.4 4.3L109.1 4.3L109 3.7L107.6 3.5L106.3 3.8L104.9 3.1L104.8 1.6L104 0.5ZM90.6 -6L92.8 -5.6L94.2 -4L95.7 -2.5L96.7 -2.2L98.1 -0.9L98.9 0.3L99.5 1.9L100.9 3.2L100.7 6.3L99.4 6.3L98 5.2L96.6 3.2L95.5 1.1L94.3 -0.5L93.8 -1.9L92.4 -3.6ZM100 7.3L101.3 6.5L103.2 7L105.3 6.9L107.1 7.4L108.8 8.4L108.5 9.3L106.4 9L103.5 8.4L101.2 8ZM109.2 8.8L111.1 8.8L113 9L114.9 9.1L116.8 8.8L116.8 9.5L113.9 9.7L111.1 9.7L109.2 9.5ZM117.1 11.1L118.6 9.9L120.9 9.1L119.6 10.1L117.6 11.2ZM112.9 10.2L114.6 10.7L113.8 11.1ZM113.6 3.8L113.7 5.9L114.5 5.9L114.6 3.2L115.6 4.9L116.8 5.2L116.4 3.6L115.7 2.2L117.5 1.1L115.6 1.1L114.6 0L115.3 -0.6L118.1 -0.4L119.3 -1.7L117.2 -1.2L115.1 -1.4L114.1 -0.5L113.8 1.6L113.1 3ZM121.4 -2.2L122.4 -1.1L121.9 0.5L121.5 -0.5ZM121.9 3.2L124.5 3.2L123.3 3.9ZM124.8 0.9L126.2 0.4L127.7 0.9L128.1 2.7L129 3.6L131 1.8L132.4 2.2L134.3 2.8L136.1 3.6L137.6 4.1L138.7 5.4L140.3 6.5L140.5 7.3L139.5 7.6L140.6 8.6L141.8 10.2L143 11.1L141.7 11.2L139.9 10.8L138.6 9.3L137.3 8.3L136.3 9L135.7 9.9L133.8 9.8L132.5 8.7L131.1 9L131.9 7.6L131.3 5.9L129.4 5L127.6 4.2L126.4 4.3L125.7 3.1L127.1 2.6L125.7 2.2L124.8 1.4ZM141.2 6L142.7 5.4L144.7 4.5L144.9 5.4L143.1 6.7ZM143.6 2.8L145.5 4.1L145 4.5ZM147.4 5.9L148.3 7.3L147.6 7.3ZM149.2 8.1L150.9 9.2L152.6 10.2L151.8 10.6ZM153.4 21.8L155.5 23.8L155 24.2ZM157.1 16.2L157.7 17.6L157.2 16.9ZM166.6 18.9L167.9 19L167.1 19.6ZM155.5 37.1L156.1 38.8L156.4 39.7L156.3 40.6L158.1 40.6L157.8 41.5L155.8 42.6L154.9 43.7L152.6 44.8L152.4 44.5L153.8 43.1L153.1 42.4L154.4 41.5L155.6 39.9L155.4 37.8ZM151.3 43.7L152.1 44.4L150.1 46.1L148.6 47.2L146.9 47.7L145.1 49.4L142.9 50.2L142 49.7L141.6 49.2L144.1 47.6L147.3 46.3L149.2 45ZM106.4 23.5L107.9 22.4L109.4 22.2L111.4 21.6L113.8 21L114.9 18.9L116.1 18.7L116.7 17.6L118.5 15.6L119.9 15.1L120.8 16L122.2 16.1L122.9 14L124 13.2L125.5 12.4L126.4 12.7L127.8 13.2L129.5 12.9L128.5 14.6L127.8 16L129.1 17L130.7 18.2L132 18.9L133.5 16.2L134 13.8L135.1 11.7L135.8 13.5L135.7 15.5L137.1 16.2L137.2 18.9L137.2 20.4L138.5 21.6L139.4 23.7L140.2 25.4L141.6 27.3L141.2 29.7L140.9 31.1L139.5 33.4L137.7 35.4L136.3 36.7L134.3 38.8L133.3 40.5L130.8 41L129.1 42.1L128.1 41.3L126.8 41.8L124.9 41.2L124.4 40.1L124.7 38.6L123.9 38.4L124.5 37.4L123.7 38L124.6 35.6L122.3 37.5L121.9 37.4L121.8 35.6L120.8 34.6L119.2 34L116.7 34.5L114.4 34.8L112.2 35.6L111.4 36.6L109.2 36.6L107.6 37.1L106 37.8L104.2 37.7L103.6 37L104.6 35.6L105.3 34L105.2 32.4L105.2 29.7L104.8 28L105.5 26.4L105.9 24.3ZM126.6 43.9L127.9 44.3L129.6 44.1L128.6 45.5L127.3 46.6L125.7 47L125.9 45.8ZM-145.9 -21.8L-145.1 -21.4L-145.9 -20.5L-146.1 -21.1ZM-110.2 80.2L-108.6 80.2L-107.1 80.2L-105.6 80.2L-104 80.2L-102.5 80.2L-101 80.2L-99.5 80.2L-97.9 80.2L-96.8 80L-95.6 79.8L-94.5 79.6L-93.3 79.4L-92.8 78.8L-92.3 78.2L-91.1 78L-89.8 77.7L-88.5 77.5L-87.2 77.3L-85.9 77.1L-84.6 76.9L-83.2 76.7L-81.9 76.5L-80.1 76.6L-78.3 76.7L-76.6 76.8L-74.8 76.9L-73.1 77L-71.3 77.1L-69.6 77.2L-67.8 77.3L-67.1 76.5L-66.4 75.6L-64.5 75.8L-62.7 76L-61 76L-59.4 76L-57.7 76L-56.1 76L-54.5 76L-53 76L-51.4 76L-49.6 75.8L-47.8 75.6L-47.5 74.1L-47.1 72.5L-46.6 69.7L-45.1 68.3L-43.9 67.7L-42.7 67.1L-42.1 67.8L-43.4 68.8L-44.5 70.2L-42.9 72.5L-40.8 75.2L-39.4 77.3L-40.3 78L-41.1 78.6L-39.3 78.9L-37.5 79.2L-35.7 79.5L-33.9 79.8L-32.4 79.8L-30.9 79.8L-29.2 79.9L-27.7 80L-26.1 80.1L-24.5 80.2L-23 80.2L-21.4 80.2L-20.2 79.7L-19 79.1L-17.7 78.6L-16.2 77.9L-14.7 77.2L-13.1 76.5L-11.5 75.9L-9.8 75.3L-8.1 74.7L-6.5 74.5L-5 74.2L-3.4 74L-1.7 73.7L0 73.4L1.7 73.4L3.4 73.4L5.1 73.4L6.8 73.4L8.6 73.4L10.3 73.4L12 73.4L13.7 73.4L15.4 73.3L17.2 73.2L18.9 73L20.7 72.9L22.4 72.7L24.2 72.5L26.1 72.3L27.9 72L29.7 71.7L31.6 71.4L33.5 71L35.4 70.6L37.3 70.3L39.3 70L40.8 70.5L42.3 71.1L44 71.2L45.6 71.4L47.2 71.7L48.8 72L49.6 72.9L51.5 73.2L54.3 72L56.2 71.3L58.1 70.6L60.3 70.5L62.5 70.5L64.2 70.4L65.9 70.3L67.7 70.2L69.6 69.9L71.6 69.7L73.2 69.9L74.8 70.2L76.8 69.9L78.8 69.7L80.4 69.9L81.9 70.2L83.6 70.3L85.2 70.5L87.2 70.2L89.2 70L91.2 69.8L93.1 69.7L94.9 69.7L96.7 69.7L98.1 70L99.5 70.4L101.1 70.5L102.7 70.6L103.7 71.2L104.7 71.8L106.1 72.2L107.4 72.5L108.5 72.9L109.5 73.4L110.7 73.7L111.9 74.1L113.1 74.4L114.3 74.7L112.1 76L109.3 76.9L106.5 77.7L101.2 79.8L102.6 80L104 80.2L105.6 80.2L107.1 80.2L108.6 80.2L110.2 80.2M-135.6 -57L-133.5 -57.7L-133.6 -57.9L-135.5 -57.4ZM-142.2 -55.8L-140.2 -56.1L-140.1 -56.3L-142.1 -56ZM-145.5 -55.4L-143.6 -55.6L-143.5 -55.8L-145.2 -55.7ZM140.1 -56.6L141.5 -56.4L141.1 -56.7L139.9 -56.8ZM-126.5 -67.1L-124.9 -66.8L-124.2 -67.2L-125.8 -67.5ZM-127.1 -63.9L-126.3 -63.7L-125.7 -64.3ZM-106.7 -57.9L-106.5 -56.8L-106.8 -56L-107.1 -56.8ZM-53.4 -53.5L-51.6 -52.9L-51.3 -53.1L-53.2 -53.7ZM-54.3 -50.3L-52.5 -49.8L-52.8 -49.6L-54.4 -49.9ZM7.4 -46.2L8.2 -46.2L8.2 -44.6L7.6 -44.8ZM7.2 -44.1L8.5 -44.2L8.5 -42.3L7.4 -42.1ZM11.1 -41L13.7 -41.2L13.5 -39.6L11.1 -40.6ZM21.1 -38.3L23.5 -38L23.5 -37.8L21.2 -38ZM29 -37.8L30.9 -38.4L30.6 -37.5L29.2 -37.4ZM2.1 -42.8L3 -43L2.8 -42.4ZM-5.4 -66.1L-4.8 -66.2L-5.1 -65.5ZM-1.2 -64.4L-0.7 -64.5L-1 -63.8ZM14.1 -61.8L14.8 -61.7L14.4 -60.9ZM27.6 -82.1L29 -82.2L30.4 -82.3L31.9 -82.3L33.4 -82.4L34.9 -82.4L36.3 -82.2L35.1 -82L33.8 -81.9L32.5 -81.8L31.1 -81.8L29.7 -81.8L28.4 -81.8ZM120.6 -74.4L121.8 -74.3L121 -74.7L120.3 -74.7ZM125 -47.9L126.4 -49L126 -49.2L124.7 -48.4ZM127.3 -49.5L128.2 -50.8L127.9 -51L127.1 -49.8ZM128.4 -52.5L128.5 -54.3L128.2 -54.4L128.1 -52.8ZM50.5 -13.6L51.6 -13.6L51.4 -13.3L50.6 -13.4ZM37.3 6.3L37.7 6.5L37.5 7ZM40.9 12.4L41.3 12.6L41 12.9ZM51.6 22.7L52.1 22.8L51.8 23.1ZM53.7 21.6L54.1 21.8L53.8 22.1ZM57.3 52.7L58.7 52.8L58 53.4L57.2 53.3ZM87.6 -14.6L87.9 -14.5L87.9 -12.5L87.6 -12.7ZM118.1 -28.2L118.4 -28.9L118.2 -29ZM151.4 10L152.6 10.2L152.2 10.7ZM-163.9 22.7L-163.5 22.8L-163.6 23.1ZM-163.3 14.6L-162 15L-162.4 15.2ZM-140.6 18.9L-140.2 19L-140.3 19.3ZM-87.2 0.3L-86.5 0.4L-86.9 1.1ZM-30.5 57.9L-28.8 58.2L-28.8 58.7L-30.2 58.3ZM-58.7 -11.7L-57.8 -11.7L-57.8 -10.9L-58.7 -10.9ZM-72.3 -28.7L-71.6 -28.8L-71.4 -27.9L-72.3 -27.2L-72.2 -26.1L-72.6 -26.4ZM-147.4 -23.2L-146.2 -22.5L-146.1 -22.2L-147.5 -23ZM40 -49L41.5 -50.1L43.5 -50.4L44.8 -50.1L45.3 -48.5L43.7 -47.9L43.6 -46.3L45.5 -45.8L46.1 -44.2L47.2 -43.1L47.3 -41.5L47.9 -39.9L46.4 -39.6L44.5 -40.2L43.4 -41.3L43.2 -43.5L41.7 -45.3L40.7 -46.9ZM-77.7 -50.4L-74.6 -51.6L-72.6 -51.4L-71.5 -50.4L-73.6 -50.1L-75 -50.2L-76.5 -50.3ZM-76.3 -45.3L-75.2 -45.3L-73.7 -47.9L-72.2 -49.3L-74.1 -49L-75.6 -47.4ZM-71.7 -49.5L-69.2 -49.5L-68.4 -48.1L-70.8 -46.4L-71.7 -47.4L-71.2 -48.8ZM-72.5 -45L-70.4 -45.5L-68.3 -46.1L-68.7 -46.3L-70.3 -45.9L-71.9 -45.5ZM-68.7 -46.7L-67.2 -46.8L-65.7 -47L-65.6 -47.6L-68.2 -47.2ZM-90.5 -68.8L-89 -68.8L-87.6 -68.8L-84.5 -69.7L-84.3 -70.6L-86 -70.4L-87.6 -70.2ZM-88.2 -64.9L-86.6 -65L-85 -65.1L-82.8 -65.9L-80.7 -66.6L-82.1 -66.7L-84 -66.3L-85.8 -65.9ZM-81.6 -54.3L-79.5 -54.3L-78.1 -57.4L-79.7 -57.4ZM-85.9 -62.6L-83.9 -62.9L-82 -63.1L-81.7 -63.5L-83.4 -63.3L-85.1 -63.1ZM30.2 0.5L31 -0.3L32.4 -0.2L32.4 2.2L30.9 3L30.2 1.6ZM27.8 3.8L28.4 3.8L28.9 6.5L29.4 9.2L29 9.2L28.4 6.5ZM32.3 10.2L32.8 10.6L33 12.8L33.2 15.1L32.7 15.1L32.5 12.7ZM84.8 -55.3L85.9 -55.3L86.6 -57.4L87.1 -59.4L86.1 -59.7L85.6 -57.5ZM22.7 -64.4L24.7 -64.1L24.7 -65.1L22.9 -65.4ZM26 -64.9L27.1 -64.9L26.7 -66.4L25.7 -66.2ZM50.2 -47.4L51.7 -46.9L52.5 -48.5L51.6 -50.1L50.3 -50.1L49.8 -49ZM62.6 -49L63.6 -48.5L65.3 -49.2L66.9 -49.8L66.3 -50.4L64.8 -50.4L63.3 -50.4Z" fill="none" stroke="#000" stroke-width="0.75" stroke-linejoin="round"/>
</defs>
<g transform="translate(175 220.5)">
<g clip-path="url(#cp)">
<use href="#land" fill="#3773EA"/>
<path class="r" stroke="#14C1F2" d="M144 49.2h2.1M149 44.2h1.1M154.9 42.2h1.1M154.5 41.2h1.1M-52.1 38.1h1.1M-58.6 34.1h1.2m2.2 0h1.2M105.5 33h1.2M-54.7 30h1.2M-65.6 25.9h3.5M-59.9 24.9h1.2m10.4 0h1.2m7 0h1.1m153.6 0h1.2M128.2 20.8h1.2M-54.6 18.8h1.1m172.7 0h1.2M-62.9 17.8h1.1m4.7 0h1.2M-58.5 13.7h1.2M-50.3 12.7h1.2M-58.6 11.7h1.1M-55.2 9.7h1.2M-64.7 7.6h1.1m169.9 0h1.2m23.8 0h1.2M-54.1 6.6h2.4m86.8 0h1.2m64.1 0h1.2m33.3 0h2.4m5.9 0h1.2M-67.2 5.6h1.2m8.3 0h1.2m186.7 0h4.8M-74.4 4.6h2.4m20.2 0h1.2m177.3 0h4.8m5.9 0h1.2M-56.5 3.6h1.2m2.3 0h1.2m179.7 0h3.6m2.4 0h1.2M104.2 2.5h1.2m1.1 0h2.4m3.6 0h1.2m8.3 0h2.4m1.2 0h1.2m5.9 0h1.2M-70.8 1.5h1.1m176.3 0h1.2M124.4 .5h1.2M94.7 -.5h2.4M-67.3 -1.5h3.6m157.2 0h2.4M-63.7 -2.5h2.4m1.2 0h1.2M-72 -3.6h1.2m7.1 0h1.2M-73.2 -4.6h1.2m1.2 0h2.4m1.2 0h1.2M-60 -6.6h1.2m58.2 0h1.2M-58.8 -7.6h1.2m54.6 0h1.2m1.2 0h2.4m1.2 0h1.2M-.6 -8.6h1.2m1.2 0h1.2M3 -9.7h1.2m27.2 0h1.2M-70.5 -10.7h1.1m71.2 0h2.3m1.2 0h2.4m23.7 0h1.2m66.4 0h1.2M30.2 -11.7h1.2m67.5 0h1.2m19 0h1.1M1.8 -12.7h1.2M-79.8 -13.7h1.2m89.8 0h2.4m17.7 0h1.2M-12.4 -14.7h1.2M11.2 -15.8h2.4m81.4 0h1.1M-4.1 -16.8h1.2m48.3 0h2.3m48.3 0h1.2m1.2 0h1.2m1.1 0h1.2M-81.8 -17.8h1.2m73 0h1.1m9.4 0h2.4m1.2 0h1.1M-97.8 -20.8h1.2m186.2 0h1.2M-97.6 -21.9h1.1m2.4 0h1.1m1.2 0h1.2m184.7 0h1.2M97.3 -23.9h1.2M9.9 -25.9h1.1M-1.7 -26.9h1.1m93.9 0h1.1m1.2 0h1.2M93.1 -28h1.1m12.8 0h1.1m2.3 0h1.2M96.3 -29h1.2m6.9 0h1.2m3.4 0h1.2M-97.2 -30h1.1m197.9 0h1.2m1.1 0h1.2M108.5 -31h1.1m1.2 0h1.1M100.1 -32h1.2M-85 -33h1.1m184.9 0h2.3m5.7 0h1.1M-87 -34.1h1.1m3.4 0h1.2m119.4 0h1.1m58 0h1.2m6.8 0h1.1M-82.2 -35.1h3.4m184.8 0h1.1M-81.9 -36.1h1.1m117.5 0h1.1m33.9 0h3.4M-81.6 -37.1h3.4m5.6 0h1.1m102.4 0h1.2m74.3 0h2.2M-81.3 -38.1h1.1m5.6 0h1.2m176 0h1.1M-68.7 -39.1h1.1m116.2 0h1.1m7.8 0h1.1m39.1 0h1.1m15.7 0h1.1M-69.5 -40.2h1.1m104.5 0h1.2m71.1 0h1.1M-82.5 -41.2h1.1M-76.6 -42.2h1.1m9.9 0h1.1M-67.5 -43.2h3.3m96.6 0h3.3m19.7 0h1.1m56 0h1.1M109.7 -44.2h1.1M-99.4 -45.2h1.1m191.2 0h1.1m30.4 0h1.1M-72.9 -46.2h2.1m108.1 0h1.1m43.2 0h1.1m22.7 0h1m1.1 0h1.1M62.9 -47.2h1.1m24.7 0h1M9.1 -48.2h1.1m45.9 0h1.1m1.1 0h1M14.3 -49.2h1.1M17.4 -50.2h1.1M-2.6 -51.2h1m6.3 0h1.1m8.4 0h1M-83 -52.2h2.1m88.7 0h1.1m11.5 0h1m21.9 0h1.1m14.6 0h1M7.8 -53.2h1m1.1 0h1m11.4 0h1m4.2 0h1m1.1 0h1m20.8 0h1m39.4 0h1M-87.1 -54.2h1m80.4 0h2.1M-99.8 -55.1h1m210.9 0h2M3.6 -56.1h2m105.7 0h1M-6.6 -57.1h1.1m23.2 0h1M-2.5 -58.1h2m6 0h1m54.1 0h2m46 0h1M-49.2 -59h1m58.6 0h2m1 0h1M-91.2 -60h1m39.4 0h1m156.7 0h1M-73.8 -60.9h1m146.6 0h1m6.8 0h2m11.7 0h1M9.2 -61.9h1m11.6 0h1m1.9 0h2m26.1 0h1m23.3 0h1.9M9.1 -62.8h1m67.3 0h2.8M23.3 -63.8h1.9m15.3 0h.9m34.3 0h2.9m.9 0h1M34.5 -64.7h.9m3.8 0h.9m10.4 0h.9m22.7 0h.9M-121.1 -65.6h.9m26.2 0h.9m109.5 0h.9m76.7 0h1.9M15.3 -66.5h.9m17.6 0h1.9m.9 0h.9m34.3 0h1.9m19.4 0h1M-90.4 -67.4h.9m99.1 0h1m20.1 0h1m39.4 0h1m3.6 0h.9M-102.3 -68.3h.9m29.1 0h.9m140.9 0h.9M89.6 -69.2h.9M-63.1 -71h.9m154.4 0h.8M-88.6 -71.9h.9M111.4 -73.6h.9"/>
<path class="r" stroke="#CDE9F7" d="M-56.4 56.1h1M-59.5 40.2h1.1M106.7 36.1h1.2M-60.3 31h1.2M-45.5 30h1.2m65.6 0h1.1M-52.7 26.9h1.1M133 25.9h1.1M-53 23.9h1.1m2.4 0h1.1m75.8 0h1.2M27.5 21.9h1.1m2.4 0h1.2M-57 18.8h1.2M-54.7 17.8h1.2M-49 14.7h1.2M23.1 13.7h1.1M21.9 11.7h2.4m2.4 0h1.1M-59.9 10.7h1.2M30.3 9.7h1.1m1.2 0h1.2M-64.7 8.6h1.2m10.7 0h1.2m78.3 0h2.4M-70.7 7.6h1.2m11.9 0h1.2M29.1 6.6h1.2M129 5.6h1.2M123.2 3.6h2.4m7.1 0h1.2M37.5 .5h3.6M29.2 -3.6h1.1M-74.3 -6.6h1.2m71.3 0h1.2m3.6 0h2.3M4.2 -7.6h2.3m23.8 0h1.2M-61.1 -8.6h1.1m1.2 0h1.2m86.7 0h1.2M4.1 -10.7h1.2M6.5 -11.7h1.2m1.2 0h1.2m23.7 0h1.1m2.4 0h1.2M-.6 -12.7h1.2M10.1 -13.7h1.1M-3 -14.7h3.6M-4.1 -15.8h1.2M-6.5 -17.8h1.2m12.9 0h1.2m5.9 0h1.2M-10 -18.8h1.2m44.6 0h1.2M87.2 -20.8h1.2M11 -28h1.1M98.4 -30h1.1M93.5 -31h1.2m2.3 0h1.1m1.2 0h2.3M37.2 -32h1.1M93.8 -34.1h1.2M45.9 -35.1h1.1m1.2 0h1.1m12.5 0h1.1M-84.2 -36.1h1.2M92.8 -37.1h1.2M92.5 -38.1h2.2M-78.4 -40.2h1.1m184.6 0h1.1M39.3 -41.2h1.1m48.7 0h1.2M-68.9 -42.2h1.1M52.1 -43.2h1.1M45.3 -44.2h1.1M38.4 -46.2h1M13.4 -48.2h1M-59 -49.2h1.1m128.6 0h1M91.4 -50.2h2.1M31 -51.2h1M32.9 -52.2h1m15.7 0h1m9.4 0h1.1m10.4 0h1.1M23.3 -53.2h4.2m4.1 0h1.1m61.2 0h1M13.8 -55.1h1m4.1 0h1.1m72.6 0h1.1m8.1 0h1.1M-2.5 -57.1h1m1 0h2M-56.6 -58.1h1m119.2 0h1M82.9 -59h1m11 0h1M31.8 -60.9h.9m47 0h.9M33.4 -61.9h1M25.5 -62.8h.9m1 0h.9m52.9 0h1m17.3 0h.9M25 -64.7h1m46.2 0h1M22.7 -66.5h.9m12.1 0h.9m8.3 0h1m78.7 0h1M35.3 -67.4h1m88.1 0h.9M59.3 -73.6h.9M59 -78.5h.8"/>
<path class="r" stroke="#FDB913" d="M-57.1 59h1M-58.4 40.2h1.1M-62.2 38.1h2.2M107.5 37.1h1.1M114.7 33h2.3M-61.4 31h1.1M-62.7 30h2.3M-53.9 26.9h1.2m159.9 0h1.2M21.5 24.9h1.2M19.4 19.8h1.1M-66.7 15.8h1.2M24.2 13.7h1.2m110 0h1.2M20.7 11.7h1.2M-73.1 7.6h1.2M-74.3 5.6h1.2M-63.6 4.6h1.1m178.5 0h1.2M-55.3 3.6h1.2M-74.4 2.5h1.2M-78 1.5h1.2m2.4 0h1.2m16.6 0h2.4m85.8 0h3.5m64.3 0h1.2M-58.9 .5h1.1m165.6 0h1.2M112.5 -.5h1.2M110.1 -1.5h2.4M94.6 -2.5h1.2m9.6 0h1.1m2.4 0h1.2m1.2 0h1.2M31.5 -3.6h1.2m7.2 0h1.2m55.9 0h1.2m8.3 0h1.2m1.2 0h1.2M5.3 -6.6h2.4m32.1 0h1.2M-56.4 -8.6h1.2m51 0h1.2m35.7 0h2.3M30.3 -9.7h1.1M-81.1 -11.7h1.1m109 0h1.2m4.7 0h1.2m2.4 0h1.2m56.8 0h2.4M-81.1 -12.7h2.4M-84.5 -13.7h1.1m2.4 0h1.2m98.1 0h2.4M-80.9 -14.7h2.4m93.3 0h2.3M7.7 -15.8h1.1M-92.1 -19.8h1.2m122 0h1.2M-99 -20.8h1.2m11.7 0h1.2M-98.8 -21.9h1.2m1.1 0h1.2m2.3 0h1.2M-94 -22.9h1.2m1.2 0h1.1m182.1 0h3.5M4.1 -23.9h1.1m84 0h1.1m2.3 0h2.4M90.2 -24.9h3.5M-95.4 -28h1.2m189.6 0h1.2m1.1 0h1.2m4.6 0h1.2m1.1 0h1.2m1.1 0h1.2M100.9 -29h1.2m4.6 0h1.2M105.3 -30h1.1m1.2 0h1.2M93 -33h2.3M6.3 -34.1h1.1m98.9 0h1.2M-87.9 -35.1h1.2m80.5 0h1.1M7.3 -36.1h1.2M68.1 -37.1h1.1m48.4 0h1.1M-100.3 -38.1h1.1m213 0h1.1M-97.7 -39.1h1.1m212.2 0h1.1M-86.2 -40.2h1.1m1.1 0h2.3m179 0h1.1M22.7 -41.2h1.1m5.5 0h1.2m65.3 0h2.2M-94.3 -42.2h1.1M-97.1 -43.2h1.1m201.9 0h1.1M-107.6 -44.2h1.1m132.2 0h2.1M41.8 -45.2h1.1m80.4 0h1.1M-94.6 -46.2h1.1m1.1 0h1.1m151.3 0h1.1M-102.6 -47.2h1m97.8 0h1.1m49.5 0h1M-103.1 -48.2h2.1m24.6 0h1m89.8 0h1.1m55.6 0h1M32.4 -49.2h1.1m7.4 0h1.1m49.9 0h1.1m15.9 0h1.1M-102 -50.2h1.1m1 0h1.1m4.2 0h2.1M48.8 -51.2h1.1m23.1 0h1.1M47.5 -52.2h1m3.2 0h1m19.9 0h2m33.5 0h1m3.1 0h1.1M30.6 -53.2h1m10.4 0h2.1m5.2 0h1m45.7 0h1M-86.1 -54.2h1.1m117.5 0h1m42.2 0h1.1m10.3 0h1M22 -55.1h1M23.9 -56.1h1M13.6 -57.1h1m21.2 0h1m5.1 0h1m17.1 0h1m4.1 0h1m5 0h2m41.4 0h1M-55.6 -58.1h1m69.1 0h1m8 0h1m38.1 0h1M18.4 -59h1m14.9 0h1m57.6 0h1M-85.2 -60h.9m14.8 0h1M103.1 -60.9h1M13.1 -61.9h1.9m39.8 0h.9m29.1 0h1m5.8 0h1M29.3 -62.8h1m2.9 0h.9M-110 -63.8h2.8m1 0h.9m159.1 0h1m3.8 0h.9m21 0h.9m20 0h1M-107.1 -64.7h.9m123.7 0h.9m4.7 0h1m18.9 0h.9m31.1 0h1M-103.3 -66.5h.9M-88.6 -67.4h1.9m153.2 0h1m38.5 0h.9M68.6 -68.3h.9M-63.7 -70.1h.9m92.6 0h.9M99 -71.9h.9M-97.1 -72.7h.9m31.9 0h.9"/>
<path class="r" stroke="#FA3C05" d="M5.3 -15.8h1.2M-95.3 -21.9h1.2M62.2 -33h1.1M69.2 -37.1h1.1M28.6 -38.1h1.1m1.1 0h1.2m31.3 0h1.2M63.1 -39.1h1.1M32.7 -41.2h1.1M123.4 -43.2h1.1M24.6 -44.2h1.1M-108.1 -45.2h1.1M47 -46.2h1.1m54 0h1.1M-105.3 -48.2h1.1m132.5 0h1.1M-100.9 -50.2h1m127.9 0h1.1m43.3 0h1M68.8 -51.2h1.1M29.8 -52.2h1m39.7 0h1M85.6 -53.2h1M81.9 -54.2h1.1M1.5 -55.1h1.1m40.9 0h1m5.1 0h1.1m38.9 0h1M115.5 -57.1h1M18.5 -58.1h1m9 0h1M34 -60h1M32.7 -60.9h1m70.4 0h1M-96.4 -61.9h.9m129.9 0h1m35.8 0h1m32 0h1M80.2 -62.8h1M-107.2 -63.8h1M-114.7 -64.7h.9M-113.5 -66.5h.9m22.2 0h1.9m150.1 0h1M-111.5 -67.4h.9m21.1 0h.9m156.1 0h.9M-87.7 -71h1.7"/>
<path class="r" stroke="#D62B27" d="M-62.8 53.2h1.1m2 0h1.1m2.1 0h1M-63.9 50.2h1M144.8 48.2h1.1M143.5 47.2h5.4M-62.1 46.2h1M-64.6 45.2h1m1.1 0h1.1m5.5 0h1m203.2 0h2.2M-65 44.2h2.2m214 0h1.1M-65.3 43.2h6.6m210.7 0h1.1m2.2 0h1.1M-63.4 42.2h3.3M156.7 41.2h2.2M-66.4 39.1h1.1m1.1 0h1.1m10.1 0h1.1M-65.6 38.1h1.1m1.2 0h1.1M-52.3 37.1h1.1m2.2 0h1.2M-61.6 36.1h3.4M-60.6 35.1h1.1M-63.1 34.1h1.1M-48.5 33h2.3M123 32h2.3M124.5 31h1.2M15.6 29h1.1M-61 25.9h1.2M-71.5 14.7h2.4M16 12.7h1.2M-68.3 8.6h1.2M-71.9 7.6h1.2m1.2 0h1.2M-70.8 5.6h1.2m107.1 0h1.1m58.3 0h1.2M105.4 2.5h1.1m2.4 0h1.2M-73.2 1.5h1.2m179.8 0h1.1M116.1 -.5h1.2m4.8 0h1.2M112.5 -1.5h1.2m7.2 0h1.1M120.8 -2.5h1.2M13.7 -3.6h1.2m83.3 0h1.2M38.7 -4.6h1.2M26.8 -5.6h1.1m83.3 0h1.2M-3 -6.6h1.2m114.1 0h1.2m1.2 0h1.2m1.2 0h1.2M-1.8 -7.6h1.2m2.4 0h1.2m26.1 0h1.2m84.3 0h2.4M-64.7 -8.6h2.4m4.7 0h1.2m49.9 0h1.2m35.6 0h1.2m7.1 0h2.4m32 0h1.2m19 0h2.4m3.5 0h1.2m15.5 0h2.3M-80.1 -9.7h1.2m105.6 0h1.2m43.9 0h2.4m41.5 0h2.4M-82.4 -10.7h2.4m3.5 0h1.2m147 0h2.4m20.2 0h1.1m2.4 0h1.2m19 0h1.2M-82.3 -11.7h1.2m1.1 0h1.2m66.4 0h1.1m30.8 0h1.2m19 0h1.2m30.8 0h4.7m26.1 0h1.2m11.8 0h3.6M-82.3 -12.7h1.2m69.9 0h4.7m15.4 0h1.2m24.8 0h1.2m35.5 0h3.6m18.9 0h1.2m1.2 0h1.1m1.2 0h2.4M-83.4 -13.7h2.4m66.2 0h1.2m1.2 0h4.7m5.9 0h3.6m4.7 0h3.6m24.8 0h1.2m2.3 0h1.2m30.8 0h4.7m17.7 0h2.4m3.5 0h1.2m16.6 0h1.1M-86.8 -14.7h4.7m78 0h1.1m6 0h1.1m66.2 0h5.9m17.7 0h1.2m5.9 0h1.2M-87.9 -15.8h1.2m1.2 0h2.3m77.9 0h1.2m12.9 0h1.2m59 0h7.1m22.4 0h3.5M-92.5 -16.8h1.2m1.2 0h1.1m2.4 0h2.4m1.1 0h2.4m71.9 0h1.1m16.5 0h1.2m16.5 0h1.2m7.1 0h2.3m31.8 0h7.1m21.2 0h1.2M-93.5 -17.8h9.4m1.2 0h1.1m97.7 0h1.2m5.8 0h1.2m44.7 0h8.3m11.7 0h1.2m3.5 0h4.7m1.2 0h1.2M-96.9 -18.8h5.9m3.5 0h3.5m77.5 0h1.2m74 0h3.5m1.2 0h5.9m16.4 0h4.7M-95.6 -19.8h3.5m159.5 0h10.6m1.2 0h1.1m9.4 0h2.4m2.3 0h2.4m2.3 0h1.2m2.3 0h1.2m10.6 0h1.1M-96.6 -20.8h4.7m1.1 0h1.2m4.7 0h1.2m151 0h12.9m16.4 0h3.5M5.3 -21.9h1.1m1.2 0h1.2m8.2 0h2.3m47.9 0h11.7m7 0h1.2m10.5 0h2.4M-96.3 -22.9h1.2m113.2 0h1.2m45.5 0h17.5m4.7 0h4.6M-99.6 -23.9h5.8m83.9 0h1.2m11.6 0h1.2m12.8 0h2.3m45.5 0h19.8m1.2 0h3.5M-99.5 -24.9h7m121 0h1.2m9.3 0h1.1m24.5 0h25.6M29.6 -25.9h1.2m32.5 0h4.6m1.2 0h20.9m7 0h1.1M-99.1 -26.9h1.2m162.2 0h23.2m1.2 0h1.1m4.6 0h1.2m1.2 0h3.4m4.7 0h3.5M-96.6 -28h1.2m85.6 0h1.1m25.5 0h2.3m45.1 0h12.7m1.2 0h11.5m4.6 0h1.2M17.9 -29h2.3m43.8 0h15m1.2 0h8.1m2.3 0h1.1m3.5 0h1.1m1.2 0h1.1m1.2 0h1.1M63.9 -30h13.8m1.1 0h6.9m13.8 0h2.3m4.6 0h1.2M36.2 -31h2.2m24.2 0h12.6m1.1 0h1.2m2.3 0h1.1m2.3 0h1.2m8 0h1.1m8.1 0h1.1M1.7 -32h3.5m3.4 0h1.1m6.9 0h1.1m50.4 0h5.7m1.2 0h1.1m17.2 0h1.1M18.8 -33h1.2m41 0h1.2m4.5 0h6.9M-.6 -34.1h1.2m10.2 0h2.3m15.9 0h1.1m6.9 0h1.1m23.9 0h1.1m1.2 0h1.1m35.3 0h1.1m1.1 0h2.3M-1.7 -35.1h1.1m51 0h1.2m11.3 0h2.3m2.2 0h1.2m32.9 0h3.4m2.2 0h3.4m10.2 0h1.2M49.1 -36.1h1.2m13.5 0h5.7m23.7 0h1.1m3.4 0h2.3m1.1 0h4.5m11.3 0h1.1M96.2 -37.1h7.9M-101.5 -38.1h1.2m1.1 0h1.1m2.2 0h1.2m90.8 0h1.1m32.5 0h1.1m70.7 0h1.1m1.1 0h3.4m7.8 0h1.1m10.1 0h1.2M-101.1 -39.1h3.4m13.4 0h2.2m154.1 0h1.1m31.3 0h3.4M-100.7 -40.2h1.2m14.4 0h1.1m126.8 0h1.1m3.4 0h2.2m48.9 0h3.4m2.2 0h3.3M-100.2 -41.2h2.2m27.7 0h1.1m96.3 0h1.1m3.4 0h1.1m5.5 0h1.1m1.1 0h1.1m5.6 0h2.2m50.9 0h2.2M-102 -42.2h3.3m3.3 0h1.1m195.2 0h3.3m1.1 0h1.1m1.1 0h1.1m1.1 0h1.1M-101.5 -43.2h4.4m120.7 0h1.1m74.6 0h1.1m4.4 0h1.1m1.1 0h1.1m14.2 0h1.1M-106.5 -44.2h1.1m3.3 0h1.1m2.2 0h1.1m125.5 0h1.1M-102.7 -45.2h1.1m25 0h1.1m91.3 0h1m41.3 0h1.1m42.4 0h1.1m8.7 0h2.1M-102.1 -46.2h1.1m1 0h1.1m135.1 0h1.1m20.5 0h2.2M43.5 -47.2h2.2m9.7 0h1M-101 -48.2h2.1m23.5 0h1.1m104.8 0h1m17.1 0h3.2m11.8 0h1.1m34.2 0h1m22.5 0h1.1M27.1 -49.2h1.1m7.4 0h1.1m10.6 0h5.3m33 0h1m18.1 0h4.2m11.7 0h1.1M-84 -50.2h1.1m123.6 0h1m5.3 0h3.2m14.8 0h1m7.4 0h1.1m2.1 0h1.1m12.6 0h1.1m10.6 0h1m1.1 0h2.1M-104.5 -51.2h1m6.3 0h1.1m1 0h2.1m99.8 0h1.1m17.8 0h1.1m35.7 0h1.1m2.1 0h3.1m6.3 0h1.1m10.5 0h1M-95.5 -52.2h1m30.3 0h1m67.9 0h1m7.4 0h1m12.5 0h2.1m8.4 0h1m19.8 0h1.1m48 0h1.1m5.2 0h1m1.1 0h1M-100.1 -53.2h2.1m4.1 0h2.1m3.1 0h4.2m2 0h1.1m87.1 0h2.1m25.9 0h1.1m3.1 0h2m32.2 0h1m6.3 0h1m22.8 0h2.1m1 0h1.1m1 0h1m1.1 0h4.1m1.1 0h1M-83 -54.2h1.1m3.1 0h1m13.4 0h1m12.4 0h3.1m2 0h1.1m48.4 0h1m18.6 0h1m4.1 0h1.1m4.1 0h1m6.2 0h5.2m19.5 0h2.1m10.3 0h2.1m26.8 0h1m2.1 0h2m1 0h1.1m2 0h1.1M-66 -55.1h1m12.3 0h1m47.1 0h1m4.1 0h1m14.4 0h2m10.2 0h1.1m12.3 0h1m44 0h2m20.5 0h1m4.1 0h3.1M-50.3 -56.1h1m64 0h2.1m2 0h1m6.1 0h1m76.2 0h1.1m1 0h1m1 0h2m3.1 0h3M-76.2 -57.1h2.1m1 0h1m1 0h1m1 0h1m83.7 0h2.1m17.1 0h1m3 0h1m8.1 0h1m60.6 0h2m2 0h1M-70.6 -58.1h2m15 0h1m47.1 0h1m32 0h1m1 0h1m6 0h1m6.1 0h2m1 0h1m6 0h1m14 0h2m8 0h1m1 0h3m1 0h1m2 0h2m15 0h3M-83.9 -59h1m10.9 0h1m22.8 0h2m62.6 0h1m29.8 0h1m42.7 0h1M-125.6 -60h.9m41.4 0h1m1 0h3.9m4 0h2.9m2 0h1m77.8 0h1m23.7 0h2m32.5 0h1.9M-125.6 -60.9h1m22.5 0h.9m16.7 0h6.8m23.5 0h.9m1 0h1m85 0h3.9m15.7 0h.9m30.3 0h1M-102.3 -61.9h2m8.7 0h1m10.6 0h1m26.2 0h.9m2 0h1.9m59.1 0h2m33.9 0h1m15.5 0h1m35.8 0h1m3.9 0h.9M-107.1 -62.8h.9m8.7 0h.9m7.7 0h1.9m5.8 0h1m1.9 0h.9m84.6 0h1m3.8 0h1m36.5 0h1.9m10.6 0h.9m2 0h.9m1 0h.9m16.4 0h1.9m5.8 0h.9m2.9 0h1m14.4 0h.9M-113.8 -63.8h.9m13.4 0h.9m11.4 0h1.9m3.9 0h.9m3.8 0h1m24.7 0h1m104.8 0h.9m5.7 0h1m.9 0h1.9m16.2 0h1m9.5 0h1m11.4 0h1m3.8 0h1.9M-113.8 -64.7h1m17.9 0h7.6m8.5 0h.9m93.5 0h.9m1.9 0h1m38.7 0h.9m4.7 0h1m2.8 0h.9m1 0h.9m18.9 0h1M-96.8 -65.6h.9m1 0h.9m3.7 0h1m1.8 0h3.8m4.7 0h1.8m120.7 0h1.9m.9 0h.9m2.8 0h1m2.8 0h.9m1.9 0h.9m3.8 0h.9m22.5 0h.9m3.7 0h1m14 0h.9M-88.5 -66.5h.9m2.8 0h1.9m7.4 0h1.8m4.7 0h1.8m115.9 0h.9m.9 0h.9m2.8 0h.9m2.8 0h3.7m1 0h1.8M-121.6 -67.4h.9m3.7 0h.9m5.5 0h1.8m143.2 0h.9m4.6 0h14.7m.9 0h1m.9 0h6.4m33 0h1M-126.8 -68.3h.9m10 0h.9m10.9 0h.9m6.4 0h.9m6.4 0h.9m127.2 0h12.8m7.2 0h2.8m1.8 0h1.8m10.9 0h.9M-107.6 -69.2h2.7m10.8 0h1.8m3.6 0h.9m.9 0h.9m124.3 0h6.3m.9 0h7.2m.9 0h.9m8.1 0h.9M-106.5 -70.1h4.5m8.9 0h2.7m121.1 0h.9m9.8 0h.9m4.5 0h1.8m2.6 0h.9m13.4 0h.9M-116 -71h1.8m.9 0h.9m21.1 0h1.8m120.8 0h.9m8.8 0h2.7m1.7 0h2.7m7 0h1.8m1.7 0h.9m5.3 0h.9M-115.6 -71.9h.9m.8 0h.9m14.8 0h.9m.9 0h.9m138.7 0h.9m5.2 0h1.7m2.7 0h.8m7.9 0h1.7M-95.4 -72.7h.9M45.7 -73.6h.8"/>
<use href="#coast"/>
</g>
<use href="#fr" fill="none" stroke="#000" stroke-width="0.6"/>
</g>
<g transform="translate(525 220.5)">
<g clip-path="url(#cp)">
<use href="#land" fill="#3773EA"/>
<path class="r" stroke="#14C1F2" d="M-63.9 50.2h1M-58.6 47.2h1.1M148.3 45.2h1.1M-55.3 39.1h1.1M-54.4 38.1h1.1M-65.8 37.1h2.2M-63.3 33h1.1m167.7 0h1.2M-52.1 32h1.2M-56.1 28h2.3M-53.9 26.9h1.2M-65.6 25.9h3.5M-40.1 24.9h1.1m153.6 0h1.2M128.2 20.8h1.2M-54.6 18.8h1.1m15.3 0h1.2m156.2 0h1.2M-62.9 17.8h1.1m4.7 0h1.2M-58.5 13.7h1.2M-50.3 12.7h1.2M-58.6 11.7h1.1m170.6 0h1.2M-44.5 10.7h2.4M-55.2 9.7h1.2m186.3 0h1.2M-50.5 8.6h2.4m187.6 0h1.2M-64.7 7.6h1.1m162.8 0h1.2m32.1 0h1.2m1.1 0h1.2m2.4 0h1.2M-58.8 6.6h2.3m1.2 0h2.4m88 0h1.2m95 0h4.8M-67.2 5.6h1.2m8.3 0h1.2m4.8 0h1.2m185.5 0h2.4M-74.4 4.6h2.4m20.2 0h1.2m180.9 0h1.2M-62.5 3.6h1.2m1.2 0h1.2m2.4 0h1.2m2.3 0h1.2m165.5 0h1.1m1.2 0h1.2m3.6 0h3.6m5.9 0h2.4M-74.4 2.5h1.2m179.7 0h3.6m13.1 0h1.2m3.6 0h2.4m1.1 0h2.4M-70.8 1.5h1.1m187 0h1.2M116.1 .5h1.2M-50.6 -.5h2.4m154.8 0h1.2m2.4 0h1.1m10.8 0h1.2M-67.3 -1.5h3.6m176.2 0h1.2m1.2 0h1.2M-63.7 -2.5h2.4m1.2 0h1.2M-72 -3.6h1.2m7.1 0h1.2M-74.4 -4.6h6m1.2 0h1.2m7.1 0h1.2m1.2 0h1.2M-62.4 -5.6h1.2M-60 -6.6h1.2m58.2 0h1.2m109.3 0h1.2M-67.1 -7.6h1.2m7.1 0h1.2m65.3 0h1.2m2.4 0h2.4M1.8 -8.6h1.2m2.3 0h1.2m3.6 0h2.4m9.5 0h1.2M-70.6 -9.7h2.4m58.1 0h1.2M-70.5 -10.7h1.1m61.7 0h4.7m36.8 0h1.2m66.4 0h1.2M-14.8 -11.7h2.4m131.5 0h1.1M-16 -12.7h2.4m15.4 0h1.2M-1.8 -13.7h1.2M-5.3 -14.7h1.2m2.3 0h1.2M-87.9 -15.8h1.2m70.8 0h1.2m3.5 0h2.4m1.1 0h1.2m11.8 0h2.4m3.5 0h2.4M-91.3 -16.8h1.2m3.5 0h1.2m69.5 0h2.4m18.8 0h1.2m3.5 0h2.4m31.8 0h3.5M6.5 -19.8h1.1M96.6 -20.8h2.4M89 -24.9h1.2M9.9 -25.9h1.1m97.6 0h1.1M-1.7 -26.9h1.1m110.1 0h1.2M96.6 -28h1.1m8.1 0h5.8M98.6 -29h1.2M-97.2 -30h1.1m191 0h1.2m1.1 0h3.5M93.5 -31h1.2M93.3 -32h1.1m1.2 0h1.1M94.1 -33h1.2M38.1 -34.1h1.1M-79.9 -35.1h1.1m176.9 0h1.1M-81.9 -36.1h1.1m117.5 0h1.1m33.9 0h3.4m29.4 0h2.2m2.3 0h1.1M-81.6 -37.1h3.4m5.6 0h1.1m102.4 0h1.2m70.9 0h2.2M-81.3 -38.1h1.1m5.6 0h1.2m174.9 0h1.1m1.1 0h1.1m2.3 0h1.1M48.6 -39.1h1.1m7.8 0h1.1m55.9 0h1.1M-90.6 -40.2h1.1m125.6 0h1.2M106.9 -41.2h1.1M-76.6 -42.2h1.1m9.9 0h1.1M-87.2 -43.2h1.1m17.5 0h4.4m96.6 0h3.3m19.7 0h1.1M-94.5 -44.2h1.1m3.3 0h1.1m96.1 0h1.1m96.1 0h1.1M-99.4 -45.2h1.1m9.8 0h1m89.1 0h1.1m4.4 0h3.2m9.8 0h1.1m71.7 0h1.1m11.9 0h1.1m17.4 0h1.1M-83.8 -46.2h1.1m5.4 0h1.1m2.2 0h3.2m72.4 0h1.1m2.2 0h1m1.1 0h1.1m1.1 0h1.1m27 0h1.1m43.2 0h1.1m22.7 0h1m1.1 0h1.1M-68.3 -47.2h1.1m1.1 0h1.1m89.2 0h1.1m37.6 0h1.1m24.7 0h1M-86 -48.2h1m16.1 0h1m77 0h1.1m2.1 0h1.1m42.7 0h1.1m1.1 0h1M14.3 -49.2h1.1m9.6 0h1M17.4 -50.2h1.1m7.4 0h3.2m85.6 0h2.1M7.9 -51.2h1m6.3 0h1.1m7.3 0h1.1m84 0h1.1m2.1 0h1m1.1 0h2.1M-83 -52.2h2.1m76.2 0h1m14.7 0h1m3.1 0h1.1m6.2 0h1.1m1 0h1.1m17.7 0h1.1m14.6 0h1m48.1 0h1m3.1 0h1.1M11.9 -53.2h1.1m3.1 0h2.1m4.1 0h1m4.2 0h1m1.1 0h1m20.8 0h1m39.4 0h1M-87.1 -54.2h1m96.9 0h1.1m10.3 0h2m83.5 0h1M-99.8 -55.1h1m94.2 0h1m7.2 0h7.1m11.3 0h2.1m84.9 0h1m2.1 0h2M-2.5 -56.1h1m11.2 0h1m96.5 0h1m3.1 0h2M15.6 -57.1h1M-3.5 -58.1h1m2 0h1m60.1 0h2m46 0h1M-49.2 -59h1m43.7 0h4M-91.2 -60h1m39.4 0h1m47.3 0h1m108.4 0h1M-73.8 -60.9h1m68.4 0h1m23.4 0h1m2 0h.9m1 0h1m47.9 0h1m6.8 0h2m11.7 0h1M26.7 -61.9h.9m25.2 0h1m23.3 0h1.9M77.4 -62.8h2.8M-1.4 -63.8h.9m4.8 0h.9m1 0h1.9m8.6 0h.9m5.7 0h1.9m15.3 0h.9m34.3 0h2.9m.9 0h1M20.3 -64.7h.9m13.3 0h.9m3.8 0h.9m10.4 0h.9m22.7 0h.9M-121.1 -65.6h.9m26.2 0h.9m187.1 0h1.9M15.3 -66.5h.9m17.6 0h1.9m.9 0h.9m34.3 0h1.9m19.4 0h1M-90.4 -67.4h.9m99.1 0h1m20.1 0h1m39.4 0h1m3.6 0h.9M-102.3 -68.3h.9m29.1 0h.9m140.9 0h.9M89.6 -69.2h.9M-63.1 -71h.9m154.4 0h.8M-88.6 -71.9h.9M111.4 -73.6h.9"/>
<path class="r" stroke="#CDE9F7" d="M-56.4 56.1h1M-57.6 43.2h1.1M-54.2 39.1h2.3M-55.5 38.1h1.1M106.7 36.1h1.2M-49.9 31h1.1M-45.5 30h1.2m65.6 0h1.1M-58.4 28h1.2m3.4 0h1.2M-52.7 26.9h1.1M-61 25.9h1.2m192.8 0h1.1M-48.3 24.9h1.2M27.4 23.9h1.2M-57.8 22.9h2.4M27.5 21.9h1.1m2.4 0h1.2M-54.7 17.8h1.2M-49 14.7h1.2M23.1 13.7h1.1M21.9 11.7h2.4m2.4 0h1.1M-59.9 10.7h1.2M-64.7 8.6h1.2m10.7 0h1.2M-70.7 7.6h1.2m11.9 0h1.2M17.2 5.6h2.4M8.9 3.6h1.2m2.4 0h1.2m3.6 0h1.1M11.3 2.5h1.2m2.4 0h1.2m10.7 0h3.6M26.8 -.5h1.2M12.5 -2.5h4.8M8.9 -3.6h1.2m7.2 0h1.1M-3 -4.6h1.2M-3 -5.6h1.2m8.3 0h3.6M-74.3 -6.6h1.2M8.9 -7.6h2.4M-61.1 -8.6h1.1m1.2 0h1.2m52.3 0h1.1m25 0h1.2m1.2 0h1.1M-11.3 -9.7h1.2m8.3 0h1.2m22.6 0h1.1M16 -11.7h1.2M-4.1 -12.7h1.1m17.8 0h1.2M-13.6 -13.7h1.2m14.2 0h1.2M-10 -16.8h1.2m15.3 0h1.2M13.5 -17.8h1.2M87.2 -20.8h1.2M11 -28h1.1M37.2 -32h1.1M93.8 -34.1h1.2M45.9 -35.1h1.1m1.2 0h1.1m12.5 0h1.1m44.2 0h1.2M-84.2 -36.1h1.2M105.2 -37.1h3.4M104.8 -38.1h2.3M-92.1 -39.1h1.1m20.1 0h1.1m1.1 0h1.1M-89.5 -40.2h3.3m16.7 0h1.1M-82.5 -41.2h1.1m120.7 0h1.1m48.7 0h1.2M-68.9 -42.2h1.1M52.1 -43.2h1.1M45.3 -44.2h1.1M.5 -45.2h1.1m1.1 0h1.1M-78.3 -46.2h1m115.7 0h1M-88.7 -47.2h1.1m1.1 0h1.1m89.2 0h1M-85 -48.2h1.1m87.6 0h1.1m8.6 0h1M-59 -49.2h1.1m59.5 0h1.1m2.1 0h1m64.9 0h1M1.6 -50.2h1m10.6 0h2.1m1.1 0h1m74 0h2.1M2.6 -51.2h2.1m9.5 0h1m15.8 0h1M32.9 -52.2h1m15.7 0h1m9.4 0h1.1m10.4 0h1.1M23.3 -53.2h4.2m4.1 0h1.1m61.2 0h1M21.1 -54.2h1.1M-1.5 -55.1h1m17.4 0h1m1 0h1.1m72.6 0h1.1m8.1 0h1.1M.5 -56.1h1m2.1 0h1m3 0h2.1M-2.5 -57.1h1m1 0h1m9.1 0h1M-56.6 -58.1h1m48.1 0h1m12 0h3m55.1 0h1M82.9 -59h1m11 0h1M31.8 -60.9h.9m47 0h.9M-4.4 -61.9h1m25.2 0h1.9m9.7 0h1M25.5 -62.8h.9m1 0h.9m52.9 0h1m17.3 0h.9M9 -63.8h2m2.8 0h1M9.9 -64.7h1m61.3 0h1M22.7 -66.5h.9m12.1 0h.9m8.3 0h1m78.7 0h1M35.3 -67.4h1m88.1 0h.9M59.3 -73.6h.9M59 -78.5h.8"/>
<path class="r" stroke="#FDB913" d="M-57.1 59h1M-62.8 53.2h1.1M-62.9 50.2h1.1M-64.3 49.2h1.1M-61.8 47.2h1.1M-63.9 44.2h1.1M-65.3 43.2h1.1M-57.5 39.1h1.1m4.5 0h1.1M-52.1 38.1h1.1M-63.6 37.1h1.1m170 0h1.1M-65.4 34.1h1.1M-50.8 33h1.2m3.4 0h1.1m159.8 0h2.3M-62.4 32h1.2m10.3 0h1.1M-53.4 31h1.2M-48.9 30h1.1M-52.6 28h2.3M107.2 26.9h1.2M-57.6 24.9h1.2m77.9 0h1.2M-45.1 20.8h1.2M19.4 19.8h1.1M-37 18.8h1.2M-38.2 17.8h1.1M-66.7 15.8h1.2M-39.6 14.7h1.2M-36.1 13.7h1.2m59.1 0h1.2m110 0h1.2M-40.9 10.7h2.4M-70.6 8.6h1.1m28.5 0h1.2m53.5 0h1.1M-73.1 7.6h1.2m30.9 0h1.2m4.8 0h1.1M-67.2 6.6h1.2m13.1 0h1.2m83.2 0h1.2m67.7 0h1.2M-74.3 5.6h1.2M-63.6 4.6h1.1m11.9 0h1.2m163 0h1.2M-61.3 3.6h1.2m1.2 0h1.2m2.4 0h1.2m166.6 0h1.2m1.1 0h1.2M20.8 2.5h1.2m91.7 0h1.2m1.2 0h1.2M-78 1.5h1.2m2.4 0h1.2m16.6 0h2.4M-64.9 .5h1.2m4.8 0h1.1m165.6 0h1.2m2.3 0h1.2M24.4 -.5h1.2m2.4 0h1.2m76.2 0h1.2m4.7 0h1.2m1.2 0h1.2M-75.6 -2.5h1.2m23.8 0h1.2M110.1 -3.6h1.2M22 -4.6h1.2M-64.8 -5.6h1.2m61.8 0h2.4m9.5 0h1.2m20.2 0h3.6M.6 -6.6h1.2m8.3 0h1.2m22.6 0h1.2m82 0h3.5M4.2 -7.6h1.1m111.7 0h4.8M-56.4 -8.6h1.2m42.7 0h1.2m28.5 0h1.2m15.4 0h1.2m85.5 0h1.2M-4.2 -9.7h1.2M-3 -10.7h2.4m98.4 0h2.4M36.1 -12.7h1.2M-5.3 -13.7h1.2m1.1 0h1.2m2.4 0h1.2m113.5 0h3.5M-6.5 -14.7h1.2m5.9 0h1.2m13 0h1.1m98.1 0h1.2M-.6 -15.8h3.5M-17.1 -16.8h1.2m10.6 0h2.4m1.1 0h1.2m13 0h1.1M-7.6 -17.8h1.1m22.4 0h1.2m22.3 0h1.2M-97.5 -22.9h2.4M4.1 -23.9h1.1m100.3 0h1.1M96.1 -30h1.1M69.4 -31h1.2m27.5 0h1.2M94.4 -32h1.2m1.1 0h2.3m12.6 0h1.1M93 -33h1.1M6.3 -34.1h1.1m100.1 0h1.1M-87.9 -35.1h1.2m80.5 0h1.1m104.3 0h1.1m8 0h2.2M7.3 -36.1h1.2m84.7 0h1.1m9.1 0h1.1M68.1 -37.1h1.1m22.5 0h2.3m23.6 0h1.1M-100.3 -38.1h1.1m192.8 0h1.1m4.5 0h2.3m1.1 0h1.1m10.1 0h1.1M-97.7 -39.1h1.1m14.5 0h1.1m180.9 0h2.3m1.1 0h4.5m7.8 0h1.1M-86.2 -40.2h1.1m6.7 0h2.2m182.4 0h1.1M22.7 -41.2h1.1m5.5 0h1.2M-94.3 -42.2h1.1m202.9 0h1.1M-97.1 -43.2h1.1M-107.6 -44.2h1.1m132.2 0h2.1M41.8 -45.2h1.1m80.4 0h1.1M-94.6 -46.2h1.1m1.1 0h1.1m91.8 0h1.1m2.2 0h1.1m3.2 0h1.1m50.8 0h1.1M-102.6 -47.2h1m11.9 0h1m1.1 0h1.1m133.3 0h1m57 0h1.1M-103.1 -48.2h2.1m115.4 0h2.2m54.5 0h1M.5 -49.2h1.1m1.1 0h1m28.7 0h1.1m7.4 0h1.1m49.9 0h1.1m15.9 0h1.1M-102 -50.2h1.1m1 0h1.1m4.2 0h2.1m4.3 0h1m93 0h1.1m1 0h1.1m2.1 0h2.1m2.1 0h1.1M-1.6 -51.2h1.1m5.2 0h2.1m42 0h1.1m23.1 0h1.1m35.7 0h1m2.1 0h1.1M-3.7 -52.2h1.1m50.1 0h1m3.2 0h1m19.9 0h2M30.6 -53.2h1m10.4 0h2.1m5.2 0h1m45.7 0h1m10.4 0h1M-86.1 -54.2h1.1m109.2 0h1m7.3 0h1m42.2 0h1.1m10.3 0h1M-3.6 -55.1h2.1m4.1 0h1m20.5 0h1M-1.5 -56.1h2m107.7 0h1m1.1 0h1M.5 -57.1h1m34.3 0h1m5.1 0h1m17.1 0h1m4.1 0h1m5 0h2m41.4 0h1M-55.6 -58.1h1m72.1 0h1m5 0h1m38.1 0h1M34.3 -59h1m57.6 0h1M-85.2 -60h.9m14.8 0h1m85.7 0h1M103.1 -60.9h1M-3.4 -61.9h1m57.2 0h.9m29.1 0h1m5.8 0h1M5.3 -62.8h2.9m5.7 0h1m4.8 0h1.9m7.7 0h1m2.9 0h.9M-110 -63.8h2.8m1 0h.9m110.5 0h1m1.9 0h.9m44.8 0h1m3.8 0h.9m21 0h.9m20 0h1M-107.1 -64.7h.9m118.9 0h1m3.8 0h.9m24.6 0h.9m31.1 0h1M-103.3 -66.5h.9M-88.6 -67.4h1.9m153.2 0h1m38.5 0h.9M68.6 -68.3h.9M-63.7 -70.1h.9m92.6 0h.9M99 -71.9h.9M-97.1 -72.7h.9m31.9 0h.9"/>
<path class="r" stroke="#FA3C05" d="M62.2 -33h1.1M69.2 -37.1h1.1M28.6 -38.1h1.1m1.1 0h1.2m31.3 0h1.2M63.1 -39.1h1.1M32.7 -41.2h1.1M123.4 -43.2h1.1M24.6 -44.2h1.1M-108.1 -45.2h1.1M47 -46.2h1.1m54 0h1.1M-105.3 -48.2h1.1m132.5 0h1.1M-100.9 -50.2h1m172.3 0h1M68.8 -51.2h1.1M29.8 -52.2h1m39.7 0h1M85.6 -53.2h1M81.9 -54.2h1.1M1.5 -55.1h1.1m40.9 0h1m5.1 0h1.1m38.9 0h1M115.5 -57.1h1M18.5 -58.1h1m9 0h1M10.4 -59h1M34 -60h1M32.7 -60.9h1m70.4 0h1M-96.4 -61.9h.9m129.9 0h1m35.8 0h1m32 0h1M80.2 -62.8h1M-107.2 -63.8h1M-114.7 -64.7h.9M-113.5 -66.5h.9m22.2 0h1.9m150.1 0h1M-111.5 -67.4h.9m21.1 0h.9m156.1 0h.9M-87.7 -71h1.7"/>
<path class="r" stroke="#D62B27" d="M-60.9 55.1h1M-62.4 54.2h2.1M-61.7 53.2h1m4.2 0h1M142.1 50.2h1.1M-63.2 49.2h2.1m1.1 0h1m200.9 0h3.2M-64.7 48.2h4.3m203.1 0h1.1m2.1 0h1.1M-62.9 47.2h1.1m205.3 0h5.4M-64.3 46.2h2.2m5.4 0h1m203.2 0h1.1m1.1 0h1.1M-63.6 45.2h1.1m3.3 0h1.1m207.5 0h3.2M-65 44.2h1.1m1.1 0h2.2m1.1 0h1.1m207.4 0h5.5M150.9 43.2h5.5M-53.5 42.2h1.1m205.1 0h3.3M-65.9 41.2h3.3m5.6 0h1.1m2.2 0h1.1M-66.2 40.2h2.3m5.5 0h1.1m2.2 0h1.2M-66.4 39.1h1.1M-57.7 38.1h2.2m2.2 0h1.2m1.1 0h1.1M-54.6 37.1h5.6m184.6 0h1.1M-53.7 36.1h3.4M-55 35.1h4.6M-64.3 34.1h1.2m3.4 0h1.1m4.6 0h5.7M-57.6 33h3.4m1.1 0h2.3m3.4 0h1.2M-60.1 32h1.2m4.5 0h2.3m2.3 0h3.4m169.4 0h2.3M-59.1 31h1.1m1.2 0h3.4m6.9 0h2.3m168.7 0h1.2M-58.1 30h9.2m1.1 0h2.3M-57.1 29h4.6m5.8 0h2.3m60 0h1.1M-50.3 28h4.6m1.2 0h1.1m68.3 0h1.1M-59.7 26.9h1.2m8.1 0h3.5m77.6 0h1.2M-59.8 25.9h7m3.4 0h4.7m2.3 0h1.2M-62.2 24.9h1.1m2.4 0h1.1m1.2 0h8.1m3.5 0h1.2M-57.7 23.9h10.5m4.7 0h1.1M-55.4 22.9h3.5m1.1 0h4.7m70 0h1.2m1.2 0h1.1m1.2 0h1.2M-54.4 21.9h4.7m1.2 0h1.1m2.4 0h2.3M-58 20.8h1.2m1.2 0h1.1m1.2 0h2.4m1.1 0h1.2m4.7 0h2.3m1.2 0h1.2M-58.1 19.8h2.4m2.3 0h3.5m1.2 0h3.5m2.4 0h1.2M-58.2 18.8h3.6m3.5 0h3.5m75.2 0h1.2M-46.5 17.8h1.2m5.9 0h1.2m67 0h1.2M-52.4 16.8h1.2m1.1 0h4.7m71.9 0h1.2M-52.5 15.8h2.4m1.1 0h1.2m74.3 0h2.4M-71.5 14.7h2.4m95.7 0h1.2m3.5 0h2.4m1.1 0h1.2M-53.9 12.7h1.2m68.7 0h1.2m9.4 0h1.2M19.5 11.7h2.4m5.9 0h1.2M-38.5 10.7h2.3m2.4 0h1.2m62.8 0h1.2m81.8 0h1.2M106.2 9.7h2.4m4.7 0h1.2M-75.4 8.6h1.2m5.9 0h1.2m83.1 0h1.2m84.3 0h1.2m2.4 0h3.5M-71.9 7.6h1.2m1.2 0h1.2m32.1 0h1.2m61.7 0h1.2m72.5 0h3.6m2.3 0h2.4M-69.5 6.6h1.2m80.8 0h2.4m1.1 0h1.2m80.9 0h2.3m1.2 0h1.2M-70.8 5.6h1.2m80.9 0h3.6m83.2 0h3.6M97 4.6h1.1m16.7 0h1.2M32.7 3.6h1.2m61.9 0h2.4m7.1 0h2.4M114.9 2.5h1.2M-73.2 1.5h1.2m166.7 0h5.9m4.8 0h3.5m1.2 0h1.2M94.7 .5h4.7M94.7 -.5h4.7m13.1 0h1.2M95.9 -1.5h3.5m3.6 0h1.2m3.6 0h3.5M38.7 -2.5h1.2m52.4 0h5.9m6 0h8.3M13.7 -3.6h1.2m76.1 0h4.8m2.4 0h1.2m7.1 0h3.6m1.2 0h1.2M37.5 -4.6h2.4m52.3 0h1.2m1.2 0h4.7m11.9 0h2.4M-7.7 -5.6h4.7m8.4 0h1.1m23.8 0h1.2m63 0h4.8m13.1 0h2.4m2.3 0h1.2M-11.3 -6.6h8.3m4.8 0h2.4m1.1 0h1.2m28.6 0h1.2m59.4 0h1.2m19 0h1.2M-12.5 -7.6h13.1m2.4 0h1.2m71.2 0h1.2m16.7 0h3.5m14.3 0h1.2m2.3 0h2.4M-79 -8.6h2.4m11.9 0h2.4m4.7 0h1.2m45.1 0h2.4m1.2 0h2.4m1.1 0h6m1.2 0h2.3m1.2 0h3.6m3.6 0h1.1m3.6 0h2.4m3.5 0h1.2m7.2 0h1.1m39.2 0h1.2m19 0h2.4m3.5 0h1.2m9.5 0h1.2m4.8 0h4.7M-80.1 -9.7h3.6m62.9 0h2.3m3.6 0h3.5m1.2 0h1.2m1.2 0h8.3m5.9 0h3.6m1.2 0h3.6m1.1 0h9.5m1.2 0h2.4m35.6 0h3.5m17.8 0h2.4m3.6 0h2.3m8.4 0h1.1m1.2 0h1.2m2.4 0h3.5M-82.4 -10.7h4.7m64.1 0h5.9m7.1 0h7.1m3.6 0h14.2m2.4 0h7.1m1.2 0h3.5m33.2 0h2.4m19 0h2.3m4.8 0h1.2m10.6 0h3.6m1.2 0h3.5M-82.3 -11.7h2.3m67.6 0h28.4m1.2 0h18.9m3.6 0h1.2m30.8 0h3.5m17.8 0h2.4m17.7 0h6M-82.3 -12.7h3.6m65.1 0h9.5m1.1 0h4.8m2.3 0h10.7m1.2 0h20.1m34.3 0h4.8m17.7 0h4.7m1.2 0h4.8m8.2 0h7.1M-84.5 -13.7h4.7m63.8 0h2.4m1.2 0h7.1m1.2 0h1.1m2.4 0h1.2m2.4 0h33.1m34.3 0h5.9m16.5 0h3.6m1.1 0h6M-86.8 -14.7h8.3m62.6 0h9.4m2.4 0h2.3m1.2 0h1.2m1.2 0h13m1.1 0h6m1.1 0h1.2m3.6 0h7m9.5 0h1.2m24.8 0h5.9m16.5 0h4.7m1.2 0h3.6m10.6 0h1.2m1.2 0h2.3M-86.7 -15.8h5.9m63.7 0h1.2m1.2 0h3.5m2.4 0h1.1m4.8 0h2.3m3.5 0h2.4m2.4 0h1.1m4.8 0h1.1m3.6 0h3.5m2.4 0h1.2m1.1 0h2.4m1.2 0h1.2m8.2 0h1.2m28.3 0h5.9m17.7 0h5.9m16.5 0h1.2M-92.5 -16.8h1.2m1.2 0h3.5m1.2 0h3.5m84.8 0h2.4m63.6 0h8.3m14.1 0h10.6m10.6 0h3.5M-94.7 -17.8h11.8m67 0h2.4m57.6 0h1.2m1.2 0h1.1m21.2 0h9.4m10.6 0h5.9m1.2 0h5.9M-96.9 -18.8h14.1m151.5 0h9.4m11.8 0h11.7m12.9 0h1.2M-97.9 -19.8h7m158.3 0h12.9m10.6 0h2.4m2.3 0h4.7m1.2 0h2.3M-99 -20.8h1.2m1.2 0h8.2m155.7 0h12.9m10.6 0h1.1m1.2 0h3.5m2.4 0h1.1m1.2 0h3.5m8.2 0h2.4M-98.8 -21.9h3.5m1.2 0h2.3m1.2 0h1.2m3.5 0h1.1m90.1 0h1.1m1.2 0h1.2m8.2 0h2.3m47.9 0h8.2m1.2 0h4.7m7 0h7m1.2 0h3.5M-98.6 -22.9h1.1m2.4 0h2.3m1.2 0h1.1m108.6 0h1.2m45.5 0h17.5m3.5 0h1.2m1.1 0h1.2m1.2 0h8.1m3.5 0h2.4M-99.6 -23.9h5.8m1.2 0h1.1m16.3 0h1.2m64.1 0h1.2m11.6 0h1.2m12.8 0h2.3m44.3 0h18.7m1.1 0h2.4m3.5 0h1.1m1.2 0h8.1m4.7 0h1.2m1.1 0h1.2m3.5 0h1.2M-99.5 -24.9h4.7m123.3 0h1.2m9.3 0h1.1m24.5 0h24.4m1.2 0h10.4m2.4 0h3.4M-102.8 -25.9h1.2m1.2 0h6.9m1.2 0h1.1m120.8 0h1.2m32.5 0h24.4m1.1 0h10.5m2.3 0h1.2m1.1 0h4.7m2.3 0h2.3M-99.1 -26.9h1.2m1.1 0h3.5m156.5 0h30.1m1.1 0h7m1.2 0h4.6m1.2 0h1.1m3.5 0h1.1M-100 -28h1.1m1.2 0h1.1m20.9 0h1.1m64.8 0h1.1m25.5 0h2.3m43.9 0h25.5m1.1 0h5.8m3.5 0h6.9M-100.9 -29h3.4m20.8 0h2.3m92.3 0h2.3m43.8 0h18.5m1.1 0h11.6m1.1 0h1.2m4.6 0h9.2M63.9 -30h16.1m1.1 0h1.2m1.1 0h3.5m4.6 0h1.1m12.7 0h5.8M-99.3 -31h1.2m134.3 0h2.2m24.2 0h2.2m1.2 0h3.4m1.2 0h3.4m1.2 0h1.1m2.3 0h1.2m14.9 0h1.1m1.2 0h1.1m1.2 0h2.3m2.3 0h6.9M-77.3 -32h1.2m77.8 0h3.5m3.4 0h1.1m6.9 0h1.1m50.4 0h2.3m1.1 0h2.3m16 0h1.2m9.1 0h6.9m1.2 0h2.2M18.8 -33h1.2m41 0h1.2m4.5 0h1.2m1.1 0h2.3m1.2 0h2.2m16 0h2.3m2.3 0h1.1m3.4 0h8M-.6 -34.1h1.2m10.2 0h2.3m15.9 0h1.1m6.9 0h1.1m23.9 0h1.1m1.2 0h1.1m5.7 0h1.1m19.4 0h1.1m2.3 0h12.5m2.3 0h2.2M-1.7 -35.1h1.1m51 0h1.2m11.3 0h2.3m2.2 0h1.2m18.1 0h2.3m1.1 0h1.2m1.1 0h1.1m1.2 0h3.4m2.2 0h6.8m13.6 0h1.2M49.1 -36.1h1.2m13.5 0h5.7m20.3 0h3.4m2.2 0h8m4.5 0h1.1m7.9 0h1.1M90.6 -37.1h1.1m4.5 0h2.3m2.2 0h2.3m10.1 0h1.1M-101.5 -38.1h1.2m1.1 0h1.1m2.2 0h1.2m90.8 0h1.1m32.5 0h1.1m61.7 0h1.1m4.5 0h1.1m15.7 0h1.1m10.1 0h1.2M-101.1 -39.1h3.4m13.4 0h2.2m4.5 0h1.1m148.5 0h1.1m20.1 0h1.2m1.1 0h1.1m5.6 0h1.1M-100.7 -40.2h1.2m14.4 0h3.4m8.9 0h2.2m113.4 0h1.1m3.4 0h2.2m43.4 0h3.3m1.1 0h2.2m2.3 0h2.2m1.1 0h1.1M-100.2 -41.2h2.2m12.2 0h2.2m13.3 0h1.1m96.3 0h1.1m3.4 0h1.1m5.5 0h1.1m1.1 0h1.1m5.6 0h2.2m42.1 0h5.5m1.1 0h1.1m5.6 0h1.1M-102 -42.2h3.3m3.3 0h1.1m198.5 0h4.4M-101.5 -43.2h4.4m120.7 0h1.1m71.3 0h1.1m6.6 0h9.9m8.7 0h1.1M-106.5 -44.2h1.1m3.3 0h1.1m2.2 0h1.1m125.5 0h1.1m79.7 0h2.2m1.1 0h1.1M-102.7 -45.2h1.1m25 0h1.1m91.3 0h1m41.3 0h1.1m48.9 0h1.1m3.2 0h1.1M-102.1 -46.2h1.1m1 0h1.1m135.1 0h1.1m20.5 0h2.2M43.5 -47.2h2.2m9.7 0h1m50.5 0h1.1m5.4 0h3.2M-101 -48.2h2.1m22.5 0h4.3m102.6 0h1m17.1 0h3.2m11.8 0h1.1m34.2 0h1m22.5 0h1.1M3.7 -49.2h1.1m22.3 0h1.1m7.4 0h1.1m10.6 0h5.3m33 0h1m12.8 0h1m3.2 0h5.3m6.4 0h2.1m3.2 0h1.1M-84 -50.2h1.1m82.4 0h2.1m39.1 0h1m5.3 0h3.2m14.8 0h1m7.4 0h1.1m2.1 0h1.1m12.6 0h1.1m10.6 0h1m1.1 0h6.3M-104.5 -51.2h1m6.3 0h1.1m1 0h2.1m92.5 0h3.1m4.2 0h1.1m17.8 0h1.1m35.7 0h1.1m2.1 0h3.1m6.3 0h1.1m10.5 0h1m28.4 0h2.1M-95.5 -52.2h1m30.3 0h1m65.8 0h1.1m1 0h1m7.4 0h1m12.5 0h2.1m8.4 0h1m19.8 0h1.1m44.9 0h4.2m5.2 0h1m1.1 0h2.1M-100.1 -53.2h2.1m4.1 0h2.1m3.1 0h4.2m2 0h1.1m79.8 0h6.3m1 0h3.1m24.9 0h1.1m3.1 0h2m32.2 0h1m6.3 0h1m22.8 0h4.2m1 0h1m1.1 0h4.1m1.1 0h1M-83 -54.2h1.1m3.1 0h1m13.4 0h1m12.4 0h3.1m2 0h1.1m71.1 0h1m1 0h1.1m4.1 0h1m6.2 0h5.2m19.5 0h2.1m10.3 0h2.1m26.8 0h1m2.1 0h2m1 0h1.1m1 0h2.1M-66 -55.1h1m12.3 0h1m52.2 0h1m26.6 0h1.1m12.3 0h1m44 0h2m19.5 0h1m5.1 0h3.1M-50.3 -56.1h1m64 0h2.1m2 0h1m6.1 0h1m76.2 0h1.1m1 0h1m7.1 0h3.1M-76.2 -57.1h2.1m1 0h1m1 0h1m1 0h1m74.7 0h3m25.2 0h1m3 0h1m8.1 0h1m60.6 0h2m1 0h2M-70.6 -58.1h2m15 0h1m63.1 0h1m16 0h1m1 0h1m6 0h1m6.1 0h2m1 0h1m6 0h1m14 0h2m8 0h1m1 0h3m1 0h1m2 0h2m15 0h3M-83.9 -59h1m10.9 0h1m22.8 0h2m62.6 0h1m29.8 0h1m42.7 0h1m10.9 0h1M-125.6 -60h.9m41.4 0h1m1 0h3.9m4 0h2.9m2 0h1m77.8 0h1m23.7 0h2m32.5 0h1.9M-125.6 -60.9h1m22.5 0h.9m16.7 0h6.8m23.5 0h.9m1 0h1m62.5 0h1m21.5 0h3.9m15.7 0h.9m30.3 0h1M-102.3 -61.9h2m8.7 0h1m10.6 0h1m26.2 0h.9m2 0h1.9m59.1 0h2m33.9 0h1m15.5 0h1m35.8 0h1m3.9 0h.9M-107.1 -62.8h.9m8.7 0h.9m7.7 0h1.9m5.8 0h1m1.9 0h.9m89.4 0h1m36.5 0h1.9m10.6 0h.9m2 0h.9m1 0h.9m16.4 0h1.9m5.8 0h.9m2.9 0h1m14.4 0h.9M-113.8 -63.8h.9m13.4 0h.9m11.4 0h1.9m3.9 0h.9m3.8 0h1m24.7 0h1m104.8 0h.9m5.7 0h1m.9 0h1.9m16.2 0h1m9.5 0h1m11.4 0h1m3.8 0h1.9M-113.8 -64.7h1m17.9 0h7.6m8.5 0h.9m96.3 0h1m38.7 0h.9m4.7 0h1m2.8 0h.9m1 0h.9m18.9 0h1M-96.8 -65.6h.9m1 0h.9m3.7 0h1m1.8 0h3.8m4.7 0h1.8m93.6 0h1.8m25.3 0h1.9m.9 0h.9m2.8 0h1m2.8 0h.9m1.9 0h.9m3.8 0h.9m22.5 0h.9m3.7 0h1m14 0h.9M-88.5 -66.5h.9m2.8 0h1.9m7.4 0h1.8m4.7 0h1.8m115.9 0h.9m.9 0h.9m2.8 0h.9m2.8 0h3.7m1 0h1.8M-121.6 -67.4h.9m3.7 0h.9m5.5 0h1.8m143.2 0h.9m4.6 0h14.7m.9 0h1m.9 0h6.4m33 0h1M-126.8 -68.3h.9m10 0h.9m10.9 0h.9m6.4 0h.9m6.4 0h.9m127.2 0h12.8m7.2 0h2.8m1.8 0h1.8m10.9 0h.9M-107.6 -69.2h2.7m10.8 0h1.8m3.6 0h.9m.9 0h.9m124.3 0h6.3m.9 0h7.2m.9 0h.9m8.1 0h.9M-106.5 -70.1h4.5m8.9 0h2.7m121.1 0h.9m9.8 0h.9m4.5 0h1.8m2.6 0h.9m13.4 0h.9M-116 -71h1.8m.9 0h.9m21.1 0h1.8m120.8 0h.9m8.8 0h2.7m1.7 0h2.7m7 0h1.8m1.7 0h.9m5.3 0h.9M-115.6 -71.9h.9m.8 0h.9m14.8 0h.9m.9 0h.9m138.7 0h.9m5.2 0h1.7m2.7 0h.8m7.9 0h1.7M-95.4 -72.7h.9M45.7 -73.6h.8"/>
<use href="#coast"/>
</g>
<use href="#fr" fill="none" stroke="#000" stroke-width="0.6"/>
</g>
<g transform="translate(175 497.5)">
<g clip-path="url(#cp)">
<use href="#land" fill="#FFF79C"/>
<path class="r" stroke="#3F0BF2" d="M-64.6 45.2h1M-65 44.2h1.1M-65.3 39.1h2.2M-64.5 38.1h1.2M-64.7 37.1h1.1M-63.8 36.1h1.1M114.6 -7.6h1.2M73 -9.7h1.2M100.2 -10.7h1.2m9.5 0h1.1m3.6 0h2.4M72.9 -11.7h3.5m17.8 0h1.2m1.1 0h4.8m13 0h4.8M-82.3 -12.7h1.2m84.1 0h7.1m13 0h1.2m48.5 0h3.5m19 0h1.2m1.1 0h3.6m15.4 0h1.2m1.1 0h1.2M4.1 -13.7h3.6m1.2 0h1.2m85.1 0h1.2m2.3 0h1.2M-7.7 -14.7h1.2m10.6 0h8.3m1.2 0h2.3m79.2 0h1.2m1.1 0h1.2M-85.5 -15.8h1.2m90.8 0h1.2m1.1 0h4.8m1.1 0h1.2M-91.3 -16.8h3.5m3.6 0h3.5m153.2 0h1.1m1.2 0h2.4m35.3 0h3.5M-91.2 -17.8h1.2m1.2 0h8.2m150.6 0h1.2m1.2 0h5.8m34.2 0h1.1m1.2 0h1.2M-91 -18.8h2.3m1.2 0h5.9m151.5 0h3.5m2.4 0h1.1m36.5 0h2.3M69.8 -19.8h1.2m1.1 0h1.2m21.1 0h3.5M67.3 -20.8h4.7m22.3 0h1.1M-90.6 -21.9h1.2m164.8 0h1.2M-84.6 -22.9h1.1m158.8 0h2.3M65.8 -23.9h12.9m22.1 0h1.2M66.9 -24.9h11.6m1.2 0h1.2m1.1 0h1.2M-99.3 -25.9h1.2m164.9 0h16.2M67.8 -26.9h1.2m1.1 0h12.8M68.8 -28h12.7M71 -29h5.7m1.2 0h2.3M70.8 -30h2.3M68.3 -31h1.1M44.3 -63.8h.9M42.7 -67.4h.9m9.2 0h.9M44.1 -68.3h.9M43.7 -69.2h1.8m.9 0h.9M43.2 -70.1h1.8m2.7 0h1.8M41 -71h4.4m.9 0h4.4M42.3 -71.9h2.6m2.7 0h.8M54 -72.7h.8"/>
<path class="r" stroke="#1A28EA" d="M147.8 47.2h1.1M146.4 46.2h4.4M-64.2 43.2h1.1m215.1 0h1.1m1.1 0h1.1M-65.6 42.2h2.2m1.1 0h1.1m213.9 0h1.1M-65.9 41.2h3.3m218.2 0h1.1M-66.2 40.2h3.4m217.9 0h1.2M-66.1 36.1h2.3M-65.2 35.1h2.3M-64.3 34.1h1.2M117.1 -5.6h1.2M115.9 -6.6h2.4M117 -7.6h1.2M-81.2 -10.7h1.2m152.9 0h2.4m22.5 0h2.4m17.8 0h1.2M-81.1 -11.7h2.3m86.5 0h1.2m13 0h2.4m47.4 0h1.2M-81.1 -12.7h2.4m99.4 0h2.4m2.3 0h1.2m87.6 0h2.4M-83.4 -13.7h1.2m92.3 0h2.3m59.1 0h4.8m40.2 0h1.1M-86.8 -14.7h4.7m76.8 0h1.2m20 0h2.4m54.3 0h2.4m21.3 0h1.1m3.6 0h1.2M-84.3 -15.8h2.3m2.4 0h1.2m71.9 0h2.4m9.4 0h1.2m63.7 0h1.2m2.3 0h2.4m24.8 0h1.1M5.3 -16.8h1.2m64.8 0h1.2m1.1 0h1.2M113.5 -17.8h1.2M-96.9 -18.8h1.2m1.1 0h1.2m1.2 0h1.2m2.3 0h1.2m160.9 0h2.4m1.1 0h1.2m10.6 0h1.2m1.1 0h3.6M-86.2 -19.8h1.2m1.1 0h2.4m154.8 0h2.4m1.1 0h2.4m18.7 0h1.2M72 -20.8h4.7m1.2 0h1.2m8.1 0h1.2m8.2 0h1.2M67.2 -21.9h3.5m2.4 0h2.3m1.2 0h3.5m14 0h2.4M-83.5 -22.9h2.4m147.1 0h1.1m1.2 0h1.2m1.1 0h1.2m1.2 0h2.3m2.3 0h1.2m7 0h2.3M-99.6 -23.9h1.1m177.2 0h2.3m1.2 0h1.1m4.7 0h1.2M-99.5 -24.9h2.4m175.6 0h1.2m4.6 0h1.2M-98.1 -25.9h2.3m161.4 0h1.2M65.5 -26.9h1.1m2.4 0h1.1M66.5 -28h2.3M66.3 -29h4.7M68.5 -30h2.3M67.1 -31h1.2m1.1 0h1.2m4.6 0h2.3M65.8 -32h1.2M114 -51.2h1M111.1 -55.1h1M-94.9 -65.6h.9m.9 0h1M46.8 -66.5h.9M44.5 -67.4h.9m12 0h.9M-97.7 -68.3h1.8m137.3 0h2.7m12.7 0h.9M-95 -69.2h.9m136.9 0h.9m5.4 0h1.8m8.1 0h.9M41.4 -70.1h1.8m1.8 0h.9m3.6 0h2.6m7.2 0h.8m.9 0h2.7M40.1 -71h.9M41.4 -71.9h.9m4.4 0h.9m.8 0h1.8m7.8 0h.9M41.9 -72.7h1.7"/>
<path class="r" stroke="#3A6FE2" d="M142.7 48.2h1.1m2.1 0h1.1M148.3 45.2h4.3M149 44.2h3.3m1.1 0h1.1M155.8 39.1h1.1M-52.8 25.9h1.1m1.2 0h1.1M-52.9 24.9h1.1M-53 23.9h1.1M-49.6 22.9h2.3m1.2 0h1.2M-52 21.9h2.3M-52.1 20.8h2.3M-47.6 18.8h1.2M106.2 9.7h1.2M109.8 8.6h1.2M102.8 7.6h1.2m3.5 0h1.2M99.3 6.6h1.1M99.3 4.6h2.4M95.8 3.6h1.2m7.1 0h1.2M97 2.5h2.4m1.2 0h1.2M97 1.5h3.6M103 -1.5h1.2M95.8 -2.5h3.6M92.2 -3.6h6M92.2 -4.6h2.4m1.2 0h3.5M-8.9 -5.6h2.4M-11.3 -6.6h4.8m1.2 0h1.1m99.9 0h1.2M-58.8 -7.6h1.2m46.3 0h7.1M-68.3 -8.6h1.2m57 0h1.2M-67 -9.7h1.1m159 0h1.2M-68.2 -10.7h2.4m52.2 0h1.2m2.3 0h2.4M-64.6 -11.7h1.2m48.6 0h7.1m2.4 0h2.3m15.4 0h1.2M-1.8 -12.7h1.2m11.8 0h3.6m2.4 0h1.1m11.9 0h1.2m1.1 0h1.2M-82.2 -13.7h1.2m1.2 0h1.2m65 0h1.2m4.7 0h1.2m4.7 0h3.6m13 0h1.2m13 0h4.7M-8.9 -14.7h1.2m7.1 0h1.2m29.5 0h1.2m40.2 0h1.1m2.4 0h1.2M-1.8 -15.8h5.9m67.3 0h2.3m20.1 0h2.3M24.2 -16.8h1.1m68.4 0h1.1m1.2 0h5.9M90 -17.8h1.2m2.3 0h8.3M-93.4 -18.8h1.2m170.3 0h1.2m15.3 0h7M-90.9 -19.8h1.2m4.7 0h1.1m159.6 0h1.1m10.6 0h2.3m9.4 0h1.2m1.2 0h1.1M76.7 -20.8h1.2m10.5 0h3.5m5.9 0h2.3M-85.9 -21.9h2.3m154.3 0h2.4m16.3 0h2.4m4.7 0h3.5M69.5 -22.9h1.1m1.2 0h1.2m5.8 0h2.3m12.9 0h1.1m1.2 0h1.2M81 -23.9h1.2m9.3 0h1.1m1.2 0h1.2M-97.1 -24.9h2.3m182.6 0h1.2M-95.8 -25.9h1.2m179.9 0h2.4M66.6 -26.9h1.2M65.3 -28h1.2M65 -30h3.5m29.9 0h2.3m1.1 0h1.2M95.8 -31h3.5M93.3 -32h3.4M93.2 -36.1h1.1M94.4 -39.1h1.1m11.1 0h1.2M96.2 -40.2h4.5M94.7 -41.2h2.2m2.2 0h2.2M-7.6 -56.1h1M-4.5 -57.1h3M41.2 -59h1M73.8 -60.9h1M105.2 -61.9h1.9M55.7 -63.8h1m25.7 0h.9m8.6 0h1M92.1 -65.6h1M-95 -66.5h1.9M-95.9 -67.4h.9m.9 0h1.9m139.5 0h1.8M-95.9 -68.3h1.8m.9 0h.9M39.2 -69.2h3.6m9 0h.9M37.9 -70.1h3.5M37.5 -71h2.6M38 -71.9h1.7m10.5 0h.8M48.8 -72.7h1.7M62.7 -73.6h.9"/>
<path class="r" stroke="#1E8EF5" d="M143.2 50.2h1M141.9 49.2h4.2M146.7 47.2h1.1M152.3 44.2h1.1M150.9 43.2h1.1M153.8 42.2h1.1M-50.8 33h3.4M-49.8 32h1.2M-53.4 31h5.8M-51.2 30h2.3M-48 28h1.2M-53.9 26.9h2.3m4.7 0h1.1M-51.7 25.9h1.2m1.1 0h2.4M-54.1 24.9h1.2m1.1 0h1.2m1.2 0h1.1m1.2 0h1.1M-49.5 23.9h1.1m3.5 0h1.2M-51.9 22.9h1.1m3.5 0h1.2M-55.5 21.9h1.1m1.2 0h1.2M-48.6 20.8h1.2M-53.4 19.8h1.2m3.5 0h1.2M-53.5 18.8h1.2m1.2 0h1.2M-47.6 17.8h1.1M-56.2 12.7h1.2M100.3 8.6h2.4M99.2 7.6h2.4m2.4 0h1.1M100.4 6.6h2.4m1.2 0h2.4M96.9 5.6h1.2m2.4 0h1.2M108.9 4.6h2.3M97 3.6h1.2m7.1 0h1.2m1.2 0h3.6M95.8 2.5h1.2M94.7 1.5h2.3M42.2 -3.6h1.2M94.6 -4.6h1.2M-11.3 -8.6h1.2m1.2 0h1.2M-8.9 -9.7h3.6m2.3 0h1.2M-7.7 -10.7h2.4M-7.7 -11.7h2.4m26 0h1.2M-13.6 -12.7h1.2m1.2 0h2.3m1.2 0h3.6m3.5 0h1.2m17.7 0h1.2m7.1 0h1.2m1.2 0h1.2m3.5 0h1.2M-81 -13.7h1.2m67.4 0h2.3m23.7 0h1.2m1.2 0h3.5m1.2 0h1.2m3.5 0h2.4m15.4 0h1.1M-80.9 -14.7h1.2m66.1 0h3.6m7 0h2.4m1.2 0h1.2m17.7 0h1.2m1.2 0h1.1m1.2 0h2.4M-13.6 -15.8h1.2m1.2 0h3.5m11.8 0h1.2m16.5 0h1.2M-13.5 -16.8h2.3M88.8 -17.8h1.2M-97.9 -19.8h1.1m4.7 0h1.2m1.2 0h3.5m175.9 0h1.2m1.2 0h1.2M-97.8 -20.8h1.2m4.7 0h3.5m2.3 0h2.4M88.3 -21.9h1.1M-98.6 -22.9h1.1m185.6 0h1.2M-93.8 -23.9h1.2M-76.3 -31h2.3M-87.3 -33h2.3m179.1 0h1.2m8 0h1.1M-87 -34.1h1.1m180.9 0h1.1m2.3 0h1.1m2.3 0h1.1m4.6 0h1.1M94.7 -35.1h4.5m6.8 0h1.1M-84.2 -36.1h1.2M-89.5 -37.1h1.2m4.5 0h1.1M-74.3 -39.1h2.3M-90.6 -40.2h1.1m15.5 0h1.2M-90.3 -41.2h3.4m191.6 0h1.1M2.8 -42.2h1.1M18.1 -43.2h1.1M-80.9 -45.2h1.1m2.1 0h1.1m2.2 0h1.1m70.6 0h1.1M-78.3 -46.2h2.1m90.8 0h1.1M-77.9 -47.2h1.1m15 0h2.1m76.4 0h1m10.8 0h1.1M16.6 -48.2h1M14.3 -49.2h4.3m2.1 0h1.1M15.3 -50.2h2.1M7.9 -51.2h1m2.1 0h2.1M23.2 -54.2h1M5.6 -56.1h1m10.2 0h1M5.5 -57.1h1.1m6 0h1M13.5 -58.1h1M24.7 -61.9h2M24.5 -62.8h1M13.8 -63.8h1"/>
<path class="r" stroke="#0FB4F5" d="M-48.6 32h1.1M-54 25.9h1.2M-49.7 21.9h2.3M-49.8 20.8h1.2m1.2 0h1.1M-75.4 -30h1.2M-77.3 -32h1.2m1.1 0h1.2M-77 -33h1.1M57.9 -66.5h.9M56.5 -67.4h.9"/>
<path class="r" stroke="#5CBCEE" d="M-53.1 33h1.2M-53.2 32h3.4M-47.6 31h1.1M-53.5 30h2.3m2.3 0h4.6M-53.6 29h9.2M-56.1 28h1.2m1.1 0h1.2m2.3 0h1.2M-55 26.9h1.1M-45.9 25.9h1.2M-50.6 24.9h1.2m1.1 0h1.2m1.1 0h2.4M-56.5 23.9h3.5m1.1 0h2.4m1.1 0h3.5M-55.4 22.9h2.3M-54.5 20.8h1.2M-58.2 17.8h1.1M-55 12.7h1.1M102.7 8.6h5.9M98.1 6.6h1.2M98.1 5.6h2.4M98.1 4.6h1.2M98.2 3.6h3.6M99.4 2.5h1.2M97.1 .5h1.1m4.8 0h1.2M31.6 -.5h1.1m60.8 0h1.2M95.9 -1.5h1.1M36.3 -2.5h1.2m54.8 0h3.5M32.7 -3.6h1.2m64.3 0h1.2M-7.7 -4.6h1.2m97.5 0h1.2M91 -5.6h2.4m1.1 0h1.2M90.9 -6.6h1.2m4.8 0h1.2M-65.9 -8.6h4.8M-65.9 -9.7h1.2m59.4 0h2.3M8.9 -11.7h3.5m22.5 0h1.2M-65.7 -12.7h1.2m49.7 0h1.2m1.2 0h1.2m2.3 0h1.2m3.6 0h2.3m2.4 0h2.4m16.5 0h1.2m3.6 0h1.1M-10.1 -13.7h1.2m2.4 0h1.2m7.1 0h2.3m8.3 0h1.2m5.9 0h1.2m1.2 0h3.5m13 0h1.2M-10 -14.7h1.1m11.9 0h1.1m14.2 0h1.2M-7.7 -15.8h1.2m27.1 0h1.2M-7.7 -16.8h1.2m8.3 0h1.1m11.8 0h1.2M-76.1 -32h1.1M-83.9 -33h1.2m3.4 0h1.1m173.5 0h3.4M-83.6 -34.1h1.1M93.5 -35.1h1.2M-70.6 -36.1h1.1m164.9 0h2.3M-69.2 -37.1h1.1M103.7 -38.1h1.1m1.2 0h1.1M-89.5 -40.2h1.1m13.3 0h1.1m169.1 0h1.1m4.5 0h2.2M-81.4 -41.2h2.2m77.5 0h1.1m103 0h1.1M-74.4 -42.2h1.1m71.6 0h1.1m2.3 0h1.1m15.4 0h1.1M-88.3 -43.2h1.1m7.6 0h1.1m11 0h1.1m63.7 0h2.2m2.1 0h2.2m28.6 0h1.1m62.5 0h1.1M-79.2 -44.2h1.1m12 0h3.3m60.1 0h1.1m26.2 0h1.1m3.2 0h1.1M-79.8 -45.2h2.1m84.8 0h1m19.6 0h1.1M-81.6 -46.2h3.3m87.5 0h1.1M-79 -47.2h1.1m79.5 0h1.1m5.4 0h1m1.1 0h1.1M1.6 -48.2h1.1M18.6 -49.2h2.1M12.2 -50.2h1m1.1 0h1m2.1 0h2.1m1.1 0h2.1m5.3 0h1.1M20.5 -51.2h1M1.6 -52.2h2.1m2 0h2.1m2.1 0h5.2m4.2 0h1.1m3.1 0h1M-1.6 -53.2h4.2m1 0h1.1m1 0h1m4.2 0h2.1m7.2 0h1.1m7.2 0h1.1M-.5 -54.2h2m10.4 0h1M-1.5 -55.1h3m1.1 0h1m1 0h3.1m20.4 0h1.1M-2.5 -56.1h4m3.1 0h1m2 0h1m7.2 0h1M-1.5 -57.1h3m22.2 0h1m5.1 0h1m1 0h1m24.2 0h1M-4.5 -58.1h1m1 0h1m1 0h1m29 0h1M33.3 -59h1M72.4 -60h2M16.1 -60.9h1M55.7 -61.9h2M7.2 -62.8h1M92.9 -63.8h.9M-1.4 -64.7h.9m47.2 0h1m17.9 0h1M-6.1 -65.6h1M47.7 -66.5h1m14.8 0h.9M17 -67.4h.9M58.6 -68.3h3.7m.9 0h.9M58.1 -69.2h.9m.9 0h2.7M58.4 -70.1h.9m.8 0h.9M58.9 -71.9h.9"/>
<path class="r" stroke="#B4DCF5" d="M-56.9 52.2h1M-57.6 50.2h1.1M-57.9 49.2h2.1M-57.2 48.2h2.2M-57.5 47.2h2.1M-57.8 46.2h3.2M-59.2 45.2h4.3M-60.6 44.2h6.5M-59.8 43.2h4.4M-59 42.2h3.3M-58.1 41.2h6.6m180.5 0h1.1M-61.7 40.2h1.1m2.2 0h5.6m180.1 0h3.4m1.1 0h2.2M-60.9 39.1h9m175.3 0h1.1m1.1 0h1.2m1.1 0h6.7M-62.2 38.1h1.1m1.1 0h7.9m158.1 0h1.1m14.5 0h5.7m2.2 0h6.7M-59.1 37.1h7.9m154.2 0h1.1m1.1 0h3.4m1.1 0h2.3m10.1 0h11.3m2.2 0h1.1M-60.4 36.1h10.1m74.6 0h1.1m80.2 0h3.4m1.1 0h2.3m9 0h1.2m1.1 0h2.2m2.3 0h1.1m6.8 0h1.1M-59.5 35.1h9.1m72.5 0h1.1m1.2 0h2.2m79.4 0h6.8m1.1 0h3.4m4.6 0h3.4m4.5 0h2.3m3.4 0h3.4M-60.8 34.1h10.2m76.2 0h1.1m77.4 0h3.4m1.1 0h3.4m4.6 0h5.7m7.9 0h4.6m2.3 0h1.1M-59.9 33h5.7m2.3 0h1.1m4.6 0h1.1m63.9 0h2.3m4.6 0h2.3m79.8 0h5.7m3.5 0h1.1m1.1 0h2.3m10.3 0h3.4m1.2 0h4.5M-62.4 32h1.2m1.1 0h6.9m5.7 0h3.4m68.7 0h1.2m1.1 0h2.3m82.4 0h9.1m6.9 0h2.3m2.3 0h2.3m1.1 0h4.6M-66 31h12.6m6.9 0h1.2m68.8 0h1.2m1.1 0h4.6m75.8 0h2.3m3.4 0h1.2m1.1 0h5.7m8.1 0h3.4m1.2 0h1.1m1.2 0h2.3m2.2 0h2.3M-61.6 30h8.1m75.9 0h1.2m1.1 0h4.6m77.1 0h2.4m1.1 0h2.3m3.5 0h4.6m9.2 0h4.6m1.1 0h5.8M-60.6 29h7m76.1 0h1.2m2.3 0h4.6m73.8 0h2.3m2.3 0h1.2m1.1 0h1.2m5.8 0h1.1m2.3 0h1.2m10.4 0h9.2M-60.7 28h3.5m2.3 0h1.1m1.2 0h2.3m1.2 0h1.1m1.2 0h2.3m60.1 0h1.2m5.7 0h8.1m10.5 0h1.1m71.7 0h1.2m3.4 0h1.2m17.3 0h2.3M-60.8 26.9h5.8m3.4 0h4.7m1.1 0h2.3m56.8 0h1.2m1.1 0h1.2m7 0h9.2m7 0h3.5m63.7 0h1.2m2.3 0h1.1m10.5 0h1.1m17.4 0h1.2M-61 25.9h7m7 0h1.1m1.2 0h1.2m1.1 0h1.2m54.6 0h1.1m1.2 0h2.3m5.8 0h9.3m7 0h1.1m1.2 0h1.1m62.7 0h1.2m3.5 0h1.2m9.2 0h3.5m1.2 0h3.5m1.1 0h1.2m1.2 0h1.1m2.3 0h2.4m1.1 0h1.2M-59.9 24.9h5.8m10.5 0h1.1m1.2 0h2.3m58.2 0h2.3m2.3 0h1.2m1.2 0h1.1m1.2 0h3.5m9.3 0h2.3m62.8 0h1.2m1.2 0h3.5m10.4 0h3.5m7 0h5.8m1.2 0h1.1M-61.2 23.9h4.7m12.8 0h4.7m54.7 0h1.2m3.5 0h4.7m1.1 0h1.2m1.2 0h1.1m1.2 0h2.3m7 0h1.2m1.1 0h2.4m71.1 0h1.1m7 0h2.3m2.4 0h4.6m1.2 0h5.8M-66 22.9h2.4m1.1 0h7.1m2.3 0h1.2m1.1 0h1.2m4.7 0h5.8m57.2 0h1.2m2.3 0h8.2m2.3 0h1.2m10.5 0h1.1m61.9 0h2.3m2.4 0h4.7m5.8 0h17.5M-61.4 21.9h5.9m1.1 0h1.2m5.8 0h8.2m56.2 0h2.3m1.2 0h7m1.1 0h1.2m1.2 0h2.3m8.2 0h2.3m1.2 0h1.2m63.1 0h5.9m2.3 0h9.4m1.1 0h2.4m3.5 0h5.8M-62.7 20.8h8.2m8.2 0h7.1m56.2 0h17.5m8.2 0h1.2m1.2 0h1.2m65.5 0h1.2m5.9 0h1.1m2.4 0h3.5m1.2 0h2.3m4.7 0h4.7M-62.8 19.8h1.2m2.4 0h5.8m1.2 0h1.2m3.5 0h7m1.2 0h1.2m51.6 0h1.2m1.1 0h1.2m1.2 0h5.8m1.2 0h1.2m2.3 0h2.4m1.2 0h3.5m7 0h3.5m68.1 0h5.8m3.5 0h2.4m7 0h4.7M-67.5 18.8h14m1.2 0h1.2m1.2 0h2.3m1.2 0h7m1.2 0h1.2m48.2 0h1.1m1.2 0h4.7m1.2 0h1.2m1.1 0h15.3m8.2 0h1.2m68.1 0h4.7m2.4 0h1.2m1.1 0h1.2m9.4 0h1.2m1.2 0h1.1M-70 17.8h7.1m2.3 0h2.4m1.1 0h9.5m1.1 0h10.6m47.1 0h5.9m2.3 0h18.8m2.4 0h1.2m3.5 0h2.3m68.3 0h4.7m1.2 0h1.1m1.2 0h1.2m2.4 0h3.5m1.2 0h1.1m1.2 0h3.5M-71.3 16.8h18.9m1.2 0h9.4m1.2 0h3.5m57.7 0h1.2m1.2 0h9.4m1.2 0h4.7m3.5 0h4.7m69.5 0h1.2m3.6 0h3.5m2.4 0h3.5m3.5 0h3.6M-72.6 15.8h1.2m1.2 0h4.7m1.2 0h1.2m1.2 0h18.8m1.2 0h5.9m47.2 0h1.2m2.3 0h1.2m2.4 0h1.2m1.1 0h1.2m1.2 0h3.5m1.2 0h10.6m5.9 0h1.2m76.7 0h1.2m2.3 0h3.6m4.7 0h3.5M-69.1 14.7h27.2m1.2 0h4.7m47.2 0h2.4m3.5 0h4.8m1.1 0h1.2m3.6 0h8.2m82.7 0h1.2m2.3 0h1.2m9.5 0h3.5M-70.4 13.7h34.3m49.7 0h1.2m2.3 0h4.8m1.2 0h13m88.6 0h1.2m2.4 0h1.2m3.5 0h1.2m1.2 0h1.2M-72.8 12.7h1.2m1.2 0h13m3.5 0h8.3m1.2 0h9.5m47.3 0h1.2m1.2 0h16.6m1.1 0h2.4m2.4 0h1.2m85.2 0h1.2m1.1 0h1.2M-74 11.7h3.5m1.2 0h4.7m1.2 0h17.8m1.2 0h3.5m1.2 0h1.2m50.9 0h13.1m1.2 0h3.5m1.2 0h1.2m1.2 0h3.5m75.8 0h1.2m2.4 0h1.2m7.1 0h1.2M-74.1 10.7h1.2m1.2 0h1.2m1.1 0h1.2m2.4 0h7.1m1.2 0h21.3m48.6 0h26.1m74.7 0h2.4m1.2 0h3.5m19 0h2.4M-73 9.7h2.4m1.2 0h1.2m2.3 0h2.4m1.2 0h1.2m1.2 0h7.1m1.2 0h11.9m2.3 0h4.8m45.1 0h17.8m1.1 0h6m77.1 0h2.4m1.2 0h3.5m10.7 0h4.7m2.4 0h2.4M-74.2 8.6h7.1m1.2 0h1.2m2.4 0h8.3m1.2 0h5.9m1.2 0h5.9m54.6 0h3.6m1.2 0h9.5m3.6 0h4.7m73.6 0h1.2m1.2 0h3.5m3.6 0h1.2m9.5 0h7.1m1.2 0h2.4M-76.6 7.6h1.2m1.1 0h3.6m1.2 0h1.2m2.4 0h23.7m1.2 0h1.2m4.8 0h1.1m45.2 0h19m2.4 0h2.3m1.2 0h1.2m95.1 0h4.7m1.2 0h2.4M-76.7 6.6h2.4m1.2 0h2.4m7.1 0h17.8m6 0h2.4m2.3 0h2.4m47.6 0h2.3m1.2 0h4.8m1.2 0h3.5m2.4 0h1.2m1.2 0h4.7m76.1 0h1.2m16.6 0h2.4m1.2 0h8.3M-76.7 5.6h2.4m1.2 0h1.2m8.3 0h11.9m1.2 0h3.5m1.2 0h1.2m2.4 0h5.9m46.4 0h9.5m3.6 0h4.7m4.8 0h5.9m75 0h1.2m14.2 0h10.7m1.2 0h1.2M-76.7 4.6h2.3m1.2 0h2.4m8.3 0h17.9m3.6 0h1.1m3.6 0h1.2m45.2 0h10.7m4.8 0h1.2m5.9 0h2.4m77.3 0h4.8m8.3 0h2.4m1.2 0h9.5M-63.7 3.6h21.5m4.7 0h1.2m45.2 0h3.6m1.2 0h15.5m1.1 0h1.2m1.2 0h3.6m70.2 0h1.2m4.8 0h4.7m3.6 0h1.2m1.2 0h1.2m1.2 0h2.3m1.2 0h8.4M-75.6 2.5h1.2m11.9 0h8.3m1.2 0h11.9m48.8 0h3.6m1.2 0h16.7m2.3 0h2.4m70.3 0h5.9m3.6 0h3.6m4.7 0h2.4m2.4 0h8.3M-69.7 1.5h2.4m1.2 0h1.2m2.4 0h20.2m51.2 0h20.3m3.5 0h1.2m1.2 0h1.2m67.9 0h8.3m2.4 0h3.6m5.9 0h2.4m3.6 0h2.4M-75.6 .5h1.2m1.2 0h1.2m3.5 0h1.2m2.4 0h2.4m1.2 0h1.2m2.3 0h7.2m1.2 0h4.7m52.4 0h11.9m3.6 0h6m2.4 0h4.7m61.9 0h1.2m4.8 0h4.8m2.3 0h1.2m1.2 0h1.2m1.2 0h2.4m2.4 0h1.2m2.3 0h1.2M-74.4 -.5h2.4m5.9 0h2.4m3.6 0h5.9m3.6 0h3.6m55.9 0h10.7m2.4 0h9.6m1.1 0h3.6m66.7 0h7.2m2.3 0h1.2m3.6 0h2.4m1.2 0h2.4M-72 -1.5h1.2m1.1 0h4.8m2.4 0h1.2m2.4 0h3.5m4.8 0h3.6m57.1 0h10.7m1.2 0h14.3m57.2 0h2.4m8.3 0h4.7m3.6 0h3.6m2.4 0h1.2m1.2 0h2.3M-74.4 -2.5h1.2m2.4 0h10.7m1.2 0h3.5m4.8 0h3.6m55.9 0h3.6m1.2 0h19m2.4 0h1.2m1.2 0h1.2m65.5 0h8.3m8.3 0h1.2M-73.2 -3.6h2.4m1.2 0h1.2m1.2 0h3.5m1.2 0h9.5m1.2 0h3.6m59.5 0h1.2m2.4 0h10.7m1.2 0h5.9m1.2 0h6m66.6 0h3.6m1.2 0h2.4M-64.8 -4.6h4.7m1.2 0h1.2m2.4 0h5.9m54.8 0h4.7m4.8 0h2.4m1.1 0h8.4m1.2 0h9.5m5.9 0h1.2m63.1 0h2.3m2.4 0h1.2M-71.9 -5.6h2.3m4.8 0h7.1m3.6 0h4.7m48.8 0h1.2m3.6 0h3.5m6 0h4.7m3.6 0h16.6m72.6 0h2.4M-70.7 -6.6h1.2m1.2 0h17.8m46.3 0h1.2m1.2 0h8.3m1.2 0h1.2m4.8 0h5.9m2.4 0h1.2m1.2 0h1.2m1.1 0h1.2m1.2 0h9.5m71.3 0h1.2M-71.9 -7.6h2.4m1.2 0h9.5m1.2 0h3.5m49.9 0h21.4m1.2 0h3.6m1.2 0h2.3m1.2 0h9.5m59.4 0h1.2m13.1 0h2.4M-67.1 -8.6h1.2m4.8 0h5.9m51 0h21.4m1.2 0h1.2m1.2 0h3.5m2.4 0h4.8m1.2 0h1.1M-64.7 -9.7h8.3m54.6 0h8.3m1.2 0h3.6m1.2 0h8.3m1.2 0h2.3m3.6 0h5.9M-59.9 -10.7h1.2m56.9 0h1.2m1.2 0h9.5m1.2 0h8.3m1.1 0h2.4m2.4 0h1.2m1.2 0h8.3M-1.8 -11.7h9.5m5.9 0h7.1m4.8 0h3.5m4.8 0h1.1m1.2 0h1.2M10.1 -12.7h1.1m23.7 0h1.2M-5.3 -13.7h1.2m11.8 0h1.2m24.8 0h2.4M-6.5 -14.7h1.2m7.1 0h1.2m9.4 0h1.2m7.1 0h1.2m5.9 0h2.3m1.2 0h4.7m4.7 0h1.2M-15.9 -15.8h1.2m2.3 0h1.2m7.1 0h2.3m9.5 0h1.1m4.8 0h1.1m1.2 0h4.7m4.8 0h1.1m1.2 0h7.1M-14.7 -16.8h1.2m3.5 0h2.3m1.2 0h8.3m1.1 0h1.2m7.1 0h2.3m2.4 0h3.5m1.2 0h3.6m1.1 0h1.2m1.2 0h3.5m1.2 0h1.2M-13.5 -17.8h9.4m1.2 0h5.8m3.6 0h1.1m9.5 0h1.1m5.9 0h1.2M-13.5 -18.8h4.7m1.2 0h4.7m5.8 0h3.6m3.5 0h1.2m17.6 0h1.2m2.3 0h2.4M-6.5 -19.8h3.6m5.8 0h1.2m1.2 0h1.2m16.4 0h1.1m9.4 0h1.2M-95.4 -20.8h1.1m1.2 0h1.2m114.7 0h2.4m1.2 0h1.1m65.6 0h1.2M-94.1 -21.9h2.3m177.7 0h2.4m3.5 0h2.3M-96.3 -22.9h4.7m180.9 0h4.7m3.5 0h2.3m4.7 0h1.1M-98.5 -23.9h2.4m1.1 0h1.2m1.2 0h2.3m174.8 0h3.5m1.2 0h2.3m1.1 0h1.2m1.2 0h5.8m2.3 0h2.4M-94.8 -24.9h4.6m175.7 0h2.3m1.2 0h9.3m1.2 0h5.8M-103.9 -25.9h2.3m1.2 0h1.1m4.7 0h4.6m144 0h1.2m27.8 0h2.3m2.4 0h15.1M-102.6 -26.9h12.8m129.8 0h1.1m41.8 0h23.1m1.2 0h1.2m1.1 0h1.2M-103.5 -28h1.2m1.1 0h11.6m136.4 0h1.2m5.8 0h1.1m26.6 0h1.2m3.5 0h9.2m1.2 0h11.5m1.2 0h2.3M-103.3 -29h13.9m133.8 0h2.3m8.1 0h1.2m5.7 0h1.2m1.1 0h1.2m19.6 0h9.2m4.6 0h7m1.1 0h4.6M-104.1 -30h1.1m1.2 0h1.1m1.2 0h11.5m128.9 0h1.1m4.6 0h2.3m34.5 0h12.7m1.1 0h1.2m2.3 0h1.1m1.2 0h5.8m1.1 0h2.3M-103.9 -31h2.3m2.3 0h12.6m3.5 0h1.1m125.1 0h2.3m1.2 0h2.3m8 0h2.3m4.6 0h2.3m20.7 0h9.1m3.5 0h1.1m1.2 0h9.2M-104.7 -32h2.3m4.5 0h11.5m1.1 0h5.8m121.3 0h6.8m13.8 0h3.4m12.6 0h1.1m1.2 0h2.3m4.6 0h5.7m3.4 0h2.3m1.1 0h6.9m1.2 0h1.1M-97.6 -33h10.3m2.3 0h1.1m1.2 0h3.4m111.8 0h2.3m1.1 0h1.2m3.4 0h4.6m17.1 0h1.1m1.2 0h1.1m2.3 0h1.1m11.4 0h5.7m1.2 0h1.1m2.3 0h3.4m4.6 0h4.6m1.1 0h1.1m1.2 0h1.1M-100.7 -34.1h1.2m2.3 0h10.2m4.5 0h6.9m109.2 0h1.1m1.1 0h1.2m1.1 0h9.1m10.2 0h1.2m4.5 0h5.7m10.2 0h2.3m1.2 0h1.1m5.7 0h5.7m1.1 0h2.3m1.1 0h2.3m1.1 0h4.6m1.1 0h1.2m1.1 0h1.1m6.9 0h1.1M-96.9 -35.1h3.4m2.2 0h15.9m82.8 0h1.1m30.6 0h5.7m11.3 0h2.3m4.5 0h4.5m2.3 0h1.1m9.1 0h1.1m8 0h4.5m5.7 0h6.8m1.1 0h3.4m6.8 0h4.6M-96.6 -36.1h3.4m1.1 0h5.7m1.1 0h1.1m1.2 0h10.1m67.8 0h1.1m10.2 0h4.5m22.6 0h2.3m1.1 0h4.5m1.2 0h1.1m4.5 0h2.3m1.1 0h1.1m9.1 0h3.4m3.3 0h1.2m1.1 0h1.1m7.9 0h2.3m3.4 0h7.9m1.1 0h1.1m2.3 0h12.4m6.8 0h6.8M-100.7 -37.1h7.9m1.1 0h2.2m1.2 0h4.5m1.1 0h6.7m68.7 0h4.5m2.2 0h1.2m6.7 0h2.3m12.3 0h2.3m6.7 0h6.8m1.1 0h1.2m1.1 0h1.1m3.4 0h1.1m1.1 0h1.2m2.2 0h3.4m1.1 0h1.1m1.2 0h3.3m1.2 0h1.1m3.4 0h1.1m1.1 0h1.1m3.4 0h2.3m9 0h2.2m1.1 0h16.9m1.2 0h1.1m5.6 0h2.3m2.2 0h9M-103.7 -38.1h1.1m1.1 0h1.2m1.1 0h1.1m1.1 0h3.4m3.3 0h14.6m69.5 0h5.6m1.2 0h1.1m1.1 0h3.4m1.1 0h2.2m11.2 0h3.4m5.6 0h3.4m1.1 0h6.7m6.7 0h1.2m1.1 0h1.1m1.1 0h2.3m4.5 0h3.3m4.5 0h5.6m4.5 0h1.1m5.6 0h1.1m1.2 0h1.1m2.2 0h11.2m1.2 0h2.2m1.1 0h1.2m1.1 0h1.1m5.6 0h2.2m1.2 0h8.9M-101.1 -39.1h1.2m3.3 0h1.1m5.6 0h10.1m2.2 0h2.2m5.6 0h1.1m62.6 0h4.4m1.1 0h11.2m2.2 0h1.2m5.5 0h1.2m3.3 0h2.2m1.2 0h4.4m1.1 0h1.2m1.1 0h2.2m1.1 0h1.1m11.2 0h3.4m2.2 0h1.1m2.2 0h1.2m1.1 0h2.2m1.1 0h1.1m1.2 0h5.5m3.4 0h1.1m2.2 0h1.2m1.1 0h12.3m1.1 0h11.1m1.2 0h1.1m5.6 0h1.1m5.6 0h1.1m1.1 0h2.2M-96.2 -40.2h1.1m6.7 0h4.4m1.1 0h2.3m1.1 0h1.1m2.2 0h1.1m3.4 0h1.1m62.3 0h7.7m2.3 0h8.9m1.1 0h2.2m4.5 0h3.3m2.2 0h6.7m1.1 0h2.2m1.1 0h2.3m12.2 0h2.2m5.6 0h1.1m3.3 0h3.4m4.4 0h1.1m12.3 0h3.3m1.1 0h7.8m7.8 0h5.5m12.3 0h5.5M-109.1 -41.2h2.2m20 0h2.2m2.2 0h1.1m8.9 0h2.2m60.9 0h7.7m1.1 0h1.2m9.9 0h2.2m1.1 0h1.2m3.3 0h3.3m1.1 0h13.3m7.7 0h1.2m2.2 0h1.1m1.1 0h1.1m1.1 0h1.1m1.1 0h1.1m2.2 0h1.1m3.4 0h4.4m3.3 0h2.2m10 0h2.2m1.1 0h2.2m1.1 0h6.7m3.3 0h1.1m2.2 0h1.1m1.1 0h1.2m2.2 0h1.1m14.4 0h1.1m1.1 0h1.1M-106.4 -42.2h1.1m1.1 0h2.2m12.1 0h13.3m4.4 0h1.1m61.7 0h7.7m1.1 0h1.2m6.6 0h2.2m4.4 0h1.1m2.2 0h1.1m1.1 0h2.2m1.1 0h14.3m5.5 0h1.1m3.4 0h1.1m1.1 0h5.5m4.4 0h4.4m1.1 0h2.2m1.1 0h2.2m13.2 0h1.1m4.4 0h1.2m1.1 0h6.6m1.1 0h9.9m14.3 0h3.3M-109.2 -43.2h1.1m2.2 0h1.1m4.4 0h1.1m9.9 0h1.1m1.1 0h7.6m1.1 0h4.4m5.5 0h1.1m59.3 0h2.2m1.1 0h2.2m2.2 0h1m6.6 0h1.1m4.4 0h5.5m1.1 0h2.2m1.1 0h9.9m1.1 0h2.2m14.2 0h2.2m5.5 0h3.3m1.1 0h1.1m6.6 0h5.5m6.5 0h1.1m5.5 0h5.5m1.1 0h1.1m1.1 0h7.7m1.1 0h2.2m14.2 0h3.3M-106.5 -44.2h2.2m4.4 0h1.1m1.1 0h1.1m4.3 0h2.2m1.1 0h1.1m1.1 0h7.6m1.1 0h7.7m64.4 0h3.3m1.1 0h4.3m4.4 0h2.2m1.1 0h5.4m1.1 0h7.7m1.1 0h3.2m1.1 0h4.4m2.2 0h2.2m9.8 0h1.1m1.1 0h4.3m2.2 0h1.1m6.6 0h1.1m3.2 0h3.3m2.2 0h1.1m6.5 0h2.2m1.1 0h3.3m1.1 0h1.1m1.1 0h3.2m3.3 0h7.7m5.4 0h1.1m8.8 0h2.1M-105.9 -45.2h2.2m4.3 0h2.2m4.3 0h1.1m2.2 0h8.7m4.3 0h2.2m1.1 0h5.4m2.2 0h5.4m53.2 0h4.4m1.1 0h5.4m4.3 0h6.6m1.1 0h9.7m3.3 0h3.2m21.8 0h1.1m3.2 0h1.1m6.5 0h3.3m1.1 0h1.1m11.9 0h6.5m1.1 0h2.2m7.6 0h3.2m1.1 0h1.1m15.2 0h1.1M-107.5 -46.2h1.1m1 0h1.1m13 0h5.4m1.1 0h1m1.1 0h1.1m5.4 0h16.2m51.9 0h1.1m1.1 0h11.8m1.1 0h1.1m2.2 0h1m2.2 0h1.1m1.1 0h1.1m1 0h6.5m9.7 0h2.2m15.1 0h1.1m6.5 0h1.1m2.1 0h1.1m1.1 0h1.1m4.3 0h1.1m11.9 0h5.4m2.1 0h1.1m10.8 0h2.2m1.1 0h1m8.7 0h1.1m4.3 0h1.1m1.1 0h3.2M-89.7 -47.2h3.2m1.1 0h6.4m2.2 0h2.1m1.1 0h11.8m2.1 0h1.1m1.1 0h2.1m47.3 0h9.7m1.1 0h4.3m4.3 0h5.4m2.1 0h6.5m7.5 0h3.2m17.2 0h3.2m1.1 0h1.1m2.1 0h1.1m5.4 0h1.1m3.2 0h2.1m2.2 0h1m1.1 0h3.2m2.2 0h2.1m2.2 0h1.1m3.2 0h5.4m1 0h2.2m2.1 0h1.1m1.1 0h1.1m1 0h1.1m5.4 0h3.2m3.2 0h5.4M-97.8 -48.2h1.1m7.5 0h1m1.1 0h7.5m2.1 0h11.8m1 0h12.9m50.2 0h3.2m1.1 0h3.2m2.1 0h3.2m1.1 0h4.3m1 0h8.6m1.1 0h10.6m2.2 0h1.1m9.6 0h1m1.1 0h1.1m2.1 0h1.1m1.1 0h3.2m2.1 0h1.1m16 0h1.1m5.3 0h4.3m1.1 0h2.1m5.3 0h3.2m1.1 0h2.2m7.4 0h3.2m3.2 0h3.3m2.1 0h1.1M-90.9 -49.2h38.3m1.1 0h1m48.9 0h4.3m1 0h10.6m7.5 0h4.2m1.1 0h6.4m1 0h4.3m2.1 0h1.1m2.1 0h2.1m4.3 0h1m1.1 0h5.3m1.1 0h3.2m1 0h2.2m1 0h1.1m11.7 0h1m1.1 0h2.1m3.2 0h2.1m5.4 0h2.1m1 0h1.1m1.1 0h1m1.1 0h7.4m3.2 0h5.3m3.2 0h1.1m2.1 0h3.2M-93.5 -50.2h1m2.2 0h35.9m51.8 0h13.7m2.1 0h1.1m5.2 0h1.1m4.2 0h1.1m1 0h1.1m1.1 0h3.1m1.1 0h5.3m1 0h2.1m2.2 0h1m2.1 0h1.1m3.1 0h9.6m1 0h2.1m1.1 0h1m1.1 0h1.1m11.6 0h1m5.3 0h1.1m5.3 0h2.1m9.5 0h13.7m1.1 0h3.1M-94 -51.2h39.9m49.4 0h12.6m1 0h2.1m4.2 0h1.1m1 0h3.2m2.1 0h14.7m2.1 0h3.1m4.2 0h1.1m1 0h2.1m6.3 0h1.1m5.3 0h1m8.4 0h3.2m1 0h1.1m2.1 0h1m3.2 0h1m1.1 0h1m5.3 0h1m7.4 0h1m2.1 0h1.1m1 0h6.3m2.1 0h2.1m2.1 0h1.1M-96.6 -52.2h2.1m2.1 0h33.4m1.1 0h4.1m4.2 0h3.1m41.8 0h6.3m2.1 0h2m2.1 0h2.1m5.2 0h4.2m1.1 0h2m2.1 0h1.1m1 0h8.4m1 0h2.1m1.1 0h1m1 0h2.1m2.1 0h2.1m5.2 0h1.1m1 0h2.1m3.1 0h1.1m9.4 0h2.1m1 0h3.1m2.1 0h1.1m4.1 0h2.1m6.3 0h1m1.1 0h1m1.1 0h1m1.1 0h1m1 0h16.8M-99.1 -53.2h5.2m2.1 0h31.1m1 0h9.4m1 0h4.2m47.7 0h1m1.1 0h1m1 0h1.1m6.2 0h6.2m1.1 0h5.2m1 0h1m1.1 0h1m1 0h11.5m1 0h3.1m1 0h1.1m1 0h3.1m1.1 0h1m3.1 0h3.1m1.1 0h8.3m1 0h2.1m2 0h8.3m3.2 0h2m6.3 0h19.7m4.1 0h1.1M-103.6 -54.2h4.1m2.1 0h7.2m2.1 0h13.4m6.2 0h16.5m1 0h6.2m39.1 0h5.2m2 0h4.2m1 0h3.1m4.1 0h9.3m1 0h9.3m3.1 0h7.2m3.1 0h3.1m1 0h2.1m2 0h1.1m1 0h3.1m2.1 0h5.1m2.1 0h14.4m2.1 0h4.1m1 0h12.4m1 0h14.4m8.3 0h2M-103.9 -55.1h31.7m3.1 0h5.1m2.1 0h1m1 0h1m2.1 0h1m1 0h4.1m3.1 0h2.1m37.8 0h1m2.1 0h1m1 0h1.1m3 0h1.1m1 0h1m3.1 0h3m2.1 0h15.3m1.1 0h3m1.1 0h4.1m2 0h2.1m1 0h3m1.1 0h1m3.1 0h10.2m2 0h1.1m2 0h2.1m1 0h4.1m2 0h11.3m1 0h23.6m1 0h6.1m9.2 0h2.1M-105.2 -56.1h11.2m1 0h6.1m1 0h3.1m1 0h9.1m1.1 0h1m2 0h1m1 0h1.1m1 0h14.2m1 0h4.1m39.6 0h2m6.1 0h2.1m2 0h1m1 0h7.2m2 0h10.1m2.1 0h2m2 0h1.1m1 0h1m1 0h5.1m3 0h1.1m3 0h26.4m1 0h3.1m1 0h4.1m2 0h10.2m2 0h4.1m2 0h4.1m1 0h6.1m9.1 0h1m1.1 0h1M-104.4 -57.1h5m1 0h3.1m1 0h1m3 0h2m1 0h5.1m3 0h7.1m5 0h1m3.1 0h4m1 0h13.1m39.4 0h1m8 0h2m1.1 0h3m1 0h2m1 0h10.1m1 0h5.1m1 0h1m3 0h1m1 0h4.1m1 0h1m2 0h3m1 0h4.1m1 0h3m1 0h22.2m5 0h10.1m1 0h14.2m1 0h5m11.1 0h1M-104.6 -58.1h3m2 0h3m5 0h1m2 0h2m1 0h4m3 0h2m2 0h2m1 0h1m10 0h1m1 0h11m1 0h1m42.1 0h1m1 0h1m5 0h9m1 0h15m1 0h2m1 0h1m1 0h5m2 0h19.1m1 0h16m1 0h14m3 0h6m1 0h7m1 0h1m1 0h1m10 0h4M-102.8 -59h4m1 0h.9m2 0h3m1 0h8.9m3 0h2m6 0h1m10.9 0h1m3 0h3.9m1 0h3m44.7 0h1m8 0h1.9m1 0h22.9m3 0h1m1.9 0h3m1 0h30.8m1 0h8m.9 0h13m1 0h.9m1 0h1m2 0h7m13.9 0h1m1 0h2M-105 -60h13.8m1 0h5m.9 0h1m4 0h3.9m21.7 0h1m59.1 0h2m1 0h3.9m3 0h22.6m2 0h6.9m1 0h12.8m1 0h9.8m2 0h12.8m1 0h9.9m3.9 0h6.9m12.8 0h2M-104.1 -60.9h3.9m2.9 0h1m2 0h6.8m3.9 0h1m4.9 0h1m4.9 0h.9m11.8 0h.9m64.6 0h1.9m1 0h3.9m1 0h.9m2 0h5.9m.9 0h17.6m1 0h2m.9 0h2m1 0h25.4m1 0h12.7m1 0h8.8m1.9 0h2m.9 0h3m1.9 0h3m11.7 0h2.9m2 0h1M-105.2 -61.9h7.8m1 0h1.9m1.9 0h5.9m5.8 0h.9m6.8 0h1m69.8 0h.9m5.9 0h10.6m2 0h7.7m2 0h14.5m1 0h8.7m1 0h3.8m2 0h39.7m2.9 0h1m2.9 0h1m1.9 0h1m.9 0h1m10.7 0h6.8M-106.2 -62.8h1m.9 0h2m1.9 0h.9m2 0h3.8m33.6 0h2m61.5 0h.9m1 0h1.9m1 0h6.7m2.9 0h6.7m1 0h5.7m1 0h8.6m1 0h59.6m2.9 0h1.9m.9 0h1m2.9 0h6.7m2.9 0h1.9m1 0h2.9M-127.2 -63.8h1m16.2 0h2.8m1.9 0h1m10.5 0h.9m1 0h.9m94.3 0h1m.9 0h1.9m1 0h5.7m2.9 0h27.6m.9 0h1m1.9 0h7.6m1 0h25.7m.9 0h8.6m5.7 0h1m.9 0h1.9m5.8 0h2.8m1 0h.9m1 0h1.9m.9 0h1m5.7 0h1m1.9 0h2.8M-123.2 -64.7h1m126.4 0h9.5m1.9 0h23.6m.9 0h6.6m1 0h16m1 0h.9m1 0h24.5m.9 0h2.9m1.9 0h2.8m6.6 0h.9m2.9 0h3.8m1.8 0h2.9m3.7 0h1m.9 0h2.9M-121.1 -65.6h2.8m11.2 0h.9m21.5 0h1.9m10.3 0h.9m75.8 0h9.4m1.8 0h1.9m.9 0h18.7m1 0h7.5m.9 0h.9m1 0h11.2m.9 0h14.1m.9 0h16.8m1 0h4.6m5.7 0h1.8m1.9 0h.9m2.8 0h1m.9 0h1m1.8 0h1.9m5.6 0h2.8M-120 -66.5h2.8m12 0h.9m110.3 0h8.4m.9 0h31.5m1.9 0h3.7m.9 0h4.6m.9 0h4.7m.9 0h26m4.6 0h.9m.9 0h1m4.6 0h.9m6.5 0h.9m3.7 0h1M-102.3 -67.4h.9m10.1 0h.9m20.2 0h.9m76.2 0h10.1m.9 0h24.8m.9 0h.9m.9 0h1.9m1.8 0h3.7m.9 0h2.8m1.8 0h18.3m1 0h4.6m.9 0h1.8m.9 0h.9m4.6 0h.9m1.9 0h.9m13.8 0h.9m3.7 0h1.8M-68.6 -68.3h.9m74.5 0h9.1m.9 0h11.8m.9 0h5.5m.9 0h5.5m3.6 0h1.8m.9 0h3.7m.9 0h3.6m1.8 0h.9m3.7 0h.9m.9 0h7.3m4.5 0h.9m.9 0h2.7m2.8 0h1.8m5.4 0h1m16.3 0h.9M-123.8 -69.2h.9m25.2 0h2.7m45.9 0h.9m55.9 0h18m3.6 0h9.9m6.3 0h.9m1.8 0h.9m1.8 0h.9m.9 0h3.6m6.3 0h7.2m.9 0h1.8m2.7 0h1.8m.9 0h.9M-112.7 -70.1h.9m10.7 0h.9m4.4 0h.9m45.4 0h.9m57.1 0h6.2m.9 0h13.4m.8 0h8.1m14.2 0h5.4m7.1 0h2.7m3.5 0h.9m2.7 0h.9m.9 0h.9m7.1 0h.9m9.8 0h.9m13.3 0h.9M-74.5 -71h.9m15.8 0h.9m66.2 0h15.8m2.7 0h.9m1.7 0h.9m1.8 0h4.4m13.2 0h.9m1.8 0h3.5m7.9 0h1.8m3.5 0h.9m3.5 0h.9m.9 0h.9m11.4 0h.9m.9 0h.9M10 -71.9h5.3m.8 0h7m21.8 0h.9m10.5 0h.9m16.5 0h.9m25.3 0h.9m11.3 0h.9m2.6 0h1.8m.8 0h.9m4.4 0h.8M-56.5 -72.7h.8m67.4 0h2.5m.9 0h.9m2.6 0h.8m.9 0h1.7m57 0h1.7m17.3 0h.8m6.1 0h.8M20.9 -73.6h.9m15.3 0h.9m23 0h.9m5.1 0h.9m1.7 0h.8m24.8 0h.8m18.8 0h1.7M-75.5 -74.4h.8m134.2 0h.8m2.6 0h.8m1.7 0h.9m3.3 0h.9m10.1 0h.8m14.4 0h.8m9.3 0h.9M55.5 -75.2h.8m23.4 0h1.6M-79.5 -76.1h.8m133.5 0h.8m14.9 0h.8m10.7 0h.8M52.5 -76.9h.8m.8 0h.8m21.2 0h1.6M72.6 -77.7h.8m16.1 0h.8M66.1 -78.5h.8M62.8 -79.2h1.5"/>
<path class="r" stroke="#FFB400" d="M-100.7 -52.2h1m125.3 0h1M-100.1 -53.2h1m129.7 0h1M33.5 -54.2h2.1"/>
<path class="r" stroke="#FF8214" d="M73.1 -30h1.1m2.3 0h1.2M74 -31h1.2M72.7 -32h1.1M71.3 -33h1.2m1.1 0h1.1M68.8 -34.1h3.4M84.3 -42.2h1.1M-94.5 -44.2h1.1M-100.5 -45.2h1.1M-94.6 -46.2h1.1m161 0h1.1M-103.7 -47.2h1.1M-100.9 -50.2h1M-103.5 -51.2h1.1m1 0h1.1m146 0h1M69.4 -52.2h1.1M-105.3 -53.2h1M-106.7 -54.2h1.1m1 0h1m159.8 0h1M85.9 -56.1h1M47.9 -57.1h1M47.8 -60h1"/>
<path class="r" stroke="#FA320A" d="M76.7 -29h1.2M74.2 -30h1.2m2.3 0h1.1M70.6 -31h3.4M71.5 -32h1.2M66.7 -33h1.2M-101 -46.2h1M45.4 -48.2h1.1m29.9 0h1.1M32.2 -50.2h1.1M-104.5 -51.2h1m170.2 0h1.1M-103.9 -52.2h1.1M-101.1 -53.2h1m126.6 0h1M48.6 -55.1h1M27.9 -56.1h1.1M53 -57.1h1"/>
<path class="r" stroke="#E60000" d="M119.5 -6.6h1.1M116.9 -8.6h1.2m2.4 0h1.2M115.7 -9.7h1.2m1.2 0h1.1M67 -32h2.2M65.6 -33h1.1M51.7 -40.2h1.1M105.9 -47.2h1M110.3 -56.1h1M61.6 -60h1M50.9 -61.9h1"/>
<path class="r" stroke="#D2282D" d="M118.2 -7.6h2.4M116.9 -9.7h1.2m1.1 0h1.2M75.4 -30h1.1M72.5 -33h1.1"/>
<use href="#coast"/>
</g>
<use href="#fr" fill="none" stroke="#000" stroke-width="0.6"/>
</g>
<g transform="translate(525 497.5)">
<g clip-path="url(#cp)">
<path class="r" stroke="#FF0000" d="M-62.4 54.2h2.1M-61.7 53.2h1M-62.1 52.2h2.1M-63.6 51.2h3.2M-63.9 50.2h2.1M-63.2 49.2h3.2m201.9 0h1M-64.7 48.2h5.4M-60.7 47.2h2.1m205.3 0h1.1M-63.2 46.2h1.1m1 0h1.1m206.4 0h4.4M-60.3 45.2h1.1m207.5 0h4.3M-63.9 44.2h3.3m209.6 0h3.3M-64.2 43.2h3.3m211.8 0h1.1M-56.8 42.2h1.1m2.2 0h2.2M-65.9 41.2h1.1m7.8 0h2.2m3.3 0h1.1m206 0h1.1M-66.2 40.2h2.3m5.5 0h7.8m208 0h1.1M-58.6 39.1h8.9M-58.9 38.1h10.1m153.6 0h1.2m24.6 0h2.3m1.1 0h1.1M-65.8 37.1h1.1m6.7 0h9m154.2 0h1.2m22.5 0h1.1m1.1 0h4.5m19.1 0h1.2M-65 36.1h1.2m2.2 0h3.4m1.2 0h10.1m153.6 0h1.2m23.7 0h5.6M-61.8 35.1h13.6m157.6 0h1.1m21.6 0h3.4m2.2 0h1.2M-62 34.1h14.8m71.7 0h1.1m84.2 0h2.2m20.5 0h1.1m1.2 0h2.3m1.1 0h1.1M-65.6 33h1.1m3.5 0h12.5m1.1 0h2.3m71.9 0h1.2m82.1 0h1.1m24 0h2.3M-63.5 32h13.7m1.2 0h1.1m1.1 0h1.2m71 0h1.1m82.4 0h1.1m20.6 0h2.3m1.2 0h2.3M-63.7 31h17.2m1.2 0h1.1m62 0h1.1m6.9 0h3.5m106.7 0h1.2m2.2 0h1.2M-63.9 30h2.3m1.2 0h5.7m1.2 0h9.2m64.4 0h4.6m2.3 0h3.5m109.3 0h2.3M-66.3 29h1.1m2.3 0h9.3m1.1 0h1.2m1.1 0h2.3m1.2 0h2.3m64.6 0h4.6m111.9 0h2.3m1.2 0h2.3M-63 28h10.4m2.3 0h1.2m1.1 0h4.6m64.8 0h1.1m1.2 0h3.5m108.7 0h5.8M-60.8 26.9h9.2m1.2 0h5.8m66 0h4.7m107.8 0h8.1M-59.8 25.9h10.4m4.7 0h1.2m56.9 0h1.1m10.5 0h1.1m2.3 0h1.2m105.7 0h5.8M-62.2 24.9h17.4m1.2 0h1.1m55.9 0h1.1m1.2 0h1.2m1.1 0h1.2m5.8 0h1.2m111.7 0h2.3M-64.7 23.9h19.8m58.3 0h11.7m2.3 0h3.5m104.9 0h1.1m2.4 0h1.1M-63.6 22.9h15.2m1.1 0h2.4m61.8 0h14m1.2 0h1.2m105 0h1.2M-61.4 21.9h5.9m1.1 0h5.9m3.5 0h1.2m1.1 0h1.2m53.8 0h3.5m2.3 0h14.1M-65 20.8h1.2m2.3 0h7m2.4 0h1.2m1.1 0h3.5m2.4 0h1.2m1.1 0h1.2m52.7 0h3.5m2.4 0h15.2m103 0h2.4M-66.3 19.8h18.8m1.2 0h3.5m1.2 0h1.1m52.8 0h1.2m1.2 0h17.6m1.1 0h1.2m100.9 0h2.3M-62.9 18.8h1.2m1.2 0h4.7m1.2 0h14.1m52.8 0h1.2m1.2 0h1.2m1.1 0h1.2m1.2 0h2.3m1.2 0h10.6m88.1 0h1.2m11.7 0h2.4M-68.8 17.8h1.2m5.8 0h10.6m1.2 0h9.4m1.2 0h1.2m54.1 0h1.2m1.1 0h18.9m95.3 0h5.8M-70.1 16.8h2.4m3.5 0h14.1m1.2 0h8.3m1.1 0h2.4m51.8 0h3.6m1.1 0h5.9m1.2 0h1.2m2.3 0h4.8m1.1 0h2.4m4.7 0h1.2m75.4 0h1.2m11.7 0h4.8M-70.2 15.8h1.2m4.7 0h8.3m1.1 0h5.9m2.4 0h5.9m1.2 0h3.5m49.6 0h7m1.2 0h4.7m2.4 0h1.2m15.3 0h1.2m73.1 0h1.2m13 0h1.2m1.2 0h1.1M-69.1 14.7h1.2m1.2 0h2.3m1.2 0h10.6m1.2 0h2.4m3.5 0h5.9m1.2 0h2.4m48.4 0h9.5m7 0h1.2m2.4 0h1.2m11.8 0h1.2M-72.7 13.7h3.5m1.2 0h2.4m1.2 0h5.9m2.3 0h2.4m1.2 0h7.1m1.2 0h7.1m49.6 0h1.2m1.2 0h9.4m1.2 0h1.2M-72.8 12.7h3.6m2.3 0h29.6m53.3 0h7.1m1.2 0h1.1m1.2 0h2.4m1.2 0h3.5m1.2 0h2.4M-71.7 11.7h1.2m1.2 0h1.2m1.2 0h7.1m1.2 0h7.1m1.2 0h7.1m3.5 0h3.6m54.5 0h7.1m1.2 0h9.4M-74.1 10.7h3.6m1.1 0h4.8m1.2 0h10.6m1.2 0h8.3m3.6 0h3.5m48.6 0h2.4m4.8 0h1.1m1.2 0h2.4m3.6 0h1.1m1.2 0h1.2m2.4 0h4.7M-73 9.7h1.2m2.4 0h16.6m2.4 0h1.2m1.1 0h7.2m1.2 0h2.3m49.9 0h3.5m1.2 0h1.2m1.2 0h1.2m2.3 0h1.2m3.6 0h2.4m1.1 0h1.2m2.4 0h1.2m1.2 0h1.2m67.6 0h8.3M-69.5 8.6h21.4m1.2 0h1.2m3.6 0h4.7m67.7 0h1.2m4.7 0h2.4m61.7 0h11.9m19 0h1.2M-75.4 7.6h2.3m1.2 0h3.6m1.2 0h4.7m1.2 0h10.7m1.2 0h1.2m1.2 0h9.5m1.2 0h1.2m47.5 0h1.2m1.2 0h1.1m21.4 0h1.2m61.8 0h8.3m22.6 0h3.5M-76.7 6.6h2.4m3.6 0h1.2m4.7 0h1.2m1.2 0h21.4m52.3 0h2.4m2.3 0h1.2m8.4 0h1.1m71.4 0h1.2m2.3 0h6m23.7 0h4.8m1.2 0h2.4m2.3 0h1.2M-69.6 5.6h2.4m2.4 0h1.2m1.2 0h2.3m1.2 0h10.7m1.2 0h6m53.5 0h2.4m1.2 0h2.3m4.8 0h2.4m1.2 0h1.1m9.6 0h1.1m58.3 0h3.6m29.7 0h3.6m1.2 0h2.4m1.1 0h1.2m1.2 0h1.2M-75.5 4.6h1.1m13.1 0h14.3m2.4 0h4.7m52.4 0h1.2m1.2 0h2.4m1.1 0h1.2m7.2 0h1.2m9.5 0h1.2m59.4 0h3.6m23.8 0h7.2m3.5 0h2.4M-75.6 3.6h1.2m7.2 0h2.3m2.4 0h10.7m1.2 0h2.4m2.4 0h3.6m57.1 0h1.2m3.5 0h8.4m9.5 0h1.2m57.1 0h1.2m1.2 0h3.6m2.3 0h1.2m10.7 0h1.2m4.8 0h2.4m1.2 0h2.3m1.2 0h3.6m3.6 0h1.2M-72 2.5h2.4m7.1 0h11.9m1.2 0h8.3m50 0h2.4m9.5 0h7.2m3.5 0h3.6m1.2 0h3.6m55.9 0h6m20.2 0h2.4M-61.3 1.5h19m57.2 0h1.2m4.7 0h7.2m4.7 0h1.2m60.8 0h5.9m14.3 0h3.6m7.1 0h2.4m3.6 0h1.2M-69.7 .5h6m1.2 0h13.1m1.2 0h4.7m63.1 0h3.6m2.4 0h3.6m2.4 0h4.7m58.4 0h4.7m3.6 0h2.4m1.2 0h1.2m2.4 0h2.3m1.2 0h4.8m2.4 0h1.2m2.3 0h3.6M-61.3 -.5h11.9m1.2 0h1.2m55.9 0h1.2m10.7 0h1.2m3.6 0h4.8m2.3 0h1.2m59.6 0h5.9m8.4 0h11.9m1.2 0h1.2M-67.3 -1.5h1.2m1.2 0h1.2m1.2 0h2.4m10.7 0h2.4m59.5 0h3.6m10.7 0h2.4m8.3 0h1.2m54.8 0h3.5m9.6 0h3.5m2.4 0h2.4m1.2 0h3.6M-73.2 -2.5h1.2m2.4 0h1.2m1.1 0h7.2m1.2 0h2.4m2.3 0h1.2m78.6 0h1.2m1.2 0h3.5m6 0h1.2m53.6 0h7.1m7.1 0h2.4m1.2 0h1.2m9.5 0h1.2M-70.8 -3.6h1.2m1.2 0h1.2m4.7 0h3.6m1.2 0h2.4m66.6 0h4.8m1.2 0h2.3m7.2 0h4.7m1.2 0h1.2m3.6 0h2.4m51.1 0h8.4m7.1 0h7.2M-70.8 -4.6h3.6m1.2 0h1.2m1.2 0h5.9m65.4 0h10.7m6 0h1.2m3.5 0h3.6m1.2 0h1.2m55.9 0h8.3m8.4 0h1.2m1.1 0h3.6M-71.9 -5.6h16.6m48.8 0h1.1m3.6 0h2.4m4.8 0h3.5m1.2 0h10.7m4.8 0h2.3m1.2 0h1.2m8.3 0h1.2m51.2 0h2.4m1.1 0h2.4m11.9 0h6m3.5 0h2.4M-74.3 -6.6h1.2m5.9 0h13.1m2.4 0h1.2m40.4 0h1.2m1.2 0h2.4m3.5 0h13.1m3.6 0h10.7m64.1 0h2.4m2.4 0h3.6m14.2 0h1.2m2.4 0h1.2M-71.9 -7.6h1.2m3.6 0h8.3m46.3 0h1.2m1.2 0h21.4m3.6 0h9.5m7.1 0h3.5m3.6 0h4.8m1.2 0h2.3m46.4 0h3.5m17.8 0h3.6m2.4 0h1.2M-74.2 -8.6h1.2m2.4 0h4.7m1.2 0h7.1m46.3 0h27.3m2.4 0h13.1m1.2 0h1.1m6 0h2.3m1.2 0h1.2m48.7 0h2.4m3.5 0h1.2m10.7 0h1.2m3.6 0h3.5M-80.1 -9.7h1.2m8.3 0h1.2m1.2 0h2.3m54.6 0h42.7m1.2 0h2.4m4.7 0h1.2m35.6 0h1.2m16.6 0h1.2m3.6 0h1.2m9.5 0h3.5m2.4 0h4.7M-10.1 -10.7h43.9m9.5 0h1.2m48.6 0h2.3m2.4 0h2.4m1.2 0h1.2m8.3 0h9.4M-71.7 -11.7h2.4m1.2 0h1.2m54.5 0h14.2m1.2 0h1.1m1.2 0h29.6m2.4 0h1.2m1.2 0h2.4m3.5 0h1.2m28.4 0h1.2m16.6 0h2.4m1.1 0h7.2m9.4 0h6M-70.4 -12.7h3.5m54.5 0h9.4m2.4 0h4.7m1.2 0h29.6m1.2 0h5.9m28.4 0h4.8m17.7 0h10.7m9.4 0h5.9M-84.5 -13.7h1.1m1.2 0h3.6m63.8 0h10.7m1.1 0h36.7m1.2 0h9.4m26.1 0h5.9m16.5 0h4.7m1.2 0h1.2m1.2 0h1.2m11.8 0h4.7M-86.8 -14.7h8.3m63.7 0h48.5m1.1 0h2.4m2.4 0h3.5m1.2 0h1.2m28.3 0h2.4m16.5 0h8.3m11.8 0h4.7M-86.7 -15.8h8.3m64.8 0h2.4m1.2 0h17.7m1.1 0h15.4m1.2 0h8.2m1.2 0h3.5m1.2 0h3.6m1.1 0h1.2m27.2 0h1.1m1.2 0h1.2m15.3 0h8.3m13 0h3.5M-86.6 -16.8h7.1m64.8 0h5.9m1.1 0h2.4m1.2 0h1.2m1.1 0h8.3m1.2 0h8.2m3.5 0h3.6m3.5 0h11.8m1.2 0h1.1m31.9 0h4.7m11.8 0h1.1m1.2 0h9.4m11.8 0h3.5M-88.8 -17.8h5.9m69.4 0h2.3m4.7 0h1.2m3.5 0h15.3m1.2 0h1.2m3.5 0h1.2m2.3 0h1.2m3.5 0h1.2m1.2 0h3.5m2.4 0h1.2m32.9 0h8.2m11.8 0h11.8m10.6 0h3.5M-92.2 -18.8h10.6m65.7 0h1.2m7.1 0h1.1m5.9 0h3.5m1.2 0h3.5m2.4 0h1.2m10.5 0h4.7m4.7 0h1.2m1.2 0h1.2m36.4 0h1.1m3.6 0h3.5m10.6 0h11.7m10.6 0h3.5M-92.1 -19.8h1.2m1.2 0h5.8m68.1 0h2.3m17.6 0h3.5m1.2 0h1.2m59.8 0h4.7m3.5 0h1.2m9.4 0h11.7m1.2 0h1.1m9.4 0h3.5M-94.3 -20.8h5.9m91.3 0h1.2m1.2 0h2.3m64.4 0h1.2m1.2 0h1.1m1.2 0h2.4m10.5 0h9.4m2.3 0h1.2m9.3 0h3.6M-95.3 -21.9h5.9m19.8 0h2.4m1.1 0h1.2m69 0h1.2m28 0h1.2m33.9 0h1.2m7 0h1.2m11.6 0h10.6M-98.6 -22.9h3.5m1.1 0h3.5m123.8 0h1.1m46.7 0h1.2m7 0h5.8m1.2 0h2.3M-99.6 -23.9h9.3m164.3 0h1.2m4.6 0h15.2m1.1 0h1.2m4.7 0h1.1M-98.3 -24.9h7m159.4 0h6.9m1.2 0h10.5m1.1 0h4.7m1.2 0h8.1m5.8 0h1.2M-102.8 -25.9h1.2m1.2 0h6.9m1.2 0h2.3m155.6 0h5.8m3.5 0h7m2.3 0h1.1m2.4 0h17.4M-101.4 -26.9h10.4m156.5 0h3.5m2.3 0h1.1m3.5 0h4.6m1.2 0h1.2m2.3 0h1.1m1.2 0h1.2m1.1 0h9.3m2.3 0h5.8m2.3 0h1.2m1.1 0h1.2M-98.9 -28h7m17.3 0h1.2m142.2 0h3.5m4.6 0h6.9m1.2 0h13.9m3.4 0h1.2m1.2 0h1.1m2.3 0h1.2m1.1 0h1.2M-97.5 -29h4.6m16.2 0h2.3m146.5 0h1.2m4.6 0h4.6m2.3 0h13.8m3.5 0h1.2m1.1 0h2.3m2.3 0h2.3M-97.2 -30h1.1m1.2 0h1.1m1.2 0h1.1m15 0h3.4m142.7 0h4.6m2.3 0h8.1m3.4 0h6.9m1.2 0h8m1.2 0h1.1m2.4 0h2.3M-100.4 -31h3.4m2.3 0h1.2m17.2 0h2.3m140 0h2.3m1.1 0h4.6m3.5 0h3.4m2.3 0h1.2m2.3 0h1.1m2.3 0h1.1m5.8 0h5.7m1.2 0h1.1m1.2 0h1.1m1.2 0h2.3M-101.3 -32h8m1.2 0h2.3m11.4 0h1.1m1.2 0h2.3m138.5 0h2.3m3.4 0h1.1m2.3 0h1.2m2.3 0h4.5m4.6 0h1.2m2.2 0h2.3m3.5 0h2.3m1.1 0h6.9m4.5 0h2.3M-101 -33h6.9m5.7 0h2.3m6.8 0h2.3m1.1 0h1.2m73 0h1.1m51.4 0h1.1m22.8 0h1.2m1.1 0h2.3m5.7 0h2.3m1.1 0h3.5m1.1 0h1.1m1.2 0h9.1m5.7 0h1.1M-106.3 -34.1h1.1m6.8 0h1.2m1.1 0h1.1m1.2 0h6.8m3.4 0h1.1m2.3 0h2.3m73.9 0h1.2m52.3 0h1.1m1.2 0h1.1m13.6 0h1.2m4.5 0h1.2m15.9 0h4.5m1.2 0h4.5m2.3 0h4.5M-107.1 -35.1h5.6m4.6 0h4.5m1.1 0h3.4m1.2 0h1.1m4.6 0h3.4m1.1 0h1.1m1.2 0h1.1m68 0h1.1m9.1 0h2.3m1.1 0h1.1m37.4 0h2.3m38.6 0h1.1m2.3 0h7.9m3.4 0h5.7m9 0h1.2M-107.9 -36.1h1.2m7.9 0h1.1m4.5 0h7.9m1.1 0h3.4m1.2 0h4.5m2.2 0h2.3m74.6 0h5.6m36.1 0h2.3m1.1 0h1.2m15.8 0h1.1m21.5 0h7.9m1.1 0h1.1m4.6 0h4.5m12.4 0h1.1m1.2 0h1.1M-107.5 -37.1h1.1m9 0h20.3m1.1 0h3.4m77.7 0h4.5m22.5 0h1.1m30.4 0h1.1m1.1 0h2.3m21.4 0h6.7m4.5 0h1.2m1.1 0h1.1m3.4 0h1.1m4.5 0h2.3m3.3 0h4.5M-98.1 -38.1h4.5m1.1 0h9m1.1 0h10.1m1.1 0h1.1m63.9 0h3.4m6.7 0h1.1m1.2 0h1.1m40.3 0h1.2m7.8 0h1.1m4.5 0h2.3m2.2 0h1.1m1.2 0h1.1m19 0h5.6m1.2 0h2.2m2.2 0h3.4m1.1 0h3.4m9 0h8.9M-108.9 -39.1h1.1m4.5 0h1.1m3.4 0h2.2m2.2 0h9m1.1 0h14.5m63.7 0h3.3m8.9 0h1.2m2.2 0h1.1m16.8 0h1.1m3.3 0h1.1m13.4 0h3.4m5.6 0h1.1m33.5 0h3.3m1.2 0h1.1m3.3 0h5.6m2.2 0h2.3m12.3 0h4.4M-102.9 -40.2h3.4m1.1 0h1.1m3.3 0h23.4m1.1 0h2.2m61.2 0h1.1m6.7 0h2.2m1.1 0h2.2m2.3 0h1.1m10 0h1.1m6.7 0h2.2m20 0h1.1m10 0h1.1m26.7 0h5.6m1.1 0h4.5m4.4 0h1.1m5.6 0h3.3m5.6 0h4.4M-103.5 -41.2h1.1m7.7 0h1.1m3.3 0h7.8m1.1 0h12.2m1.1 0h1.1m66.4 0h1.2m13.2 0h1.2m3.3 0h2.2m2.2 0h1.1m4.4 0h1.1m4.5 0h3.3m10 0h1.1m42.1 0h3.3m2.2 0h1.1m3.3 0h1.1m21.1 0h3.3M-106.4 -42.2h1.1m14.3 0h2.3m3.3 0h17.6m2.2 0h1.1m81.6 0h1.1m5.5 0h1.1m1.1 0h4.4m3.3 0h1.1m12.2 0h1.1m15.4 0h1.1m35.3 0h1.1m1.1 0h2.2m18.7 0h2.2M-105.9 -43.2h3.3m7.7 0h3.3m1.1 0h26.3m88.9 0h1.1m1.1 0h6.6m8.7 0h1.1m3.3 0h2.2m18.7 0h1.1m17.5 0h1.1m13.2 0h1.1m1.1 0h2.2m2.2 0h1.1m1.1 0h4.4m8.7 0h3.3M-104.3 -44.2h4.4m5.4 0h6.6m1.1 0h13.1m4.4 0h2.1m1.1 0h3.3m85.2 0h1.1m4.3 0h2.2m1.1 0h1.1m1.1 0h2.2m2.2 0h1.1m2.1 0h2.2m3.3 0h1.1m8.7 0h1.1m45.9 0h5.4m1.1 0h1.1m2.2 0h1.1m7.7 0h2.1M-105.9 -45.2h1.1m4.3 0h1.1m2.2 0h1.1m4.3 0h19.6m4.3 0h1.1m2.2 0h1m2.2 0h1.1m67.4 0h1m5.5 0h1.1m13 0h2.2m9.8 0h1m6.6 0h1m6.6 0h1m43.5 0h8.7m4.3 0h1.1m7.6 0h2.2M-106.4 -46.2h2.1m13 0h6.5m1 0h13m4.3 0h3.3m86.4 0h1.1m30.3 0h2.1m35.7 0h2.2m5.4 0h6.4m1.1 0h1.1m1.1 0h1.1m3.2 0h1.1m5.4 0h2.2M-106.9 -47.2h1m4.3 0h1.1m8.6 0h19.4m5.3 0h4.3m6.5 0h2.1m75.3 0h2.1m1.1 0h1.1m3.2 0h1.1m3.2 0h1.1m5.3 0h1.1m6.5 0h1m44.1 0h4.3m1.1 0h1m2.2 0h2.1m1.1 0h7.5m8.6 0h3.3M-105.3 -48.2h1.1m1.1 0h3.2m8.5 0h3.2m1.1 0h17.1m3.2 0h3.2m3.2 0h4.3m1.1 0h3.2m59.8 0h1.1m3.2 0h2.1m7.5 0h1.1m4.3 0h1m1.1 0h1.1m6.4 0h1m2.2 0h1.1m16 0h1.1m2.1 0h1.1m37.4 0h1m1.1 0h4.3m1.1 0h5.3m8.5 0h5.4M-102.6 -49.2h3.2m7.5 0h2.1m4.2 0h19.2m1 0h3.2m2.2 0h2.1m1 0h5.4m49.9 0h1.1m7.4 0h4.3m1 0h2.1m12.8 0h3.2m3.2 0h1m4.3 0h1.1m11.6 0h1.1m8.5 0h1.1m38.2 0h2.2m5.3 0h2.1m10.6 0h1.1m2.1 0h2.1m1.1 0h1.1M-99.9 -50.2h3.2m5.3 0h1.1m2.1 0h1m1.1 0h35.9m1.1 0h2.1m50.7 0h10.6m4.2 0h1m3.2 0h2.1m2.1 0h6.4m4.2 0h2.1m60.3 0h4.2m12.7 0h1m1.1 0h3.1M-91.9 -51.2h1m1.1 0h1m3.2 0h6.3m1 0h21.1m1 0h2.1m4.2 0h2.1m44.1 0h1.1m2.1 0h4.2m1 0h2.1m1.1 0h8.4m2.1 0h1m9.5 0h3.1m12.6 0h1.1m1 0h1.1m8.4 0h1m1.1 0h1m5.3 0h1.1m34.6 0h2.1m14.7 0h1.1m1 0h1.1M-94.5 -52.2h1.1m1 0h2.1m4.2 0h1m2.1 0h21.9m1.1 0h3.1m7.3 0h3.1m44.9 0h6.3m1 0h1.1m1 0h6.3m4.2 0h2.1m3.1 0h1m4.2 0h1.1m8.3 0h4.2m9.4 0h2.1m49 0h1.1M-103.2 -53.2h1m20.8 0h7.2m1.1 0h9.3m5.2 0h1m4.2 0h3.1m1 0h4.2m43.5 0h5.2m1.1 0h10.3m2.1 0h1.1m10.3 0h3.1m1.1 0h1m1.1 0h8.3m9.3 0h2.1m8.3 0h1m1 0h1.1m38.4 0h1M-100.5 -54.2h1m8.3 0h1m8.3 0h8.2m1 0h2.1m3.1 0h4.1m9.3 0h1m1.1 0h1m1 0h4.1m41.3 0h6.1m1.1 0h11.3m1 0h1.1m6.2 0h1m3.1 0h2m3.1 0h3.1m3.1 0h1m8.3 0h1m1.1 0h6.1m1.1 0h1m2.1 0h1m2.1 0h1m45.3 0h1.1m5.1 0h2.1M-101.8 -55.1h1m6.1 0h3.1m5.1 0h1m3.1 0h1m2.1 0h9.2m16.4 0h7.1m37.9 0h3.1m1 0h5.1m1 0h12.3m3.1 0h1m4.1 0h8.2m2 0h1.1m3 0h1.1m1 0h1m6.1 0h4.1m1.1 0h1m1 0h2.1m4.1 0h1m1 0h4.1m3.1 0h1m37.9 0h5.1m4.1 0h1M-101.1 -56.1h3m5.1 0h2m13.3 0h3m1 0h3.1m17.2 0h5.1m39.7 0h9.1m2 0h9.2m1 0h3.1m10.1 0h5.1m2 0h1m3.1 0h1m5.1 0h1m2 0h4.1m5.1 0h1m1 0h3.1m3 0h2m41.7 0h2m1.1 0h1m1 0h1m1 0h3.1M-101.4 -57.1h3m22.2 0h2.1m1 0h2m1 0h2m17.2 0h2m40.3 0h7.1m2 0h1m2 0h4.1m1 0h3m1 0h4m6.1 0h1m6.1 0h1m2 0h6m3.1 0h1m1 0h1m1 0h6.1m2 0h3m1 0h1m3 0h1m3.1 0h1m39.3 0h6.1m2 0h2M-103.6 -58.1h1m12 0h2m13 0h5m62.1 0h2m2 0h4m13 0h5m3 0h2m4 0h1m6 0h6m1 0h2m4.1 0h2m1 0h1m4 0h2m49 0h6M-101.8 -59h3m8.9 0h3m11.9 0h1m1 0h1m64.5 0h2m1 0h4m9.9 0h2m5 0h3m1 0h1m2.9 0h1m5 0h4m2 0h2.9m7 0h1m5.9 0h3m9 0h1m39.7 0h2M-3.4 -60h1.9m8.9 0h1m2.9 0h2m3.9 0h1m1 0h2m1 0h1.9m1 0h2m4.9 0h2m1 0h2m8.8 0h1m4.9 0h1m1 0h1m6.9 0h1m6.9 0h1.9m27.6 0h1M-5.4 -60.9h2m1 0h.9m11.8 0h2.9m2.9 0h2m1.9 0h3.9m1 0h3m4.8 0h1m10.8 0h.9m24.5 0h1m37.1 0h1M-5.3 -61.9h.9m8.8 0h.9m1 0h8.7m2.9 0h2m3.8 0h2m1 0h.9m11.7 0h2.9m.9 0h1m9.7 0h1m.9 0h2m1.9 0h1m5.8 0h3.9M5.3 -62.8h9.6m3.8 0h1m1 0h4.8m6.7 0h2.9m.9 0h1m1.9 0h1m.9 0h1m10.6 0h3.8m6.7 0h3.9m.9 0h1M4.3 -63.8h10.5m1.9 0h3.8m1.9 0h.9m2.9 0h.9m3.9 0h.9m8.6 0h.9m11.5 0h.9M5.2 -64.7h7.5m3.8 0h2.9m.9 0h.9m1 0h.9m1.9 0h1m20.7 0h1.9m5.7 0h.9m9.5 0h.9m2.8 0h1.9M4.2 -65.6h4.7m.9 0h1m.9 0h1.9m1.8 0h2.8m1 0h3.7m1 0h2.8m2.8 0h.9m7.5 0h.9m2.8 0h1m11.2 0h.9m3.8 0h1.8m1 0h.9m4.7 0h2.8M4.2 -66.5h.9m4.6 0h1m.9 0h1.8m3.7 0h2.8m1 0h.9m2.8 0h.9m.9 0h.9m1 0h3.7m5.5 0h1m6.4 0h1m4.6 0h.9m6.5 0h1.9m6.5 0h2.7M11.5 -67.4h4.6m3.6 0h1m.9 0h1.8m1.8 0h1m2.7 0h2.8m17.4 0h2.8m5.5 0h1.8m7.3 0h1M10.5 -68.3h5.4m.9 0h2.7m4.6 0h.9m.9 0h.9m8.2 0h1.8m12.7 0h.9M7.7 -69.2h.9m1.8 0h5.4m2.7 0h1.8m4.5 0h.9m4.5 0h1.8m2.7 0h2.7m7.2 0h.9m10.8 0h1.8M8.5 -70.1h.9m1.7 0h.9m.9 0h1.8m7.1 0h1.8m.9 0h.9m10.7 0h.9m16 0h.9m.9 0h.9M9.3 -71h.8m.9 0h.9m.9 0h3.5m28.2 0h.9m6.2 0h.9m7.9 0h.9m.9 0h1.7m3.6 0h.8M10 -71.9h7m17.5 0h.8m3.5 0h.9m20.9 0h.9m.9 0h1.7M13.4 -72.7h3.4m25.9 0h.9m3.4 0h.9m.9 0h2.6m8.6 0h1.7m.9 0h2.6M14.1 -73.6h.8m40.2 0h.8m3.4 0h.9m.8 0h1.7M57 -74.4h4.2m5.9 0h.8M33.8 -75.2h.8m21.7 0h.8m.9 0h.8m5 0h.8M54.8 -76.1h.8m.8 0h.9m.8 0h.8M65.5 -76.9h1.6"/>
<use href="#coast"/>
</g>
<use href="#fr" fill="none" stroke="#000" stroke-width="0.6"/>
</g>
<rect x="23.20" y="327.2" width="43.40" height="15.4" fill="#3E0BF5" stroke="#000" stroke-width="0.7"/>
<rect x="66.60" y="327.2" width="43.40" height="15.4" fill="#3773EA" stroke="#000" stroke-width="0.7"/>
<rect x="110.00" y="327.2" width="43.40" height="15.4" fill="#14C1F2" stroke="#000" stroke-width="0.7"/>
<rect x="153.40" y="327.2" width="43.40" height="15.4" fill="#CDE9F7" stroke="#000" stroke-width="0.7"/>
<rect x="196.80" y="327.2" width="43.40" height="15.4" fill="#FDB913" stroke="#000" stroke-width="0.7"/>
<rect x="240.20" y="327.2" width="43.40" height="15.4" fill="#FA3C05" stroke="#000" stroke-width="0.7"/>
<rect x="283.60" y="327.2" width="43.40" height="15.4" fill="#D62B27" stroke="#000" stroke-width="0.7"/>
<rect x="373.20" y="327.2" width="43.40" height="15.4" fill="#3E0BF5" stroke="#000" stroke-width="0.7"/>
<rect x="416.60" y="327.2" width="43.40" height="15.4" fill="#3773EA" stroke="#000" stroke-width="0.7"/>
<rect x="460.00" y="327.2" width="43.40" height="15.4" fill="#14C1F2" stroke="#000" stroke-width="0.7"/>
<rect x="503.40" y="327.2" width="43.40" height="15.4" fill="#CDE9F7" stroke="#000" stroke-width="0.7"/>
<rect x="546.80" y="327.2" width="43.40" height="15.4" fill="#FDB913" stroke="#000" stroke-width="0.7"/>
<rect x="590.20" y="327.2" width="43.40" height="15.4" fill="#FA3C05" stroke="#000" stroke-width="0.7"/>
<rect x="633.60" y="327.2" width="43.40" height="15.4" fill="#D62B27" stroke="#000" stroke-width="0.7"/>
<rect x="34.70" y="604.3" width="20.20" height="15.1" fill="#3F0BF2" stroke="#000" stroke-width="0.7"/>
<rect x="54.90" y="604.3" width="20.20" height="15.1" fill="#1A28EA" stroke="#000" stroke-width="0.7"/>
<rect x="75.10" y="604.3" width="20.20" height="15.1" fill="#3A6FE2" stroke="#000" stroke-width="0.7"/>
<rect x="95.30" y="604.3" width="20.20" height="15.1" fill="#1E8EF5" stroke="#000" stroke-width="0.7"/>
<rect x="115.50" y="604.3" width="20.20" height="15.1" fill="#0FB4F5" stroke="#000" stroke-width="0.7"/>
<rect x="135.70" y="604.3" width="20.20" height="15.1" fill="#5CBCEE" stroke="#000" stroke-width="0.7"/>
<rect x="155.90" y="604.3" width="20.20" height="15.1" fill="#B4DCF5" stroke="#000" stroke-width="0.7"/>
<rect x="176.10" y="604.3" width="20.20" height="15.1" fill="#FFF79C" stroke="#000" stroke-width="0.7"/>
<rect x="196.30" y="604.3" width="20.20" height="15.1" fill="#FFDC32" stroke="#000" stroke-width="0.7"/>
<rect x="216.50" y="604.3" width="20.20" height="15.1" fill="#FFB400" stroke="#000" stroke-width="0.7"/>
<rect x="236.70" y="604.3" width="20.20" height="15.1" fill="#FF8214" stroke="#000" stroke-width="0.7"/>
<rect x="256.90" y="604.3" width="20.20" height="15.1" fill="#FA320A" stroke="#000" stroke-width="0.7"/>
<rect x="277.10" y="604.3" width="20.20" height="15.1" fill="#E60000" stroke="#000" stroke-width="0.7"/>
<rect x="297.30" y="604.3" width="20.20" height="15.1" fill="#D2282D" stroke="#000" stroke-width="0.7"/>
<text x="350.3" y="82" font-size="19.3" text-anchor="middle">SON SMIN_NO3_LEACHED (gN/m^2/y)</text>
<text x="174.85" y="109.7" font-size="15.8" text-anchor="middle">Myccost_I2000Clm50BgcCrop_kparams</text>
<text x="175.1" y="126.5" font-size="15.8" text-anchor="middle">(yrs 1-14)</text>
<text x="524.85" y="109.7" font-size="15.8" text-anchor="middle">Myccost_I2000Clm50BgcCrop_control</text>
<text x="525.1" y="126.5" font-size="15.8" text-anchor="middle">(yrs 1-14)</text>
<text x="174.85" y="386" font-size="15.8" text-anchor="middle">Myccost_I2000Clm50BgcCrop_kparams</text>
<text x="175.5" y="403.7" font-size="15.8" text-anchor="middle">- Myccost_I2000Clm50BgcCrop_control</text>
<text x="525" y="396.9" font-size="15.8" text-anchor="middle">T-Test of two Case means at each grid point</text>
<text x="523.4" y="625.4" font-size="12.75" text-anchor="middle">Cells are significant at 0.1 level</text>
<text x="66.6" y="356.8" font-size="12" text-anchor="middle">0</text>
<text x="110.0" y="356.8" font-size="12" text-anchor="middle">0.02</text>
<text x="153.4" y="356.8" font-size="12" text-anchor="middle">0.04</text>
<text x="196.8" y="356.8" font-size="12" text-anchor="middle">0.06</text>
<text x="240.2" y="356.8" font-size="12" text-anchor="middle">0.08</text>
<text x="283.6" y="356.8" font-size="12" text-anchor="middle">0.1</text>
<text x="416.6" y="356.8" font-size="12" text-anchor="middle">0</text>
<text x="460.0" y="356.8" font-size="12" text-anchor="middle">0.02</text>
<text x="503.4" y="356.8" font-size="12" text-anchor="middle">0.04</text>
<text x="546.8" y="356.8" font-size="12" text-anchor="middle">0.06</text>
<text x="590.2" y="356.8" font-size="12" text-anchor="middle">0.08</text>
<text x="633.6" y="356.8" font-size="12" text-anchor="middle">0.1</text>
<text x="34.9" y="633.4" font-size="12.6" text-anchor="middle">-2.7534</text>
<text x="95.5" y="633.4" font-size="12.6" text-anchor="middle">-.2</text>
<text x="135.9" y="633.4" font-size="12.6" text-anchor="middle">-.1</text>
<text x="176.3" y="633.4" font-size="12.6" text-anchor="middle">.0</text>
<text x="216.7" y="633.4" font-size="12.6" text-anchor="middle">.1</text>
<text x="257.1" y="633.4" font-size="12.6" text-anchor="middle">.2</text>
<text x="317.7" y="633.4" font-size="12.6" text-anchor="middle">2.4301</text>
</svg></body></html>
